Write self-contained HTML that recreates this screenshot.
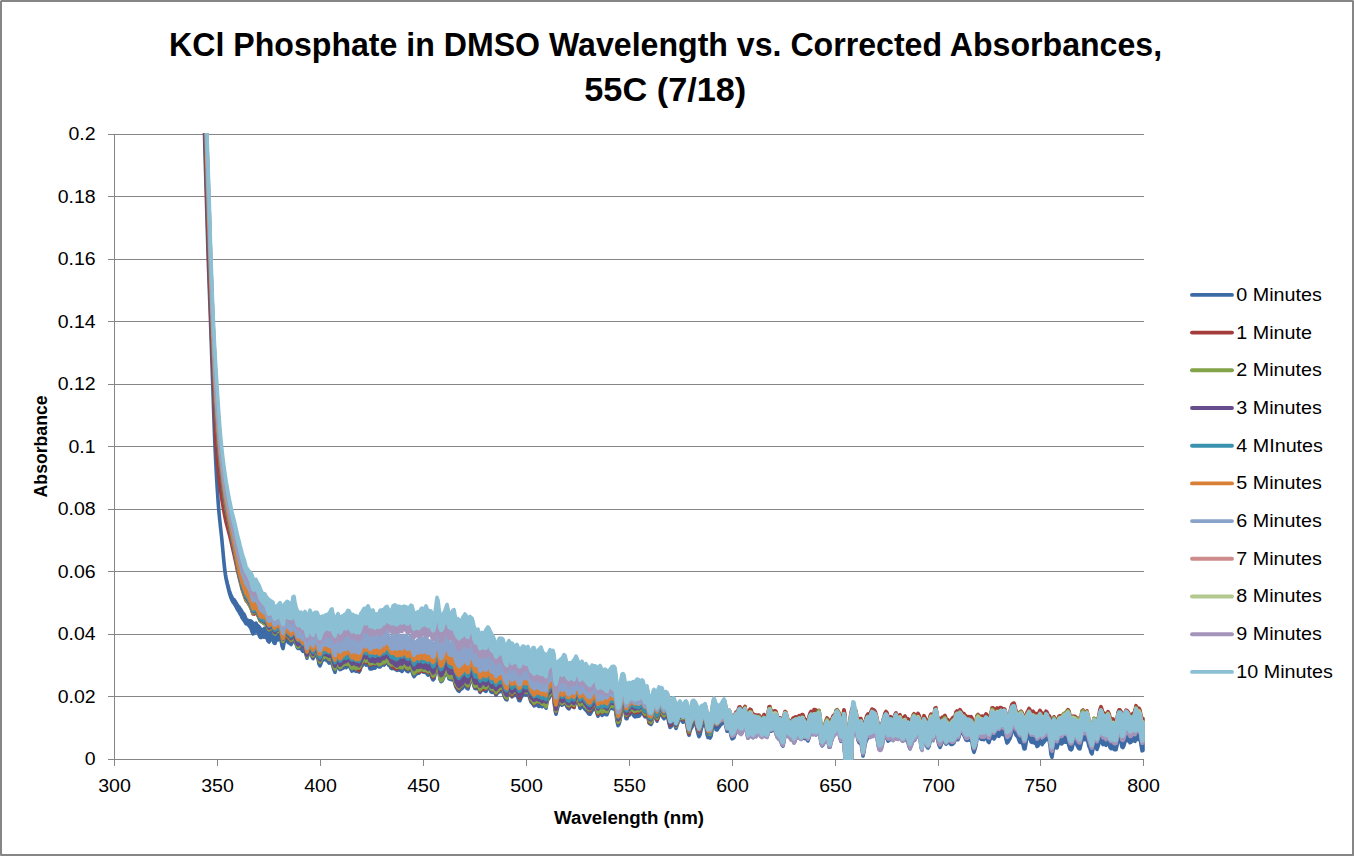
<!DOCTYPE html>
<html><head><meta charset="utf-8"><title>KCl Phosphate in DMSO Wavelength vs. Corrected Absorbances, 55C (7/18)</title>
<style>
html,body{margin:0;padding:0;background:#fff;}
body{width:1354px;height:856px;overflow:hidden;}
svg{display:block;}
text{font-family:'Liberation Sans', Arial, sans-serif;fill:#000;}
</style></head><body>
<svg width="1354" height="856" viewBox="0 0 1354 856">
<rect x="0" y="0" width="1354" height="856" fill="#fff"/>

<rect x="1" y="1" width="1352" height="854" fill="none" stroke="#868686" stroke-width="2"/>
<rect x="0" y="0" width="1" height="1" fill="#d6d6d6"/><rect x="1353" y="0" width="1" height="1" fill="#c2c2c2"/><rect x="0" y="855" width="1" height="1" fill="#a6a6a6"/><rect x="1353" y="855" width="1" height="1" fill="#909090"/>
<path d="M114 134.5H1144 M114 196.5H1144 M114 259.5H1144 M114 321.5H1144 M114 384.5H1144 M114 446.5H1144 M114 509.5H1144 M114 571.5H1144 M114 634.5H1144 M114 696.5H1144 M114 759.5H1144" stroke="#868686" stroke-width="1" fill="none"/>
<path d="M114.5 134V766 M108 134.5H114 M108 196.5H114 M108 259.5H114 M108 321.5H114 M108 384.5H114 M108 446.5H114 M108 509.5H114 M108 571.5H114 M108 634.5H114 M108 696.5H114 M108 759.5H114 M114.5 759V766 M217.5 759V766 M320.5 759V766 M423.5 759V766 M526.5 759V766 M629.5 759V766 M732.5 759V766 M835.5 759V766 M938.5 759V766 M1040.5 759V766 M1143.5 759V766" stroke="#868686" stroke-width="1" fill="none"/>
<text transform="translate(95.6,765.1) scale(1.065,1)" font-size="18.3" text-anchor="end">0</text>
<text transform="translate(95.6,702.6) scale(1.065,1)" font-size="18.3" text-anchor="end">0.02</text>
<text transform="translate(95.6,640.1) scale(1.065,1)" font-size="18.3" text-anchor="end">0.04</text>
<text transform="translate(95.6,577.6) scale(1.065,1)" font-size="18.3" text-anchor="end">0.06</text>
<text transform="translate(95.6,515.1) scale(1.065,1)" font-size="18.3" text-anchor="end">0.08</text>
<text transform="translate(95.6,452.6) scale(1.065,1)" font-size="18.3" text-anchor="end">0.1</text>
<text transform="translate(95.6,390.1) scale(1.065,1)" font-size="18.3" text-anchor="end">0.12</text>
<text transform="translate(95.6,327.6) scale(1.065,1)" font-size="18.3" text-anchor="end">0.14</text>
<text transform="translate(95.6,265.1) scale(1.065,1)" font-size="18.3" text-anchor="end">0.16</text>
<text transform="translate(95.6,202.6) scale(1.065,1)" font-size="18.3" text-anchor="end">0.18</text>
<text transform="translate(95.6,140.1) scale(1.065,1)" font-size="18.3" text-anchor="end">0.2</text>
<text transform="translate(114.5,792) scale(1.07,1)" font-size="18.3" text-anchor="middle">300</text>
<text transform="translate(217.5,792) scale(1.07,1)" font-size="18.3" text-anchor="middle">350</text>
<text transform="translate(320.5,792) scale(1.07,1)" font-size="18.3" text-anchor="middle">400</text>
<text transform="translate(423.5,792) scale(1.07,1)" font-size="18.3" text-anchor="middle">450</text>
<text transform="translate(526.5,792) scale(1.07,1)" font-size="18.3" text-anchor="middle">500</text>
<text transform="translate(629.5,792) scale(1.07,1)" font-size="18.3" text-anchor="middle">550</text>
<text transform="translate(732.5,792) scale(1.07,1)" font-size="18.3" text-anchor="middle">600</text>
<text transform="translate(835.5,792) scale(1.07,1)" font-size="18.3" text-anchor="middle">650</text>
<text transform="translate(938.5,792) scale(1.07,1)" font-size="18.3" text-anchor="middle">700</text>
<text transform="translate(1040.5,792) scale(1.07,1)" font-size="18.3" text-anchor="middle">750</text>
<text transform="translate(1143.5,792) scale(1.07,1)" font-size="18.3" text-anchor="middle">800</text>
<text x="665.6" y="56.2" font-size="33.6" font-weight="bold" text-anchor="middle" textLength="993" lengthAdjust="spacingAndGlyphs">KCl Phosphate in DMSO Wavelength vs. Corrected Absorbances,</text>
<text x="665.3" y="101.2" font-size="33.6" font-weight="bold" text-anchor="middle" textLength="162" lengthAdjust="spacingAndGlyphs">55C (7/18)</text>
<text x="629.1" y="823.6" font-size="18" font-weight="bold" text-anchor="middle" textLength="150" lengthAdjust="spacingAndGlyphs">Wavelength (nm)</text>
<text transform="translate(47,446.4) rotate(-90)" x="0" y="0" font-size="18" font-weight="bold" text-anchor="middle" textLength="102" lengthAdjust="spacingAndGlyphs">Absorbance</text>
<line x1="1192" y1="294.9" x2="1232" y2="294.9" stroke="#3C6BA6" stroke-width="3.9" stroke-linecap="round"/>
<text transform="translate(1236.3,300.8) scale(1.085,1)" font-size="18.2">0 Minutes</text>
<line x1="1192" y1="332.6" x2="1232" y2="332.6" stroke="#A43D3A" stroke-width="3.9" stroke-linecap="round"/>
<text transform="translate(1236.3,338.5) scale(1.085,1)" font-size="18.2">1 Minute</text>
<line x1="1192" y1="370.3" x2="1232" y2="370.3" stroke="#82A348" stroke-width="3.9" stroke-linecap="round"/>
<text transform="translate(1236.3,376.2) scale(1.085,1)" font-size="18.2">2 Minutes</text>
<line x1="1192" y1="408.0" x2="1232" y2="408.0" stroke="#684D8C" stroke-width="3.9" stroke-linecap="round"/>
<text transform="translate(1236.3,413.9) scale(1.085,1)" font-size="18.2">3 Minutes</text>
<line x1="1192" y1="445.7" x2="1232" y2="445.7" stroke="#3A93AE" stroke-width="3.9" stroke-linecap="round"/>
<text transform="translate(1236.3,451.6) scale(1.085,1)" font-size="18.2">4 MInutes</text>
<line x1="1192" y1="483.4" x2="1232" y2="483.4" stroke="#DA7F36" stroke-width="3.9" stroke-linecap="round"/>
<text transform="translate(1236.3,489.3) scale(1.085,1)" font-size="18.2">5 Minutes</text>
<line x1="1192" y1="521.1" x2="1232" y2="521.1" stroke="#8AA3CB" stroke-width="3.9" stroke-linecap="round"/>
<text transform="translate(1236.3,527.0) scale(1.085,1)" font-size="18.2">6 Minutes</text>
<line x1="1192" y1="558.8" x2="1232" y2="558.8" stroke="#CD8C8B" stroke-width="3.9" stroke-linecap="round"/>
<text transform="translate(1236.3,564.7) scale(1.085,1)" font-size="18.2">7 Minutes</text>
<line x1="1192" y1="596.5" x2="1232" y2="596.5" stroke="#B3C98F" stroke-width="3.9" stroke-linecap="round"/>
<text transform="translate(1236.3,602.4) scale(1.085,1)" font-size="18.2">8 Minutes</text>
<line x1="1192" y1="634.2" x2="1232" y2="634.2" stroke="#A594B9" stroke-width="3.9" stroke-linecap="round"/>
<text transform="translate(1236.3,640.1) scale(1.085,1)" font-size="18.2">9 Minutes</text>
<line x1="1192" y1="671.9" x2="1232" y2="671.9" stroke="#8BBFD3" stroke-width="3.9" stroke-linecap="round"/>
<text transform="translate(1236.3,677.8) scale(1.085,1)" font-size="18.2">10 Minutes</text>
<g clip-path="url(#plotclip)"><path d="M203.5 92l.5 21.6 .5 20.4 .5 18.7 .5 17.1 .5 16.6 .5 16.9 .5 17 .5 16.7 .5 15.9 .5 14.9 .5 13.7 .5 13.3 .5 13.1 .5 13.6 .5 14.1 .5 14.3 .5 14.3 .5 14.2 .5 14.1 .5 14.6 .5 14.3 .5 13.3 .5 11.8 .5 10.5 .5 9.8 .5 9.3 .5 8.5 .5 7.9 .5 7.3 .5 6.7 .5 6 .5 5.3 .5 4.8 .5 4.5 .5 4.5 .5 4.5 .5 4.9 .5 5.3 .5 5.6 .5 5.5 .5 5.1 .5 4.7 .5 4 .5 3.3 .5 2.8 .5 2.4 .5 2.1 .5 2.1 .5 1.9 .5 1.9 .5 1.8 .5 1.6 .5 1.4 .5 1.4 .5 1.3 .5 1.2 .5 1 .5 .8 .5 .7 .5 .4 .5 .3 .5 .7 .5 .6 .5 .9 .5 .9 .5 .9 .5 .9 .5 .7 .5 .7 .5 .5 .5 .6 .5 .8 .5 .8 .5 .6 .5 .7 .5 .9 .5 1 .5 .7 .5 .7 .5 .5 .5 .4 .5 1.2 .5 1.2 .5 1.3 .5 1.4 .5 .4 .5 .4 .5 .2 .5 .2 .5 .3 .5 .3 .5-.2 .5-.1 .5 .1 .5 .1 .5 .5 .5 .6 .5 .8 .5 .8 .5 .4 .5 .4 .5-.3 .5-.5 .5-.2 .5-.3 .5 .9 .5 .9 .5 .4 .5 .4 .5 .5 .5 .5 .5 .7 .5 .7 .5 .8 .5 .7 .5 .3 .5 .4 .5-.3 .5-.3 .5-.5 .5-.5 .5-.3 .5-.3 .5 .5 .5 .5 .5 .2 .5 .2 .5 .7 .5 .6 .5-.7 .5-.7 .5 0 .5 0 1 1.3 1-1.2 1 .5 1 3.3 1 2 1-2.4 1-1.5 1-1 1-1.3 1-.8 1 2.3 1 5.8 1 3 1-6.1 1-3.5 1-.2 1-1.5 1 .9 1 1.7 1 1.2 1 2.5 1-1.9 1-7.5 1-.9 1 5.2 1 4.3 1 2.8 1 1.3 1 1.2 1 .3 1-.6 1 1.7 1 .7 1-1.4 1-1.7 1 2.2 1 3.5 1-.7 1-4.5 1-2.9 1 3 1 2.1 1 1.6 1-1.3 1-1.2 1 .6 1 .5 1 2.9 1 5.1 1 1.8 1-2.5 1-.2 1 2.2 1-.8 1-.4 1 .6 1 .5 1 .7 1-.5 1-1.1 1-2.1 1-.5 1 5.6 1 5.6 1 1.4 1-1 1-2.9 1-1.8 1 3 1 2.5 1 .1 1-.8 1 .5 1-.8 1-1 1-.7 1-2 1-1.8 1 .6 1 2.1 1 2.4 1 1.3 1-1.4 1 1 1 0 1-.5 1 .9 1 1.2 1 .7 1-1.8 1-2.3 1-.9 1-1.5 1-1.3 1 .1 1 1.8 1-1.9 1-1.7 1 2.5 1 4.1 1 0 1-1.8 1-1 1 2.1 1 2 1-1.6 1-.7 1 1.1 1-1.1 1-2.9 1-.1 1 .4 1-.1 1 .1 1-1.1 1-.8 1 .1 1 2.4 1 3.3 1-.3 1 1.4 1-1.2 1-3.3 1-.8 1-.3 1 .7 1 2.2 1-.1 1 .3 1 1 1 1.4 1 .6 1-1.3 1-.8 1 .6 1-.8 1 2.2 1 1.6 1-1.1 1-1.4 1-1.2 1 .3 1 3.2 1 3.5 1 .5 1-1.6 1-1.7 1-1.3 1 1.3 1-.5 1-3.7 1 .2 1 2 1 1.1 1-1.3 1-1.7 1 2.7 1 3.1 1 .2 1-1.1 1 .6 1 2.6 1 2.7 1 .7 1-3.1 1-7.6 1-7 1 3.2 1 7.9 1 5.8 1 1.6 1 .6 1-.7 1-2.1 1-2 1-2.8 1-2.9 1 4 1 4.7 1-.4 1 .1 1-1.7 1-1.8 1-.1 1 5.5 1 4.8 1 .3 1-.5 1 1.5 1 .8 1-1.2 1-.9 1-2.6 1-1.4 1-2 1 1.1 1 3.2 1 1.2 1-2.6 1-1.9 1 .9 1-.8 1 2.7 1 3.9 1 1.8 1 1.4 1-2 1-.8 1 3.4 1 1.3 1-1.5 1-2 1 .2 1 .2 1-1.3 1-1.3 1-1.1 1-.9 1 1.2 1 1.7 1 1.1 1 1.4 1 .4 1 1.3 1 2.8 1 0 1 1.1 1-2.4 1-3 1-.4 1 .8 1-.6 1 .2 1 2.6 1 1.6 1 3.4 1 2.4 1-10.1 1-2 1 2.4 1-.1 1-.4 1 1.7 1 3.1 1-.1 1-2.5 1-.7 1 2.6 1 3.9 1 .5 1-1.2 1-3.4 1-2.1 1-.6 1 1.5 1 .7 1-1.8 1-.7 1 3.1 1 4.9 1 .6 1-3.9 1-2.7 1 .3 1 2.6 1 3.1 1 1.5 1-2.5 1-2.3 1-.6 1-1.6 1 2.7 1 1.7 1 .2 1 4.3 1 3.3 1-6.3 1-.7 1-2.1 1-3 1 1 1 .9 1-2.7 1 3.7 1 9.5 1 4.9 1-1.8 1-2.7 1-1.5 1-.5 1-1.7 1-.6 1-1.6 1-1.7 1 .8 1 3.6 1 3.5 1 1.2 1-.9 1-1.1 1 .2 1-.1 1-2.7 1-1.9 1-1.9 1-2 1 2 1 3.2 1 2.2 1 1.6 1-.9 1-1.9 1 2.9 1 2.3 1-1.9 1-.6 1 2.7 1 0 1 2.3 1 2 1-1.6 1-4.3 1 .4 1-.2 1-.3 1 .1 1 1.8 1 2.5 1-2.3 1-2.1 1 1.8 1 4.5 1-.8 1-4.5 1-1.3 1 .1 1 1.5 1 2 1-3 1-3 1-1.8 1-2.3 1-.8 1-.5 1 .6 1 6.8 1 9 1 6.8 1-.1 1-6 1-6.1 1-5 1-.8 1 1 1 5.8 1 6.8 1-2.5 1-2.7 1-1.1 1 .4 1 .2 1-.4 1-.1 1 .5 1 .4 1-1.2 1-1.4 1 .2 1 1.1 1 .4 1-.7 1-1.4 1 .3 1 3.1 1 2.2 1-1.9 1-1.1 1 5.1 1 3.8 1 3.1 1 .9 1-2.1 1-5.5 1-1.6 1 2.2 1 .3 1 1.9 1-4.7 1-3 1 .8 1-.6 1-.2 1 3.2 1 2.3 1-.3 1-2.7 1-.6 1 1.2 1 3.2 1 1.3 1-.5 1-.8 1-2.3 1 .2 1 2.9 1 3.6 1 .6 1-1.8 1-2.3 1-1.3 1 3.4 1-.2 1 .7 1-.2 1-.7 1-.5 1 1.6 1 6.9 1 5.2 1-1.1 1-6 1-5.4 1-1.2 1 0 1 .9 1 1.8 1 2.3 1 4.1 1 2.2 1-2 1-1.4 1-1.3 1-.5 1-1 1-1.4 1 3 1 5.7 1 2.5 1-1.1 1 1.9 1 .9 1-7.2 1-8.6 1-3 1 2 1 3.2 1 0 1 .3 1 1.9 1-1.2 1-2.3 1-1.7 1-2.1 1-1.9 1 1 1 6.3 1 3.7 1-.7 1-2.1 1 2.1 1 4.5 1 4.9 1 2.1 1-3.4 1-3.4 1-2.1 1 1.6 1-3.1 1-3 1-.2 1 2.7 1 2.3 1-1.5 1-4.3 1-1.6 1 5.5 1 1.9 1 .5 1-1.4 1-2.2 1 .1 1 2.5 1 1.1 1-.2 1 .4 1 .4 1 1.1 1-.7 1-.2 1 1.2 1 1.8 1 1.7 1-2.3 1-2.8 1 1.3 1 1.3 1-1.5 1-2.2 1-6.6 1 .1 1 4.2 1 1.1 1 .6 1-.4 1-.7 1-.1 1 2.4 1 3.8 1 .3 1-1.4 1 1.2 1 1.5 1-.2 1-3.4 1-4 1 .2 1 3.9 1 3.3 1 .4 1 1.9 1 1.8 1-1.4 1-2.9 1 0 1-1.5 1-.5 1 .8 1-.7 1-1.8 1 1.6 1 1.5 1-4.3 1 .5 1 3.4 1 1.7 1 .9 1 2.6 1-1 1-4.2 1-3.6 1-2.1 1 2.2 1-.3 1-3.4 1 .2 1 .4 1 .1 1-.3 1-1.2 1 4.9 1 10.2 1 1.4 1-.7 1-.6 1-1.6 1-2.8 1-1.9 1 1.5 1 3.3 1 .9 1-3 1-2.4 1-3.3 1-1.6 1-.1 1-4.7 1-.7 1 1.6 1 2.2 1 6 1 2.2 1-1.6 1-1.6 1-5.4 1 3.9 1 14.2 1 11 1-.4 1-10.1 1-10.6 1-6.2 1-4 1-2.3 1 .9 1 .3 1 2.1 1 6.7 1 3.3 1 .8 1-1.9 1 .1 1 4.7 1 4.5 1-.8 1-4.9 1-3.7 1-2.6 1-1.5 1 .6 1 0 1-4.4 1-2.5 1 1.9 1-1 1 .8 1 2.5 1 4.1 1 5 1 3.1 1 .7 1-.9 1-2.3 1-2.9 1-2.7 1-2.9 1-1 1 1.2 1 3.5 1 2.3 1-1.3 1-2 1 1 1 1.8 1-1.3 1-5.4 1-1.5 1 4.1 1 2.9 1-3.3 1-.8 1 3.2 1 2.6 1-.6 1-2 1-.6 1 3.4 1 2 1-1.7 1 .5 1 2.2 1-1.3 1-4 1-3.6 1-1.2 1 2 1 1.8 1-1.1 1-1.8 1 1.1 1 2.6 1 8.5 1 1.4 1-8.2 1-4.5 1 2.1 1 2.6 1 3.8 1 1.6 1-3.8 1-4.6 1-1.9 1 1.8 1 1.3 1-3 1-6.5 1-.5 1 6.5 1 4.8 1 4.2 1 1.6 1-3.1 1-2 1 .1 1-2.4 1-1.4 1 2.2 1 1.5 1 .6 1 2.4 1 .6 1-.5 1-2.6 1-1.4 1 .2 1-2.2 1-4.4 1-1.3 1 3.1 1-.6 1-3 1 1.5 1 2.3 1 0 1 .4 1 1.9 1 .3 1 1.8 1 .5 1-1.3 1 1.1 1 .5 1 2.2 1 6.6 1 3.2 1-3.4 1-5.4 1-5.2 1-1.6 1 2.6 1-.3 1 .9 1-.1 1 .6 1 1.2 1-1.6 1-1.6 1 1.4 1 2.3 1 1 1-1.4 1-3.7 1-4.9 1 .7 1 6 1-.3 1-3.7 1-1.4 1 .8 1 1 1-2.5 1-.3 1 .6 1 .2 1-.4 1 1 1 4.5 1 4.6 1 .3 1-3.4 1-4.4 1-4.5 1-2.4 1-.6 1-.1 1 3.2 1 4.2 1 1 1 .6 1 1.3 1-1.6 1-.6 1 1.9 1 2.5 1 4.3 1 .9 1-3.3 1-4.1 1-2 1-2.2 1 1.7 1 3.4 1-.4 1-.5 1 1.4 1 1.1 1-.8 1 .5 1 .5 1-2.2 1-1.9 1 1.9 1 1.3 1-.4 1 1.1 1-1.2 1-3.9 1 .7 1 3 1 .7 1 2.4 1 6.9 1 4.3 1-6.2 1-4.4 1 1.7 1 3.7 1-1.3 1-3 1-2.7 1-.3 1 1 1-.7 1-1.3 1-1.3 1-.7 1-.8 1-1.4 1-1.3 1 1.5 1 3.8 1 3.6 1-2.3 1-1.6 1 .5 1 .4 1 2.2 1 .9 1-.3 1 .5 1 1 1-2.3 1-6.4 1-1.2 1 1.8 1 1.2 1-.3 1-1.9 1 3.9 1 4.7 1 3.5 1 2.2 1 0 1-4 1-4.1 1 .7 1 2.5 1 1.6 1-.7 1-5.1 1-5.2 1-2.9 1 2.8 1 3.7 1-.7 1 .3 1 2.4 1-2.9 1-2.2 1 2.6 1 4.6 1 2.8 1 .2 1-.5 1 .7 1 1.3 1-.8 1-3.5 1-6.3 1-2.5 1 0 1 1.8 1 3.6 1 2.3 1-1.2 1-3.1 1-1.7 1 .6 1 1.2 1 1.8 1 2.4 1 .7 1-1.9 1-1.3 1-.3 1-3.2 1-4.7 1 2.1 1 2.4 1-1.3 1 2.2 1 5.7 1 4.4 1-1.4L1143 750.5l-1 .3 -1-6.1 -1-7.2 -1 .2 -1 1.8 -1-.3 -1-.7 -1 2.8 -1-.4 -1-1.4 -1 .8 -1 2 -1 .4 -1-2.4 -1-.6 -1 1.1 -1-.3 -1 1.1 -1 3.8 -1 2.2 -1-.4 -1-4.8 -1-6.5 -1 .2 -1 3.6 -1 5.9 -1 4.2 -1 0 -1-.5 -1-1.2 -1-.1 -1 .6 -1-1.2 -1-3.3 -1-3.3 -1 1.5 -1 3 -1-2.8 -1-.1 -1 2.2 -1-1.7 -1-4.2 -1-.1 -1 4.2 -1 3.9 -1 2.6 -1-1.8 -1-5.3 -1 .5 -1 6.1 -1 5.1 -1-1.4 -1-4 -1-2 -1-4.4 -1-4.2 -1 1.6 -1 .3 -1-1.3 -1-1.9 -1 3.4 -1 4.4 -1 4.5 -1-.1 -1-1.6 -1-2 -1-2 -1-3.5 -1 .2 -1 4.2 -1 4.8 -1 .9 -1-.6 -1-3.3 -1-3.6 -1-.7 -1 .6 -1 0 -1-2 -1 1.4 -1 2.3 -1-.1 -1-2.6 -1-.3 -1 3.7 -1 3.4 -1-.2 -1-2 -1 .4 -1 4.5 -1 6.6 -1-2.8 -1-9 -1-5.3 -1-1 -1-.3 -1 .4 -1 1.3 -1 1.4 -1 1.2 -1 1.4 -1-1.5 -1-4.8 -1 1.9 -1 5.8 -1 .5 -1-3.6 -1 .3 -1-.3 -1-1.8 -1 1.2 -1-.5 -1-3.2 -1-4.4 -1-.2 -1 3.2 -1 6.1 -1 5.6 -1 0 -1-4.2 -1-2.5 -1 0 -1 .2 -1-2 -1-2.9 -1-1.3 -1-1.2 -1-4 -1-2.5 -1 1.8 -1 1.9 -1 3.3 -1 3.2 -1 1.7 -1 1.6 -1 1 -1-3.7 -1-5.3 -1-2.6 -1 3.2 -1-.6 -1-1.1 -1 1.3 -1 2.1 -1-.4 -1-.9 -1-.5 -1 2.9 -1 1.5 -1-2.1 -1 .1 -1 1.4 -1 1 -1 3.3 -1-1.1 -1-5.5 -1 .7 -1 1 -1 2 -1-.8 -1 .5 -1-.1 -1-2.1 -1-1 -1 1 -1 1.8 -1 6.6 -1 3.5 -1 3.2 -1-3.1 -1-6.6 -1-2.1 -1-.2 -1-.7 -1 .3 -1 .6 -1-.5 -1-2.2 -1-2 -1-2 -1-.3 -1-1.3 -1-.5 -1 5.4 -1 2.6 -1-3.8 -1 .4 -1 4.3 -1 2.1 -1 1.3 -1 .5 -1 0 -1-1.6 -1-.5 -1-2.6 -1 3.6 -1 .8 -1-2.2 -1-.4 -1-.8 -1 1 -1 3.6 -1 1.9 -1-2 -1-3.8 -1-6.6 -1-3.5 -1 1.8 -1 4.4 -1 3 -1-1.2 -1-.9 -1 3.2 -1 4.9 -1 1.5 -1-1.3 -1-2.9 -1-3.7 -1-2.2 -1 4 -1 7.8 -1-2.9 -1-10 -1-3.5 -1 .2 -1 .3 -1 3.7 -1 2.3 -1 .6 -1 .6 -1 2.5 -1 2.8 -1 2.5 -1-2.5 -1-3.9 -1-1.6 -1-1.2 -1-1.5 -1 1.3 -1 1.6 -1-.5 -1-3 -1-.8 -1-.7 -1 3.3 -1-.6 -1-5.3 -1 .1 -1 5.8 -1 .9 -1-3 -1-.9 -1 1.2 -1 3.1 -1 .4 -1-3.8 -1-2.5 -1 1.8 -1 2 -1 2.3 -1 5.4 -1 2.4 -1 .2 -1-.4 -1-4.5 -1-7.4 -1-3.3 -1 .9 -1 1.1 -1 .4 -1-.7 -1 1.4 -1 1 -1-2.5 -1 2.3 -1 2.1 -1 2 -1 3.8 -1 6.6 -1 4.3 -1-6.7 -1-6 -1-.1 -1-.7 -1-2.2 -1-5.4 -1-4.7 -1-.4 -1 1.1 -1 2.1 -1 10 -1 31.2 -1 26.8 -1 7.3 -1 .7 -1-2.1 -1-13.6 -1-32.3 -1-23.5 -1 1.2 -1 2.4 -1 .3 -1-2.9 -1-4.8 -1-3.3 -1-2.6 -1 2.8 -1 3.6 -1 1.2 -1 1 -1 3 -1 2.9 -1 5 -1 0 -1-6.2 -1-2.7 -1 1 -1 1.7 -1 2 -1 1.8 -1 .9 -1-2 -1-8.9 -1-5.7 -1 .5 -1 4 -1 1.3 -1-2.4 -1 .9 -1 1 -1-2.1 -1-.2 -1 2.8 -1 3.2 -1 2.7 -1-1.5 -1-1 -1 .4 -1-.6 -1-2.3 -1 1 -1 2.5 -1-1.1 -1-1.6 -1 1 -1-.6 -1 .4 -1 3.6 -1 1.7 -1-2.5 -1-1.3 -1 .2 -1-1.5 -1-.7 -1-.9 -1-2.2 -1-.4 -1 1.6 -1 6.3 -1 4.8 -1-1.3 -1-3 -1-1.8 -1-.8 -1-1.2 -1-1.3 -1-3.1 -1-2.9 -1-.9 -1-.6 -1 1.6 -1 .3 -1-3.3 -1 .3 -1 6.1 -1 3 -1-.8 -1-1.6 -1-1.1 -1 2.2 -1 1.2 -1-.7 -1-1.9 -1-1.1 -1 .9 -1 .3 -1 1.8 -1-.6 -1-.7 -1 2.5 -1-2 -1-6 -1 3 -1 4.6 -1 .9 -1-4.1 -1-5 -1-3 -1 .7 -1 2.3 -1 3.9 -1 1.1 -1-.7 -1-1.1 -1-.3 -1-.1 -1 .4 -1 1.9 -1 3.4 -1 .9 -1 .3 -1-3.2 -1-5.2 -1-1 -1 1.6 -1 .2 -1-4.1 -1-5.8 -1-.9 -1 1.9 -1 1.4 -1 .9 -1 1 -1 1.6 -1 1.2 -1 1.6 -1-.3 -1-5.4 -1-3.8 -1 1.4 -1 8.6 -1 5.9 -1 1.6 -1-.9 -1 .4 -1-3.1 -1-7.8 -1-3.5 -1 1.8 -1 1 -1 .4 -1 4.1 -1 4.4 -1 1.8 -1-2.9 -1-4.3 -1-5.1 -1-3.1 -1 .4 -1 2.7 -1 2.8 -1 1.6 -1 2.5 -1 4 -1-3.5 -1-6.8 -1-3.3 -1-.8 -1 .8 -1 .6 -1-1.1 -1-1.4 -1-1 -1 .3 -1 3.4 -1 3.3 -1 2.7 -1-2.8 -1-4.1 -1 .7 -1 2.1 -1 2.6 -1 .4 -1-3.9 -1-4.7 -1-2.5 -1-.1 -1 1.2 -1 1.4 -1-1.3 -1-3.3 -1-1.6 -1 1.7 -1 1.5 -1 2.9 -1 2.5 -1-3.6 -1-.2 -1-1.5 -1 2 -1 4.8 -1 1.9 -1-.6 -1-.9 -1-6.2 -1-3.4 -1 .6 -1 2.8 -1-1.6 -1-2.8 -1-.2 -1 1.1 -1 1.5 -1 1.3 -1 .3 -1-.2 -1 .2 -1 .5 -1-.8 -1-1.5 -1-1.5 -1-1.4 -1 2.3 -1 1.3 -1 .1 -1 3.2 -1 0 -1-6.7 -1-5.4 -1 1 -1 1.4 -1 5.6 -1 6.3 -1 3.5 -1 1.2 -1-4.1 -1-7.3 -1-6.8 -1 .2 -1 1.3 -1-.9 -1 .2 -1 .3 -1 1.2 -1 2.3 -1 2.8 -1-.1 -1-3.5 -1-.2 -1 3.9 -1 .6 -1-1.9 -1-2 -1 1.9 -1 2.8 -1-2.9 -1-4.8 -1-.7 -1 .6 -1 1.7 -1 .4 -1 2.2 -1 1.6 -1-.3 -1-1.2 -1-1.5 -1-1 -1-1 -1-1.6 -1-1.1 -1-1.1 -1 1.9 -1 .9 -1-3.5 -1-4.2 -1-.3 -1 1.4 -1 1.9 -1 4 -1-1.1 -1-2.6 -1 .2 -1 3.1 -1 1.6 -1-.5 -1-1.4 -1-2.7 -1-2.8 -1 .4 -1 2.9 -1 .5 -1-1.5 -1 .1 -1 .6 -1 1.9 -1 3.8 -1 4.1 -1-3.8 -1-10.3 -1-6.2 -1-.7 -1 1.7 -1 .5 -1 2.9 -1 1 -1 2.7 -1 6.1 -1-2.5 -1-1.7 -1 2.1 -1 .7 -1-1 -1-1.9 -1 2.5 -1-.5 -1-4.7 -1 1.4 -1 3 -1 .4 -1-1.7 -1-1.1 -1-1.1 -1-3.1 -1-3.4 -1-1.5 -1 .5 -1 .3 -1-.5 -1-1.6 -1 1.2 -1 2.3 -1 1.4 -1 3.2 -1-.2 -1-2.7 -1-2.5 -1-2.9 -1 2.8 -1 .3 -1 .1 -1 1.2 -1-1.9 -1-3.5 -1-1.4 -1 1.7 -1 8.1 -1-.3 -1-1.7 -1-2.3 -1-4.6 -1-.7 -1 1.3 -1-1.6 -1 1.2 -1 1.6 -1 .5 -1 1.9 -1-2 -1-2.3 -1-.1 -1 1.6 -1-.5 -1-2.8 -1-1.6 -1-1.5 -1 2.8 -1 2.6 -1-.7 -1-.6 -1-1 -1 0 -1 1.9 -1 1.4 -1-2.7 -1-3.5 -1 .3 -1 2.3 -1-.2 -1-2.4 -1-4.8 -1-1.6 -1 .8 -1 1.6 -1 3.1 -1 3.6 -1-.5 -1-1.9 -1-1.3 -1 .6 -1 1.6 -1 1.3 -1 .5 -1 .8 -1 1.4 -1-.9 -1-1.7 -1-1.5 -1-3.2 -1-4.3 -1 .1 -1-.1 -1-.3 -1-.3 -1-.4 -1-4.1 -1-4.6 -1 2.4 -1 2.6 -1 1.5 -1 2.5 -1 2 -1 .5 -1-2.3 -1-6.5 -1-4.9 -1-3.5 -1 4.6 -1 5.7 -1 4.3 -1 .9 -1-1.9 -1-3.1 -1-3.8 -1 2 -1 2.1 -1-1.3 -1-2.9 -1 1.4 -1-.1 -1-.2 -1-5 -1-1.2 -1 5.8 -1 1.4 -1 0 -1 .6 -1 .1 -1 1.6 -1 1.2 -1-2.2 -1-2.9 -1-1.1 -1-.3 -1 .1 -1 1.5 -1-.5 -1-1.2 -1-1.2 -1-.6 -1 1.1 -1 2.2 -1-1.2 -1 0 -1-.4 -1-.1 -1 .6 -1-.7 -1-.7 -1-.4 -1-1.2 -1 1.3 -1-.5 -1-2.3 -1-.3 -1-2 -1-.5 -1-.3 -1 1 -1 1.3 -1-1 -1 .2 -1 1.7 -1 1 -1-.1 -1-1.5 -1 0 -1 1.4 -1 1.4 -1-.2 -1 .1 -1 .8 -1-.1 -1 .1 -1-2.9 -1-3.1 -1 .3 -1 2 -1-2.6 -1-2.4 -1 2.4 -1 3.5 -1 1 -1 3.4 -1 1.5 -1-1.1 -1 .2 -1 .3 -1-.8 -1-2.3 -1 2.1 -1 .7 -1-1.7 -1-2.5 -1-1 -1 .5 -1 .2 -1 1.1 -1-.8 -1 .6 -1 .6 -1 0 -1 1.2 -1 .3 -1-2 -1-2.1 -1 .7 -1 1.9 -1 4.2 -1-2.4 -1-3.4 -1-3.1 -1-2 -1 1.3 -1 .4 -1-2.2 -1-.1 -1-1.3 -1-.2 -1 .4 -1 .4 -1 .6 -1 2.8 -1 2.4 -1-1.8 -1-5.5 -1-2 -1-2.1 -1-1.8 -1 2.9 -1 3 -1-1.8 -1-5.8 -1-4.4 -1 2.8 -1 5.8 -1 3 -1-3.6 -1-3.9 -1 .3 -1 .4 -1-1.3 -1-1.7 -1 .1 -1-.3 -1 .3 -1-1.5 -1-3.1 -1-2.6 -1-4.1 -1-.3 -1 6.1 -1 1.5 -1-1.3 -1-.2 -1-.8 -1-2.1 -1-1.2 -1 .6 -1 3.7 -1 5.4 -1-2.8 -1-5.5 -1-2.6 -1 .4 -1 1.8 -1-.7 -1 .7 -1 3.6 -1-.6 -1-3.2 -1-1.6 -1 .7 -1 1.6 -.5 .8 -.5 .8 -.5-.5 -.5-.5 -.5-1.2 -.5-1.2 -.5-.8 -.5-.9 -.5-.2 -.5-.2 -.5 .3 -.5 .3 -.5 0 -.5-.1 -.5-.1 -.5 0 -.5 .3 -.5 .4 -.5-.2 -.5-.3 -.5-1.1 -.5-1.2 -.5-.9 -.5-1 -.5-.6 -.5-.7 -.5-1.1 -.5-1 -.5 .4 -.5 .3 -.5 1.7 -.5 1.6 -.5 .2 -.5 .2 -.5-1.2 -.5-1.2 -.5-1.4 -.5-1.4 -.5-.8 -.5-.9 -.5-.7 -.5-.6 -.5-.6 -.5-.7 -.5-.2 -.5-.2 -.5-.1 -.5-.1 -.5-.9 -.5-.9 -.5-.8 -.5-.8 -.5-.7 -.5-.8 -.5-.6 -.5-.6 -.5-1.3 -.5-1.3 -.5-.7 -.5-.7 -.5-1.1 -.5-1 -.5-.6 -.5-.6 -.5-.9 -.5-.8 -.5-1.1 -.5-1.1 -.5-.8 -.5-.9 -.5-.7 -.5-.9 -.5-.5 -.5-.6 -.5-.9 -.5-1 -.5-1.1 -.5-1.2 -.5-1.5 -.5-1.5 -.5-1.7 -.5-1.8 -.5-2 -.5-2.1 -.5-2.1 -.5-2.2 -.5-2.2 -.5-2.4 -.5-3 -.5-3.4 -.5-4.1 -.5-4.8 -.5-5.4 -.5-5.6 -.5-5.7 -.5-5.4 -.5-4.9 -.5-4.5 -.5-4.5 -.5-4.5 -.5-4.8 -.5-5.3 -.5-6 -.5-6.7 -.5-7.3 -.5-7.9 -.5-8.5 -.5-9.3 -.5-9.8 -.5-10.5 -.5-11.8 -.5-13.3 -.5-14.3 -.5-14.6 -.5-14.1 -.5-14.2 -.5-14.3 -.5-14.3 -.5-14.1 -.5-13.6 -.5-13.1 -.5-13.3 -.5-13.7 -.5-14.9 -.5-15.9 -.5-16.7 -.5-17 -.5-16.9 -.5-16.6 -.5-17.1 -.5-18.7 -.5-20.4 -.5-21.6Z" fill="#3C6BA6" stroke="#3C6BA6" stroke-width="3.6" stroke-linejoin="round"/>
<path d="M204 92l.5 21.6 .5 20.4 .5 18.7 .5 17.1 .5 16.6 .5 16.9 .5 17 .5 16.7 .5 15.9 .5 14.9 .5 14.1 .5 13.4 .5 13.2 .5 13 .5 12.9 .5 12.7 .5 12.5 .5 12.3 .5 12.1 .5 12.7 .5 13.2 .5 12.8 .5 11.4 .5 9.4 .5 7.1 .5 6.4 .5 5.8 .5 5.5 .5 5 .5 4.6 .5 4.4 .5 4 .5 3.8 .5 3.5 .5 3.4 .5 3.2 .5 3 .5 2.9 .5 2.8 .5 2.6 .5 2.5 .5 2.3 .5 2.2 .5 2.2 .5 1.9 .5 1.7 .5 1.8 .5 1.6 .5 1.7 .5 1.8 .5 1.7 .5 1.7 .5 1.9 .5 1.9 .5 2.2 .5 2.2 .5 2 .5 2.1 .5 1.9 .5 1.8 .5 2.2 .5 2.1 .5 2.4 .5 2.4 .5 2.2 .5 2.3 .5 2 .5 2 .5 1.9 .5 1.8 .5 2 .5 1.9 .5 1.7 .5 1.6 .5 1.9 .5 1.9 .5 1.5 .5 1.6 .5 1.2 .5 1.2 .5 1.8 .5 1.8 .5 1.9 .5 1.9 .5 .9 .5 .9 .5 .6 .5 .5 .5 .6 .5 .5 .5 0 .5 0 .5 .2 .5 .2 .5 .7 .5 .7 .5 1 .5 1.1 .5 .6 .5 .8 .5-.1 .5-.1 .5 .1 .5 0 .5 1.1 .5 1.2 .5 .6 .5 .6 .5 .6 .5 .5 .5 .8 .5 .8 .5 1 .5 1 .5 .8 .5 .8 .5 .2 .5 .3 .5 0 .5-.1 .5 0 .5 0 .5 .6 .5 .6 .5 .3 .5 .2 .5 .6 .5 .7 .5-.6 .5-.6 .5 .2 .5 .3 1 2 1-.5 1 .8 1 3.3 1 2 1-2.1 1-1.1 1-.5 1-.9 1-.3 1 2.8 1 6.2 1 3.3 1-5.7 1-3 1 .4 1-.8 1 1.4 1 2 1 1.4 1 2.7 1-1.7 1-7 1-.6 1 5.6 1 4.4 1 2.5 1 .8 1 .4 1-.4 1-1 1 1.6 1 1.1 1-.8 1-1 1 2.8 1 4 1-.3 1-4.4 1-2.9 1 2.9 1 1.9 1 1.3 1-1.7 1-1.5 1 .5 1 .3 1 2.6 1 4.7 1 1.7 1-2.3 1 .1 1 2.4 1-.6 1-.3 1 .5 1 .4 1 .5 1-.5 1-1.2 1-1.9 1-.5 1 5.7 1 5.4 1 1.1 1-1.1 1-2.8 1-1.4 1 3.7 1 2.9 1 .1 1-1.1 1 .1 1-1 1-1 1-.7 1-2.2 1-2 1 .3 1 1.9 1 2.2 1 1.2 1-1.3 1 1.3 1 .6 1 .3 1 1.5 1 1.6 1 .7 1-2.2 1-2.9 1-1.6 1-1.8 1-1.3 1 .4 1 2.1 1-1.8 1-1.9 1 2.2 1 3.5 1-.5 1-2 1-1.1 1 2.3 1 2.3 1-1.2 1-.4 1 1.5 1-.9 1-2.7 1 .2 1 .7 1 .2 1 .1 1-1.2 1-1.1 1-.3 1 2 1 3.1 1-.3 1 1.8 1-.7 1-2.7 1-.2 1-.2 1 .7 1 1.8 1-.7 1-.4 1 .3 1 .9 1 .7 1-.9 1-.2 1 1.1 1-.8 1 2.1 1 1.3 1-1.5 1-1.8 1-1.3 1 .4 1 3.3 1 3.7 1 .7 1-1.4 1-1.3 1-.6 1 1.9 1-.1 1-3.6 1 .1 1 1.8 1 .8 1-1.6 1-2.2 1 2.2 1 2.9 1 .2 1-.8 1 .8 1 2.5 1 2.4 1 .3 1-3.3 1-7.6 1-7.1 1 3.2 1 8.1 1 5.8 1 1.8 1 .5 1-.8 1-2.2 1-2.1 1-2.6 1-2.7 1 4.2 1 4.8 1-.4 1 .1 1-1.7 1-1.6 1 .2 1 5.7 1 4.8 1 .2 1-.8 1 1.4 1 .6 1-1.4 1-1.2 1-3.1 1-1.7 1-2.1 1 1.6 1 3.8 1 1.6 1-2.4 1-1.9 1 1 1-.7 1 2.9 1 4 1 1.8 1 1.3 1-2.2 1-.9 1 3.7 1 1.7 1-.9 1-1.7 1 .2 1-.2 1-2.1 1-2.1 1-1.8 1-1.2 1 1 1 1.8 1 1.5 1 1.9 1 1 1 1.6 1 2.9 1 .2 1 1.2 1-2.5 1-3.3 1-.9 1 .4 1-.9 1 .1 1 2.8 1 2.1 1 3.9 1 2.7 1-9.8 1-2 1 2.4 1-.1 1-.5 1 1.2 1 2.8 1-.5 1-2.7 1-.9 1 2.5 1 3.9 1 .7 1-.9 1-3.3 1-2.1 1-.7 1 1.4 1 .6 1-1.8 1-.6 1 3.3 1 5.1 1 .9 1-3.8 1-2.7 1 .1 1 2.2 1 2.7 1 .9 1-2.7 1-2.4 1-.4 1-1.3 1 3.2 1 2.2 1 .5 1 4.4 1 3.3 1-6.5 1-.9 1-2.1 1-2.8 1 1.3 1 1.1 1-2.7 1 3.4 1 9.1 1 4.5 1-2 1-2.7 1-1.1 1 0 1-1.3 1-.6 1-1.9 1-2.1 1 .5 1 3.5 1 3.6 1 1.4 1-.5 1-.5 1 .8 1 .2 1-2.5 1-1.9 1-2.1 1-2.3 1 1.5 1 2.7 1 1.7 1 1.1 1-1.3 1-2.3 1 2.6 1 2.2 1-1.8 1-.3 1 2.9 1 0 1 2.4 1 2.1 1-1.6 1-4.2 1 .3 1-.1 1 .3 1 .5 1 2.1 1 2.3 1-2.7 1-2.4 1 1.7 1 4.5 1-.7 1-4.6 1-1.5 1-.1 1 1.5 1 2.2 1-2.7 1-2.7 1-1.6 1-2.4 1-1 1-1.1 1 .3 1 6.6 1 9.2 1 7.2 1 .3 1-5.5 1-6.1 1-5.2 1-1.1 1 .8 1 5.8 1 6.7 1-2.3 1-2.2 1-.7 1 .6 1-.1 1-1.1 1-1 1-.1 1 .2 1-1.1 1-1.3 1 .3 1 1 1 .3 1-.6 1-1 1 1.2 1 4 1 2.8 1-1.5 1-.8 1 5.2 1 3.6 1 2.7 1 .2 1-2.9 1-6 1-1.6 1 2.6 1 .8 1 2.6 1-4.5 1-3 1 .6 1-.7 1-.2 1 2.8 1 1.8 1-.6 1-2.8 1-.4 1 1.4 1 3.5 1 1.4 1-.3 1-.8 1-2.5 1 0 1 2.8 1 3.8 1 .8 1-1.4 1-2.2 1-1.3 1 3.1 1-.7 1 .1 1-.5 1-.4 1 .2 1 2.3 1 7.1 1 4.7 1-2.1 1-6.8 1-5.7 1-1 1 .7 1 1.4 1 2 1 2 1 3.2 1 1.1 1-3 1-2 1-1.3 1-.1 1-.7 1-1.3 1 3.1 1 5.9 1 2.7 1-1 1 1.6 1 .4 1-7.6 1-8.7 1-2.8 1 2.4 1 3.6 1 .4 1 .7 1 2.1 1-1.2 1-2.4 1-2 1-2.4 1-2 1 .8 1 6.3 1 3.8 1-.7 1-2.3 1 1.7 1 3.9 1 4.3 1 1.7 1-3.6 1-3.6 1-2.2 1 1.4 1-3.3 1-3.2 1-.2 1 2.9 1 2.9 1-.9 1-3.7 1-1.7 1 5.2 1 1.4 1 0 1-1.6 1-2.1 1 .4 1 3.1 1 1.5 1 .1 1 .4 1 .3 1 1 1-.9 1-.1 1 1.5 1 1.8 1 1.5 1-2.5 1-2.8 1 1.6 1 1.5 1-1.6 1-2.4 1-6.8 1-.2 1 3.8 1 .7 1 .2 1-.4 1-.2 1 .8 1 3.5 1 4.4 1 .4 1-2 1 .5 1 1 1-.6 1-3.5 1-3.7 1 .7 1 4.2 1 3.3 1 .2 1 1.7 1 1.3 1-1.7 1-3.1 1 .2 1-1.3 1-.2 1 1 1-.5 1-1.7 1 1.7 1 1.6 1-4.4 1 .3 1 3.1 1 1.3 1 .6 1 2.3 1-1.2 1-4.3 1-3.5 1-1.7 1 2.2 1-.3 1-3.7 1 0 1 .4 1 .6 1 .4 1-.3 1 5.7 1 10.8 1 1.5 1-1 1-1.1 1-2.4 1-3.7 1-2.6 1 1.1 1 3.4 1 1.1 1-2.6 1-2 1-2.9 1-1.2 1 .1 1-4.5 1-.7 1 1.3 1 1.6 1 5.2 1 1.2 1-2.4 1-1.8 1-5.1 1 4.8 1 14.8 1 11.4 1-.5 1-10.4 1-10.8 1-6.4 1-4 1-2.1 1 1.3 1 .9 1 2.4 1 6.6 1 2.9 1 .2 1-2.2 1-.1 1 4.9 1 4.5 1-.8 1-5.1 1-4 1-2.8 1-1.4 1 1 1 .5 1-4 1-2.3 1 1.9 1-.9 1 1 1 2.8 1 4.4 1 5.2 1 3 1 .7 1-1.1 1-2.6 1-3.4 1-3.3 1-3.6 1-1.6 1 1.1 1 3.9 1 2.7 1-.8 1-1.7 1 1.4 1 2.2 1-1 1-5.1 1-1.4 1 3.9 1 2.6 1-3.7 1-.9 1 3 1 2.4 1-.8 1-2.3 1-1 1 2.8 1 1.7 1-1.8 1 1 1 2.9 1-.5 1-3.4 1-3.4 1-1.6 1 1.3 1 1.3 1-1.2 1-1.7 1 1.7 1 3.1 1 9 1 1.5 1-8.3 1-4.7 1 1.9 1 2.2 1 3.5 1 1.4 1-3.9 1-4.7 1-2 1 1.7 1 1.3 1-2.9 1-6.1 1-.4 1 6.2 1 4.2 1 3.4 1 1.1 1-3.4 1-1.8 1 .6 1-1.7 1-.9 1 2.5 1 1.5 1 .3 1 2 1 .4 1-.8 1-2.7 1-1.2 1 .7 1-1.9 1-4.2 1-1.2 1 3 1-.8 1-3.3 1 1.3 1 2.2 1 0 1 .4 1 2 1 .2 1 1.9 1 .4 1-1.6 1 .5 1-.4 1 1.5 1 6.2 1 3.4 1-2.9 1-4.6 1-4.6 1-1.2 1 2.5 1-.7 1 .3 1-.5 1 .4 1 1.1 1-1.8 1-1.9 1 1.1 1 2.1 1 1.1 1-1.3 1-3.6 1-5.4 1-.1 1 5.2 1-.6 1-3.4 1-1 1 1.1 1 1 1-2.4 1-.1 1 1 1 .6 1-.4 1 .8 1 4.1 1 4.5 1 .7 1-2.8 1-4.2 1-4.7 1-2.9 1-1 1-.2 1 3.3 1 4.4 1 1.2 1 .7 1 1.3 1-1.7 1-1.1 1 1.5 1 2.1 1 4 1 .8 1-3.3 1-3.9 1-1.8 1-2.1 1 1.4 1 2.9 1-.9 1-.6 1 1.5 1 1.3 1-.5 1 .6 1 .5 1-2.3 1-2 1 1.8 1 1.5 1-.2 1 1.7 1-.6 1-3.3 1 .9 1 2.8 1 .4 1 1.8 1 6.5 1 3.9 1-6.4 1-4.3 1 1.9 1 4.1 1-1.1 1-2.8 1-2.8 1-.4 1 .9 1-.8 1-1.2 1-1 1-.6 1-.6 1-1.4 1-1.4 1 1.5 1 4.2 1 4 1-1.8 1-1.4 1 .3 1-.1 1 1.6 1 .6 1-.4 1 .5 1 .9 1-2.3 1-6.3 1-.9 1 2 1 1.2 1-.4 1-1.9 1 4.1 1 4.9 1 3.7 1 2.4 1 .4 1-3.8 1-4.1 1 .4 1 1.6 1 .7 1-1.5 1-5.3 1-5.2 1-2.6 1 2.8 1 3.8 1-.4 1 .8 1 3 1-2.5 1-2.5 1 1.9 1 3.7 1 2.2 1-.1 1-.4 1 1.2 1 1.9 1-.3 1-3.2 1-6.2 1-2.5 1 0 1 1.7 1 3.5 1 2.2 1-1.5 1-3.4 1-2.1 1 .3 1 1.1 1 2 1 2.5 1 .7 1-2.1 1-1.4 1-.2 1-3 1-4.4 1 2 1 2.1 1-1.6 1 1.9 1 5.4 1 4.3 1-1.3L1143 735.3l-1 .3 -1-5.9 -1-7 -1 .5 -1 2.2 -1-.1 -1-.6 -1 2.6 -1-.7 -1-1.5 -1 .9 -1 2.2 -1 .4 -1-2.5 -1-.8 -1 1.2 -1 0 -1 1.5 -1 4.1 -1 2.5 -1-.3 -1-4.7 -1-6.4 -1 .2 -1 3.6 -1 5.8 -1 3.9 -1-.5 -1-1.1 -1-1.7 -1-.2 -1 .9 -1-.6 -1-2.4 -1-2.6 -1 1.8 -1 2.7 -1-3.5 -1-.6 -1 1.9 -1-1.8 -1-4.3 -1-.3 -1 4.2 -1 4.1 -1 3.4 -1-.8 -1-4.5 -1 .8 -1 6.1 -1 4.9 -1-1.7 -1-4.3 -1-2.2 -1-4.7 -1-4.3 -1 1.6 -1 .4 -1-1.3 -1-2.1 -1 3.2 -1 4.2 -1 4.5 -1 0 -1-1.6 -1-1.9 -1-1.8 -1-2.8 -1 .7 -1 4.5 -1 4.5 -1 .4 -1-1 -1-3.6 -1-3.6 -1-.8 -1 .6 -1 0 -1-2.3 -1 1.2 -1 2.3 -1-.1 -1-2.5 -1-.2 -1 3.7 -1 3.4 -1-.5 -1-2.4 -1 .2 -1 4.5 -1 6.7 -1-2.5 -1-8.4 -1-4.9 -1-.5 -1-.2 -1 .2 -1 .7 -1 .8 -1 .7 -1 1.1 -1-1.6 -1-4.8 -1 2 -1 5.9 -1 .5 -1-3.8 -1 .1 -1-.5 -1-1.9 -1 1.3 -1 0 -1-2.7 -1-4.1 -1-.3 -1 2.9 -1 6 -1 5.6 -1 .1 -1-4 -1-2.1 -1 .5 -1 .6 -1-1.7 -1-3 -1-1.4 -1-1.4 -1-4.3 -1-2.5 -1 1.9 -1 2.3 -1 3.9 -1 3.4 -1 1.4 -1 1 -1 .7 -1-3.7 -1-5 -1-2.2 -1 3.1 -1-1 -1-1.4 -1 1 -1 2.1 -1-.5 -1-1.2 -1-.9 -1 2.6 -1 1.9 -1-1.4 -1 .9 -1 1.9 -1 1 -1 3.1 -1-1.2 -1-5.3 -1 1 -1 1.3 -1 2.2 -1-.7 -1 .7 -1 .3 -1-1.5 -1-.6 -1 1 -1 1.5 -1 5.9 -1 2.8 -1 2.6 -1-3.1 -1-6.3 -1-1.4 -1 .6 -1 0 -1 .6 -1 .6 -1-.4 -1-2.3 -1-2 -1-2 -1-.3 -1-1.2 -1-.2 -1 5.7 -1 2.7 -1-3.7 -1 .3 -1 4.1 -1 1.8 -1 .8 -1 .3 -1 0 -1-1.2 -1-.2 -1-2.2 -1 3.7 -1 .9 -1-2.5 -1-.9 -1-1.5 -1 .5 -1 3.4 -1 2.1 -1-1.4 -1-3 -1-6 -1-3.2 -1 1.6 -1 4.1 -1 2.9 -1-1.2 -1-.8 -1 3.3 -1 5 -1 1.6 -1-1 -1-2.6 -1-3.4 -1-2 -1 4.2 -1 7.9 -1-3 -1-10.5 -1-4.1 -1-.3 -1 .1 -1 4 -1 2.7 -1 1.3 -1 1 -1 2.4 -1 2.1 -1 1.7 -1-3.3 -1-4.2 -1-1.7 -1-.8 -1-1 -1 1.8 -1 1.9 -1-.2 -1-2.9 -1-.7 -1-.4 -1 3.6 -1-.3 -1-5.1 -1 0 -1 5.5 -1 .6 -1-3.4 -1-1.3 -1 .9 -1 2.6 -1 0 -1-4.2 -1-2.3 -1 2.2 -1 2.7 -1 3.1 -1 5.7 -1 2.8 -1 .4 -1-.4 -1-4.5 -1-7.5 -1-3.6 -1 .6 -1 .9 -1 .4 -1-.8 -1 1.2 -1 .6 -1-2.9 -1 1.9 -1 2 -1 2.1 -1 4.1 -1 6.8 -1 4.3 -1-6.7 -1-6.2 -1 0 -1-.3 -1-1.6 -1-5 -1-4.6 -1-.7 -1 .5 -1 1.7 -1 9.8 -1 31.2 -1 27 -1 7.6 -1 .9 -1-2.1 -1-13.8 -1-33.1 -1-24.2 -1 .9 -1 2.5 -1 1.1 -1-1.9 -1-4 -1-2.7 -1-2.3 -1 2.8 -1 3.5 -1 .9 -1 .6 -1 2.6 -1 2.5 -1 4.6 -1-.3 -1-6.2 -1-2.3 -1 1.7 -1 2.7 -1 2.7 -1 2.4 -1 1.1 -1-2.1 -1-9.5 -1-6.5 -1-.3 -1 3.2 -1 .8 -1-2.5 -1 1.2 -1 1.2 -1-1.9 -1-.4 -1 2.6 -1 3 -1 2.7 -1-1.3 -1-.7 -1 .8 -1-.3 -1-1.9 -1 1.2 -1 2.7 -1-1.3 -1-1.7 -1 .9 -1-.8 -1 .3 -1 3.2 -1 1.4 -1-2.6 -1-1.1 -1 .5 -1-1.1 -1-.4 -1-.6 -1-2.3 -1-.7 -1 1 -1 6.1 -1 4.9 -1-1 -1-2.4 -1-1.1 -1-.3 -1-1.1 -1-2 -1-4.2 -1-3.9 -1-1.3 -1-.6 -1 2 -1 .8 -1-3 -1 .6 -1 6.4 -1 3.2 -1-.8 -1-1.8 -1-1.3 -1 2.1 -1 1.4 -1-.6 -1-1.9 -1-1.2 -1 .8 -1 .3 -1 2 -1-.5 -1-.8 -1 2.3 -1-2.5 -1-6.5 -1 2.7 -1 4.5 -1 1.1 -1-3.7 -1-4.4 -1-2.7 -1 .8 -1 1.8 -1 3.2 -1 .5 -1-.9 -1-1 -1-.1 -1 0 -1 .6 -1 2.1 -1 3.5 -1 1.1 -1 .7 -1-2.6 -1-4.7 -1-.5 -1 1.8 -1 .2 -1-4.2 -1-5.8 -1-.7 -1 2 -1 1.6 -1 1.2 -1 1.2 -1 1.6 -1 1 -1 1.2 -1-.7 -1-5.8 -1-4.2 -1 1.2 -1 8.7 -1 6.3 -1 2.1 -1-.6 -1 .2 -1-3.2 -1-8 -1-3.6 -1 1.6 -1 .7 -1 .1 -1 4.1 -1 5 -1 2.9 -1-1.9 -1-3.5 -1-4.7 -1-3.2 -1-.3 -1 2.2 -1 2.5 -1 1.9 -1 3.3 -1 5 -1-3 -1-7 -1-3.9 -1-1.5 -1 .5 -1 .8 -1-.5 -1-.9 -1-.7 -1 .3 -1 3.3 -1 2.9 -1 2.4 -1-2.9 -1-4.1 -1 1 -1 2.3 -1 2.5 -1 .3 -1-4.1 -1-4.8 -1-2.8 -1-.2 -1 1.2 -1 1.7 -1-.8 -1-2.9 -1-1.5 -1 1.8 -1 1.6 -1 2.9 -1 2.2 -1-4.1 -1-.8 -1-1.9 -1 2 -1 5.4 -1 2.6 -1 .1 -1-.5 -1-6.1 -1-3.4 -1 .3 -1 2.4 -1-2.2 -1-3.7 -1-1.1 -1 .6 -1 1.5 -1 1.4 -1 .4 -1-.3 -1 0 -1 .5 -1-.6 -1-.9 -1-.7 -1-.6 -1 2.6 -1 1.2 -1-.4 -1 2.7 -1-.2 -1-6.7 -1-5.3 -1 1.2 -1 1.7 -1 5.8 -1 6.2 -1 3.2 -1 .7 -1-4.6 -1-7.4 -1-6.6 -1 .6 -1 1.7 -1-.6 -1 .2 -1 .2 -1 .9 -1 2.1 -1 2.6 -1-.3 -1-3.2 -1 .1 -1 3.9 -1 .6 -1-2 -1-1.9 -1 2.3 -1 3.2 -1-2.8 -1-5 -1-1.3 -1 .2 -1 1.5 -1 .4 -1 2.3 -1 1.5 -1-.4 -1-1.2 -1-1.6 -1-1.2 -1-1.2 -1-1.8 -1-1.1 -1-.7 -1 2.3 -1 1.3 -1-3 -1-3.7 -1 .3 -1 1.8 -1 2.2 -1 4.1 -1-1 -1-2.8 -1-.2 -1 2.6 -1 1.1 -1-1 -1-1.6 -1-2.8 -1-2.7 -1 .7 -1 3.3 -1 .9 -1-1.6 -1-.2 -1 0 -1 1.5 -1 3.7 -1 4.4 -1-3.5 -1-9.7 -1-5.9 -1-.8 -1 1.5 -1 .2 -1 2.7 -1 1 -1 2.8 -1 6.3 -1-2.4 -1-1.8 -1 1.7 -1 .3 -1-1.5 -1-2.2 -1 2.3 -1-.5 -1-4.3 -1 1.8 -1 3.5 -1 .8 -1-1.5 -1-1.1 -1-1.3 -1-3.3 -1-3.6 -1-1.7 -1 .4 -1 .3 -1-.4 -1-1.4 -1 1.2 -1 2.3 -1 1.2 -1 3 -1-.4 -1-2.7 -1-2.3 -1-2.8 -1 3.1 -1 .6 -1 .4 -1 1.7 -1-1.8 -1-3.5 -1-1.4 -1 1.6 -1 8 -1-.8 -1-2.1 -1-2.8 -1-4.8 -1-.6 -1 1.6 -1-1.2 -1 1.8 -1 1.8 -1 .6 -1 1.7 -1-2.1 -1-2.4 -1-.4 -1 1.1 -1-1.1 -1-3.2 -1-1.6 -1-1.4 -1 3.1 -1 3.3 -1 .1 -1 .2 -1-.6 -1 0 -1 1.6 -1 .8 -1-3.1 -1-3.8 -1 .4 -1 2.4 -1 0 -1-2.4 -1-4.9 -1-1.8 -1 .7 -1 1.5 -1 3 -1 3.5 -1-.9 -1-2.5 -1-1.7 -1 .5 -1 2 -1 1.7 -1 .9 -1 1 -1 1.6 -1-.8 -1-1.4 -1-1.4 -1-3.2 -1-4.5 -1-.2 -1-.2 -1-.4 -1-.3 -1-.4 -1-4.3 -1-4.7 -1 2.2 -1 2.4 -1 1.6 -1 2.6 -1 2.1 -1 .5 -1-2.3 -1-6.6 -1-5.1 -1-3.5 -1 4.7 -1 5.8 -1 4.5 -1 1.2 -1-1.6 -1-3.1 -1-3.9 -1 1.7 -1 2 -1-1 -1-2.4 -1 1.9 -1 .2 -1 .1 -1-4.8 -1-1 -1 5.7 -1 .9 -1-.6 -1-.1 -1-.3 -1 1.3 -1 1.1 -1-2.4 -1-3.1 -1-1.1 -1-.2 -1 .4 -1 2 -1-.2 -1-1 -1-1.4 -1-1 -1 .5 -1 1.8 -1-1.3 -1 .5 -1 .3 -1 .7 -1 1 -1-.2 -1-.6 -1-.6 -1-1.8 -1 .7 -1-1 -1-2.6 -1-.3 -1-1.9 -1-.2 -1 .2 -1 1.3 -1 1.4 -1-1 -1-.1 -1 1.4 -1 .7 -1-.3 -1-1.7 -1-.3 -1 .9 -1 1.1 -1-.5 -1-.1 -1 .8 -1 .2 -1 .6 -1-2.4 -1-2.7 -1 .4 -1 2 -1-2.9 -1-2.8 -1 2.4 -1 3.9 -1 1.6 -1 4.1 -1 1.9 -1-1.1 -1-.2 -1-.4 -1-1.5 -1-2.9 -1 1.8 -1 .6 -1-1.5 -1-2.4 -1-.7 -1 .8 -1 .3 -1 1.2 -1-.8 -1 .7 -1 .8 -1 .3 -1 1.6 -1 .4 -1-2.5 -1-2.8 -1 .2 -1 1.8 -1 4.4 -1-2.1 -1-3.3 -1-3 -1-2.2 -1 1.3 -1 .3 -1-2 -1 0 -1-1.2 -1-.1 -1 .4 -1 .2 -1 .3 -1 2.5 -1 2.2 -1-1.6 -1-5.2 -1-1.7 -1-1.9 -1-1.7 -1 3.2 -1 3.4 -1-1.5 -1-5.6 -1-4.4 -1 2.9 -1 5.7 -1 2.6 -1-4 -1-4.6 -1-.3 -1-.3 -1-1.6 -1-1.7 -1 .5 -1 .4 -1 1.1 -1-1 -1-2.8 -1-2.7 -1-4.5 -1-.6 -1 5.6 -1 1.2 -1-1.5 -1-.3 -1-1.1 -1-2.7 -1-1.8 -1 0 -1 3.2 -1 5 -1-3.1 -1-5.9 -1-3.1 -1 0 -1 1.3 -1-1.2 -1 .2 -1 3.4 -1-.6 -1-3.3 -1-1.8 -1 0 -1 .9 -.5 .5 -.5 .6 -.5-.7 -.5-.6 -.5-1.2 -.5-1.1 -.5-.9 -.5-.8 -.5-.3 -.5-.4 -.5 0 -.5 0 -.5-.5 -.5-.5 -.5-.6 -.5-.6 -.5-.1 -.5-.1 -.5-.5 -.5-.5 -.5-1.2 -.5-1.3 -.5-1 -.5-1 -.5-.8 -.5-.9 -.5-1.3 -.5-1.3 -.5 .1 -.5 0 -.5 1.3 -.5 1.3 -.5-.1 -.5 0 -.5-1.4 -.5-1.4 -.5-1.6 -.5-1.5 -.5-1 -.5-1 -.5-.8 -.5-.8 -.5-.8 -.5-1 -.5-.5 -.5-.6 -.5-.6 -.5-.6 -.5-1.4 -.5-1.5 -.5-1.4 -.5-1.4 -.5-1.5 -.5-1.5 -.5-1.4 -.5-1.5 -.5-2.3 -.5-2.2 -.5-1.6 -.5-1.8 -.5-2.1 -.5-2.3 -.5-1.9 -.5-2 -.5-2.1 -.5-2.2 -.5-2.4 -.5-2.4 -.5-2.3 -.5-2.4 -.5-2.3 -.5-2.3 -.5-2.1 -.5-2 -.5-2.3 -.5-2.2 -.5-2.2 -.5-2.2 -.5-2.2 -.5-2.1 -.5-1.9 -.5-1.9 -.5-2 -.5-1.9 -.5-1.8 -.5-1.9 -.5-1.8 -.5-2 -.5-2.2 -.5-2.4 -.5-2.5 -.5-2.6 -.5-2.8 -.5-2.9 -.5-3 -.5-3.1 -.5-3.2 -.5-3.4 -.5-3.5 -.5-3.8 -.5-4 -.5-4.4 -.5-4.6 -.5-5 -.5-5.5 -.5-5.8 -.5-6.4 -.5-7.1 -.5-9.4 -.5-11.4 -.5-12.8 -.5-13.2 -.5-12.7 -.5-12.1 -.5-12.3 -.5-12.5 -.5-12.7 -.5-12.9 -.5-13 -.5-13.2 -.5-13.4 -.5-14.1 -.5-14.9 -.5-15.9 -.5-16.7 -.5-17 -.5-16.9 -.5-16.6 -.5-17.1 -.5-18.7 -.5-20.4 -.5-21.6Z" fill="#A43D3A" stroke="#A43D3A" stroke-width="3.6" stroke-linejoin="round"/>
<path d="M205 97.6l.5 19.8 .5 18.5 .5 17.6 .5 17.3 .5 16.6 .5 15.8 .5 15.3 .5 14.9 .5 15.1 .5 15.2 .5 14.9 .5 14.3 .5 13.6 .5 13.3 .5 12.9 .5 12.3 .5 11.8 .5 11.8 .5 11.8 .5 11.3 .5 10.4 .5 9.1 .5 7.6 .5 7.1 .5 6.7 .5 6.5 .5 6.1 .5 5.7 .5 5.5 .5 5.1 .5 4.8 .5 4.5 .5 4.1 .5 3.9 .5 4.1 .5 3.9 .5 3.8 .5 3.5 .5 3.4 .5 3.3 .5 3.1 .5 3 .5 2.7 .5 2.6 .5 2.5 .5 2.4 .5 2.4 .5 2.4 .5 2.3 .5 2.3 .5 2.3 .5 2.4 .5 2.4 .5 2.5 .5 2.3 .5 2.3 .5 2.1 .5 2 .5 2.4 .5 2.5 .5 2.6 .5 2.7 .5 2.7 .5 2.5 .5 2.4 .5 2.5 .5 2.2 .5 2.2 .5 2.5 .5 2.3 .5 1.8 .5 1.7 .5 2 .5 2 .5 1.7 .5 1.7 .5 1.3 .5 1.2 .5 1.8 .5 1.8 .5 1.9 .5 1.9 .5 .9 .5 .8 .5 .6 .5 .6 .5 .7 .5 .6 .5 .1 .5 0 .5 .3 .5 .1 .5 .6 .5 .6 .5 .8 .5 .8 .5 .5 .5 .5 .5-.2 .5-.1 .5 .1 .5 .1 .5 1.4 .5 1.3 .5 1 .5 .9 .5 .8 .5 .9 .5 1 .5 1 .5 1 .5 1 .5 .7 .5 .7 .5 .1 .5 .1 .5-.1 .5-.1 .5-.1 .5-.1 .5 .6 .5 .5 .5 .3 .5 .3 .5 .8 .5 .7 .5-.5 .5-.5 .5 .1 .5 .2 1 1.9 1-.6 1 1 1 3.7 1 2.4 1-1.9 1-1.3 1-.9 1-1.4 1-.9 1 2.6 1 6.4 1 3.7 1-5.5 1-3.1 1 .1 1-1.3 1 1.1 1 2 1 1.7 1 3.2 1-1.4 1-6.9 1-.6 1 5.7 1 4.8 1 3 1 1.1 1 .5 1-.5 1-1.4 1 1.2 1 .7 1-1 1-1 1 3.1 1 4.3 1-.1 1-4.5 1-3.3 1 2.5 1 1.7 1 1.3 1-1.5 1-1.3 1 .5 1 .4 1 2.7 1 4.9 1 1.6 1-2.5 1 .2 1 2.8 1-.4 1-.5 1 .1 1 .1 1 .3 1-.4 1-1.1 1-1.8 1-.4 1 5.8 1 5.5 1 1.3 1-.9 1-2.7 1-1.4 1 3.4 1 2.7 1-.1 1-1.2 1 0 1-1.1 1-1.3 1-.5 1-1.6 1-1.2 1 1 1 2.2 1 2 1 .8 1-1.7 1 1 1 .3 1-.4 1 .6 1 .8 1 .3 1-2 1-2.4 1-.8 1-1.4 1-1.2 1 .1 1 1.6 1-2.1 1-1.9 1 2.3 1 3.8 1-.2 1-2 1-1 1 2.2 1 2.5 1-.8 1 0 1 1.7 1-.8 1-2.9 1 0 1 .3 1 0 1 .2 1-1 1-.7 1 .1 1 2.3 1 3 1-.8 1 .8 1-1.7 1-3.4 1-.4 1 .1 1 1 1 2.2 1-.2 1 .2 1 .9 1 1.2 1 .5 1-1.3 1-.7 1 .8 1-.7 1 2.3 1 1.6 1-1 1-1.4 1-1.1 1 .2 1 3.1 1 3.6 1 .5 1-1.4 1-1.6 1-1.1 1 1.5 1-.4 1-3.8 1 .2 1 2.1 1 1.2 1-1.3 1-1.9 1 2.1 1 2.5 1-.3 1-1.3 1 .5 1 2.7 1 3 1 1 1-2.4 1-6.9 1-6.5 1 3.5 1 8.1 1 5.9 1 1.7 1 .5 1-.8 1-2.3 1-2.4 1-3 1-3 1 4.1 1 4.9 1-.2 1-.1 1-2 1-2.3 1-.3 1 5.4 1 4.7 1 .2 1-.7 1 1.5 1 .8 1-1.1 1-1.1 1-3 1-1.5 1-2.1 1 1.3 1 3.4 1 1.5 1-2 1-1.2 1 1.6 1-.6 1 2.5 1 3.4 1 1.2 1 .9 1-2.3 1-.8 1 3.6 1 1.5 1-1.3 1-2 1 .1 1-.1 1-1.5 1-1.5 1-1.1 1-.9 1 1.1 1 1.7 1 1.3 1 1.6 1 .6 1 1.4 1 2.8 1 .1 1 1.2 1-2.5 1-3 1-.8 1 .4 1-1 1 .1 1 3 1 2.4 1 4 1 2.7 1-10.2 1-2.4 1 2 1-.3 1-.6 1 1.5 1 3 1-.3 1-2.6 1-1 1 2.1 1 3.3 1 .1 1-1.3 1-3.2 1-1.4 1 .2 1 2.3 1 1.1 1-1.7 1-.9 1 2.9 1 4.9 1 .6 1-3.8 1-2.6 1 .3 1 2.5 1 2.8 1 .9 1-2.9 1-2.6 1-.2 1-1 1 3.7 1 2.8 1 .8 1 4.3 1 2.7 1-7.1 1-1.2 1-2.1 1-2.5 1 1.7 1 1.3 1-2.7 1 3.1 1 8.7 1 4.3 1-2 1-2.6 1-1 1 .1 1-1.3 1-.6 1-1.8 1-2.1 1 .6 1 3.4 1 3.4 1 1 1-1 1-.9 1 .7 1 .2 1-2.7 1-2 1-2.2 1-2.1 1 1.8 1 3 1 2.1 1 1.4 1-.9 1-2 1 2.9 1 2.3 1-1.8 1-.5 1 2.6 1-.5 1 1.9 1 1.6 1-1.8 1-4.2 1 .5 1 .1 1 .3 1 .4 1 1.9 1 2.3 1-2.5 1-2.2 1 1.8 1 4.8 1-.6 1-4.4 1-1.2 1 .1 1 1.5 1 2.3 1-2.5 1-2.5 1-1.7 1-2.4 1-1.3 1-1.1 1 .2 1 6.6 1 9.1 1 7.1 1 .2 1-5.8 1-6.1 1-5.1 1-.9 1 1 1 5.5 1 6.3 1-2.9 1-2.8 1-1.1 1 .6 1 .3 1-.6 1-.6 1 .1 1-.1 1-1.5 1-1.4 1 .3 1 1.4 1 .8 1 0 1-.7 1 1 1 3.3 1 2.1 1-2.1 1-1.1 1 5.4 1 3.9 1 3.4 1 1 1-2 1-5.7 1-1.8 1 1.9 1 0 1 1.9 1-4.9 1-3.2 1 .6 1-.5 1 .1 1 3.5 1 2.3 1-.4 1-3.1 1-.8 1 1.2 1 3.3 1 1.3 1-.6 1-1 1-2.4 1 .5 1 3.6 1 4.6 1 1.4 1-1.2 1-2.3 1-1.6 1 2.5 1-1.2 1-.3 1-.7 1-.6 1 0 1 2.3 1 7 1 4.7 1-2 1-6.7 1-5.6 1-.8 1 .8 1 1.6 1 2 1 2 1 3.4 1 1.4 1-2.5 1-1.4 1-1 1-.2 1-.8 1-1.4 1 3.1 1 6 1 2.8 1-.9 1 1.9 1 .6 1-7.5 1-8.6 1-3 1 1.7 1 2.8 1-.5 1-.1 1 1.6 1-1.1 1-1.9 1-1.3 1-1.7 1-1.6 1 1.1 1 6.5 1 3.7 1-.7 1-2.3 1 1.8 1 4.2 1 4.5 1 2 1-3.4 1-3.3 1-1.9 1 1.7 1-2.8 1-2.8 1-.1 1 2.8 1 2.3 1-1.6 1-4.3 1-2 1 5.1 1 1.5 1 .1 1-1.2 1-1.7 1 .8 1 3.4 1 1.7 1-.1 1 0 1-.2 1 .5 1-1.1 1-.2 1 1.5 1 2.1 1 1.9 1-2 1-2.5 1 1.7 1 1.4 1-1.8 1-2.6 1-7.1 1-.5 1 3.8 1 .8 1 .6 1-.2 1-.3 1 .3 1 2.8 1 3.8 1 .2 1-1.8 1 1 1 1.4 1-.3 1-3.4 1-4 1 .2 1 3.8 1 3.2 1 .4 1 2.1 1 1.8 1-1.2 1-2.7 1 .1 1-1.5 1-.5 1 .9 1-.5 1-1.3 1 2.2 1 2 1-4 1 .2 1 2.8 1 .9 1 .4 1 2.1 1-1.3 1-4.3 1-3.4 1-1.4 1 3 1 .5 1-3.2 1-.1 1-.4 1-.9 1-1.1 1-1.7 1 4.7 1 10.3 1 1.4 1-.7 1-.4 1-1.6 1-2.8 1-1.9 1 1.9 1 3.9 1 1.6 1-2.3 1-2.1 1-3.4 1-1.9 1-.6 1-5.1 1-1.1 1 1.1 1 2.2 1 6.1 1 2.5 1-1.5 1-1.6 1-5.4 1 4.2 1 14.4 1 11 1-.6 1-10.5 1-10.8 1-6.2 1-4 1-2.4 1 .6 1 0 1 2.1 1 6.8 1 3.8 1 1.1 1-1.7 1 0 1 4.5 1 4.2 1-.9 1-5 1-3.7 1-2.6 1-1.3 1 .9 1 .5 1-3.7 1-2.1 1 2.1 1-1 1 .4 1 2.2 1 4.3 1 5.4 1 3.4 1 .9 1-1.1 1-2.8 1-3.4 1-2.9 1-3.1 1-1.4 1 .9 1 3.3 1 2.3 1-.9 1-1.5 1 1.7 1 2.3 1-1.2 1-5.3 1-1.8 1 3.7 1 2.6 1-3.4 1-.6 1 3.4 1 2.7 1-.7 1-2.3 1-.7 1 3.3 1 1.9 1-2 1 .3 1 2 1-1.3 1-3.9 1-3.6 1-1.3 1 1.7 1 1.9 1-.7 1-1.3 1 1.6 1 2.8 1 8.7 1 1.6 1-8 1-4.7 1 1.8 1 1.9 1 3.2 1 1.5 1-3.6 1-4.2 1-1.5 1 1.9 1 1.2 1-3.3 1-6.8 1-1.2 1 5.8 1 4.1 1 3.8 1 1.5 1-3 1-1.8 1 .4 1-1.8 1-.9 1 2.6 1 1.6 1 .5 1 2.1 1 .4 1-.7 1-2.4 1-1.1 1 .6 1-2 1-4.4 1-1.3 1 3 1-.7 1-3 1 1.6 1 2.4 1 .1 1 .6 1 1.9 1 .1 1 1.5 1 .2 1-1.5 1 .7 1 0 1 1.7 1 6.1 1 2.9 1-3.7 1-5.4 1-5.2 1-1.4 1 2.8 1-.3 1 .9 1 0 1 .9 1 1.4 1-1.7 1-1.9 1 .9 1 1.6 1 .3 1-2 1-4 1-5.1 1 .7 1 6.4 1 .4 1-3 1-1 1 .9 1 .7 1-2.8 1-.6 1 .3 1 .1 1-.7 1 .6 1 4.2 1 4.5 1 .6 1-3 1-4 1-4.2 1-2.3 1-.7 1-.1 1 3 1 4 1 .4 1-.1 1 .8 1-1.8 1-.6 1 2.1 1 2.7 1 4.5 1 1 1-3 1-3.5 1-1.3 1-1.7 1 1.7 1 3 1-1 1-1 1 1.1 1 .9 1-.5 1 .8 1 .7 1-2.3 1-1.9 1 1.9 1 1.5 1-.3 1 1.2 1-1.1 1-3.6 1 1.2 1 3.4 1 .6 1 1.7 1 5.8 1 3.1 1-7.2 1-4.7 1 1.9 1 4.3 1-.7 1-2.6 1-2.8 1-.6 1 .7 1-1.1 1-1.6 1-1.4 1-.8 1-.6 1-1 1-.8 1 1.9 1 4.2 1 3.8 1-2.1 1-1.4 1 .4 1 .2 1 1.5 1 .2 1-.7 1 .3 1 .9 1-2.3 1-6.2 1-.7 1 2.3 1 1.6 1-.1 1-1.8 1 3.9 1 4.7 1 3.5 1 2.2 1 0 1-4.4 1-4.3 1 .7 1 2.6 1 2 1-.4 1-4.8 1-5 1-2.7 1 2.6 1 3.4 1-1.1 1 0 1 2.5 1-2.6 1-2.1 1 2.6 1 4.4 1 2.7 1 .2 1-.5 1 .9 1 1.5 1-.7 1-3.6 1-6.4 1-2.6 1-.1 1 1.7 1 3.5 1 2.2 1-1.5 1-3.5 1-2 1 .2 1 1.1 1 2 1 2.8 1 1 1-1.7 1-1.3 1-.4 1-3.3 1-4.7 1 2 1 2.3 1-1.4 1 2.1 1 5.6 1 4.6 1-1.1L1143 738.9l-1-.1 -1-6.1 -1-7.2 -1 .2 -1 2 -1-.2 -1-.6 -1 2.9 -1-.4 -1-1.4 -1 .9 -1 1.8 -1 .1 -1-2.7 -1-.9 -1 1.2 -1 .1 -1 1.4 -1 4.2 -1 2.4 -1-.2 -1-4.7 -1-6.3 -1 .2 -1 3.7 -1 6 -1 4.2 -1 0 -1-.6 -1-1.5 -1-.1 -1 .6 -1-1.1 -1-3.1 -1-3.3 -1 1.4 -1 2.8 -1-2.9 -1 .1 -1 2.6 -1-1.4 -1-4.1 -1-.2 -1 4 -1 3.6 -1 2.3 -1-2.2 -1-5.4 -1 .5 -1 6.4 -1 5.3 -1-1.3 -1-4 -1-2 -1-4.5 -1-4.2 -1 1.6 -1 .1 -1-1.8 -1-2.3 -1 2.9 -1 4.2 -1 4.5 -1-.1 -1-1.3 -1-1.6 -1-1.4 -1-2.7 -1 .5 -1 4.2 -1 4.6 -1 .7 -1-.8 -1-3.6 -1-4.1 -1-1.3 -1 .2 -1-.1 -1-2 -1 1.6 -1 2.7 -1 .2 -1-2.3 -1 0 -1 3.7 -1 3.2 -1-.9 -1-2.6 -1 .2 -1 4.9 -1 7.5 -1-1.6 -1-7.9 -1-4.7 -1-.8 -1-.7 -1-.1 -1 1 -1 1.3 -1 1.2 -1 1.2 -1-1.6 -1-4.9 -1 1.9 -1 5.8 -1 .4 -1-4 -1 .1 -1-.2 -1-1.3 -1 1.7 -1 0 -1-2.8 -1-4.4 -1-.7 -1 2.5 -1 5.5 -1 5.3 -1-.2 -1-4.3 -1-2.7 -1-.2 -1 .1 -1-1.7 -1-2.4 -1-.6 -1-.7 -1-3.7 -1-2.3 -1 1.8 -1 2 -1 3.3 -1 2.9 -1 1.2 -1 1.2 -1 .8 -1-3.7 -1-5 -1-2.2 -1 3.5 -1-.4 -1-.8 -1 1.5 -1 2.5 -1-.2 -1-1 -1-.9 -1 2.2 -1 .9 -1-2.5 -1 0 -1 1.6 -1 1.4 -1 3.8 -1-.4 -1-4.8 -1 1.2 -1 1.3 -1 2 -1-.9 -1 .2 -1-.2 -1-2.1 -1-1.1 -1 .9 -1 1.6 -1 6.6 -1 3.5 -1 3.4 -1-2.7 -1-6.1 -1-1.6 -1 .3 -1-.4 -1 .5 -1 .9 -1-.1 -1-2 -1-2 -1-2.1 -1-.5 -1-1.4 -1-.6 -1 5.5 -1 2.6 -1-3.7 -1 .5 -1 4.2 -1 1.9 -1 .8 -1 .2 -1-.1 -1-1.4 -1-.3 -1-2.3 -1 3.6 -1 .8 -1-2.7 -1-.9 -1-1.2 -1 .6 -1 3.4 -1 1.7 -1-1.8 -1-3.4 -1-5.9 -1-2.7 -1 2.3 -1 4.8 -1 3.3 -1-1.1 -1-1 -1 2.8 -1 4.5 -1 1.3 -1-1.1 -1-2.3 -1-3.1 -1-1.9 -1 4.1 -1 7.7 -1-3.1 -1-10.2 -1-3.8 -1-.2 -1-.2 -1 3.3 -1 2.2 -1 .8 -1 .8 -1 2.6 -1 2.5 -1 2.5 -1-2.3 -1-3.5 -1-1.5 -1-1.1 -1-1.4 -1 1.5 -1 1.8 -1-.3 -1-3.1 -1-1.1 -1-.8 -1 3.4 -1-.3 -1-4.9 -1 .4 -1 5.8 -1 .7 -1-3.6 -1-1.5 -1 .7 -1 2.7 -1 .4 -1-3.6 -1-2.1 -1 2 -1 2.3 -1 2.6 -1 5.7 -1 2.9 -1 .5 -1-.5 -1-4.9 -1-7.8 -1-3.4 -1 1.1 -1 1.4 -1 .6 -1-1 -1 .9 -1 .4 -1-2.9 -1 2 -1 1.9 -1 1.9 -1 3.8 -1 6.7 -1 4.4 -1-6.4 -1-5.8 -1 0 -1-.9 -1-2.5 -1-5.9 -1-4.8 -1-.3 -1 1.3 -1 2.4 -1 10.1 -1 31.2 -1 26.8 -1 7.5 -1 1.1 -1-1.9 -1-13.6 -1-32.6 -1-23.7 -1 1.2 -1 2.4 -1 .2 -1-3.2 -1-4.9 -1-3.3 -1-2.2 -1 3.3 -1 4 -1 1.7 -1 1.3 -1 3.1 -1 2.6 -1 4.3 -1-.7 -1-6.8 -1-3 -1 .9 -1 1.7 -1 1.9 -1 1.8 -1 .8 -1-2 -1-9 -1-5.6 -1 1.1 -1 4.9 -1 2.2 -1-1.6 -1 1.2 -1 .7 -1-2.7 -1-1.1 -1 2.2 -1 2.9 -1 2.8 -1-1.3 -1-.5 -1 1.1 -1 .1 -1-1.6 -1 1.1 -1 2.3 -1-1.6 -1-2.2 -1 .5 -1-.9 -1 .5 -1 3.5 -1 1.7 -1-2.6 -1-1.5 -1 .1 -1-1.7 -1-.8 -1-.9 -1-2.1 -1-.3 -1 1.5 -1 6.3 -1 4.9 -1-1.3 -1-2.8 -1-1.6 -1-.4 -1-1 -1-1.5 -1-3.4 -1-3.4 -1-1.2 -1-.8 -1 1.7 -1 .5 -1-2.9 -1 .9 -1 6.7 -1 3.4 -1-.6 -1-1.7 -1-1.4 -1 1.8 -1 .9 -1-1 -1-2.2 -1-1.3 -1 .9 -1 .6 -1 2.5 -1 0 -1-.4 -1 2.5 -1-2.7 -1-6.8 -1 2.3 -1 4.1 -1 .8 -1-3.9 -1-4.5 -1-2.6 -1 1.1 -1 2.4 -1 3.8 -1 1.1 -1-.7 -1-1.2 -1-.5 -1-.4 -1 .3 -1 1.8 -1 3.2 -1 .8 -1 .5 -1-2.8 -1-4.9 -1-.7 -1 1.9 -1 .2 -1-4.2 -1-6 -1-1 -1 1.6 -1 1 -1 .5 -1 .6 -1 1.5 -1 1.5 -1 2 -1 .2 -1-4.9 -1-3.7 -1 1.5 -1 8.6 -1 6.2 -1 1.8 -1-.7 -1 .1 -1-3.4 -1-8.1 -1-3.6 -1 1.7 -1 .9 -1 .1 -1 3.9 -1 4.3 -1 2.4 -1-2.2 -1-3.6 -1-4.8 -1-3.3 -1-.3 -1 2 -1 2.3 -1 1.8 -1 3.2 -1 4.9 -1-3 -1-7 -1-3.8 -1-1.4 -1 .7 -1 1.1 -1-.1 -1-.4 -1-.1 -1 .6 -1 3.4 -1 2.7 -1 1.8 -1-3.7 -1-4.8 -1 .5 -1 2.1 -1 2.8 -1 .5 -1-4 -1-4.7 -1-2.5 -1 .2 -1 1.5 -1 1.5 -1-1.4 -1-3.5 -1-1.8 -1 1.6 -1 1.6 -1 3.1 -1 2.7 -1-3.5 -1 0 -1-1.2 -1 2.2 -1 5 -1 1.8 -1-.7 -1-1.2 -1-6.4 -1-3.5 -1 .6 -1 2.9 -1-1.5 -1-3 -1-.9 -1 .3 -1 .9 -1 .8 -1 .1 -1-.4 -1 .2 -1 .9 -1-.3 -1-1 -1-1.1 -1-1.2 -1 2.2 -1 1.2 -1-.1 -1 3.4 -1 .4 -1-6.2 -1-5.2 -1 1.1 -1 1.5 -1 5.7 -1 6.3 -1 3.3 -1 .9 -1-4.4 -1-7.4 -1-6.7 -1 .8 -1 1.8 -1-.4 -1 .3 -1 .1 -1 .8 -1 1.9 -1 2.5 -1-.3 -1-3.4 -1-.2 -1 3.7 -1 .4 -1-2.1 -1-2.1 -1 2.1 -1 3 -1-2.7 -1-5 -1-1.1 -1 .1 -1 1.4 -1 .3 -1 2.2 -1 1.7 -1 .1 -1-.7 -1-1.1 -1-.9 -1-1 -1-1.8 -1-1.1 -1-1.1 -1 1.9 -1 .9 -1-3.3 -1-3.9 -1-.1 -1 1.4 -1 2.1 -1 4.2 -1-.9 -1-2.7 -1-.1 -1 2.8 -1 1.4 -1-.4 -1-1.3 -1-2.5 -1-2.7 -1 .7 -1 3.2 -1 .8 -1-1.6 -1-.3 -1 .1 -1 1.3 -1 3.6 -1 4.4 -1-3.2 -1-9.5 -1-5.6 -1-.6 -1 1.3 -1-.2 -1 2.3 -1 1 -1 3.2 -1 6.9 -1-1.9 -1-1.6 -1 1.3 -1-.3 -1-2 -1-2.6 -1 2.3 -1-.4 -1-4.2 -1 1.9 -1 3.5 -1 .5 -1-1.8 -1-1.3 -1-1.2 -1-3.1 -1-3.2 -1-1.4 -1 .7 -1 .3 -1-1 -1-2.4 -1 .4 -1 1.6 -1 1.1 -1 3.4 -1 .2 -1-2.1 -1-1.9 -1-2.7 -1 3 -1 .4 -1 .2 -1 1.5 -1-1.8 -1-3.2 -1-1.1 -1 2 -1 8.3 -1-.7 -1-2.2 -1-3.1 -1-5 -1-.7 -1 1.8 -1-1.2 -1 1.6 -1 1.7 -1 .5 -1 1.8 -1-2.1 -1-2.3 -1-.2 -1 1.5 -1-.8 -1-2.9 -1-1.6 -1-1.5 -1 2.8 -1 2.6 -1-.6 -1-.3 -1-.7 -1 .1 -1 1.9 -1 1.2 -1-2.9 -1-3.8 -1 .4 -1 2.6 -1 .3 -1-1.8 -1-4.3 -1-1.4 -1 .6 -1 .9 -1 2.3 -1 3.2 -1-.8 -1-2.2 -1-1.4 -1 .5 -1 1.9 -1 1.6 -1 .6 -1 .9 -1 1.3 -1-.9 -1-1.5 -1-1.3 -1-3.2 -1-4.2 -1 .4 -1 .3 -1 0 -1-.1 -1-.6 -1-4.3 -1-4.7 -1 2.5 -1 2.9 -1 1.7 -1 2.8 -1 2.1 -1 .5 -1-2.2 -1-6.7 -1-5.1 -1-3.7 -1 4 -1 5 -1 3.7 -1 .5 -1-2.2 -1-3.2 -1-3.7 -1 2.2 -1 2.6 -1-.7 -1-2.3 -1 1.7 -1-.2 -1-.3 -1-5.1 -1-1.1 -1 5.8 -1 1.2 -1-.1 -1 .3 -1 .1 -1 1.4 -1 1.1 -1-2.2 -1-2.8 -1-1 -1-.4 -1 0 -1 1.5 -1-.5 -1-1.3 -1-1.3 -1-.8 -1 1 -1 2.2 -1-1.1 -1 .2 -1-.3 -1 .1 -1 .6 -1-.7 -1-1 -1-.8 -1-1.6 -1 1.4 -1 .1 -1-1.8 -1 .3 -1-1.8 -1-.5 -1-.2 -1 .9 -1 1.1 -1-1 -1 .1 -1 1.8 -1 .9 -1-.1 -1-1.8 -1-.5 -1 .6 -1 .6 -1-.6 -1-.1 -1 .8 -1 .1 -1 .3 -1-2.6 -1-2.9 -1 .5 -1 2.3 -1-2.5 -1-2.4 -1 2.3 -1 3.3 -1 .9 -1 3.6 -1 1.7 -1-.7 -1 .7 -1 .5 -1-.9 -1-2.6 -1 2.2 -1 .9 -1-1.1 -1-2.2 -1-1 -1 .1 -1-.5 -1 .7 -1-1 -1 .9 -1 .9 -1 .5 -1 1.6 -1 .5 -1-2.2 -1-2.5 -1 .2 -1 1.7 -1 4.2 -1-2.3 -1-3.4 -1-3.2 -1-2.2 -1 1.2 -1 .2 -1-2.1 -1 .1 -1-.8 -1 .3 -1 .6 -1 0 -1 0 -1 2.3 -1 2.3 -1-1.5 -1-5.2 -1-1.9 -1-2 -1-1.7 -1 3 -1 3.2 -1-1.5 -1-5.4 -1-3.9 -1 3.2 -1 5.7 -1 2.5 -1-4.4 -1-4.8 -1-.4 -1 0 -1-1.3 -1-1.2 -1 .9 -1 .5 -1 1.1 -1-1.4 -1-3.3 -1-3.1 -1-4.6 -1-.6 -1 5.5 -1 .9 -1-1.9 -1-.6 -1-1.2 -1-2.4 -1-1.4 -1 .4 -1 3.3 -1 4.8 -1-3.5 -1-6 -1-3 -1 .5 -1 1.9 -1-.7 -1 .3 -1 3.2 -1-1 -1-3.7 -1-2 -1 .1 -1 1.1 -.5 .6 -.5 .5 -.5-.6 -.5-.7 -.5-1.3 -.5-1.3 -.5-.9 -.5-.9 -.5-.3 -.5-.3 -.5 .1 -.5 0 -.5-.4 -.5-.4 -.5-.5 -.5-.4 -.5 0 -.5 0 -.5-.5 -.5-.6 -.5-1.4 -.5-1.4 -.5-1.3 -.5-1.4 -.5-1.1 -.5-1.1 -.5-1.6 -.5-1.5 -.5 0 -.5 0 -.5 1.4 -.5 1.3 -.5 .2 -.5 .1 -.5-1.2 -.5-1.2 -.5-1.4 -.5-1.4 -.5-1 -.5-1 -.5-.8 -.5-.9 -.5-.9 -.5-1.1 -.5-.5 -.5-.7 -.5-.5 -.5-.6 -.5-1.4 -.5-1.4 -.5-1.4 -.5-1.5 -.5-1.5 -.5-1.6 -.5-1.6 -.5-1.6 -.5-2.3 -.5-2.4 -.5-1.8 -.5-1.8 -.5-2.6 -.5-2.6 -.5-2.3 -.5-2.4 -.5-2.5 -.5-2.6 -.5-2.8 -.5-2.7 -.5-2.7 -.5-2.6 -.5-2.6 -.5-2.6 -.5-2.2 -.5-2.3 -.5-2.5 -.5-2.5 -.5-2.5 -.5-2.5 -.5-2.6 -.5-2.5 -.5-2.5 -.5-2.4 -.5-2.7 -.5-2.6 -.5-2.6 -.5-2.6 -.5-2.7 -.5-2.8 -.5-3.1 -.5-3.2 -.5-3.4 -.5-3.5 -.5-3.7 -.5-3.9 -.5-4.1 -.5-4.2 -.5-3.9 -.5-4.1 -.5-4.5 -.5-4.8 -.5-5.1 -.5-5.5 -.5-5.7 -.5-6.1 -.5-6.5 -.5-6.7 -.5-7.1 -.5-7.6 -.5-9.1 -.5-10.4 -.5-11.3 -.5-11.8 -.5-11.8 -.5-11.8 -.5-12.3 -.5-12.9 -.5-13.3 -.5-13.6 -.5-14.3 -.5-14.9 -.5-15.2 -.5-15.1 -.5-14.9 -.5-15.3 -.5-15.8 -.5-16.6 -.5-17.3 -.5-17.6 -.5-18.5 -.5-19.8Z" fill="#82A348" stroke="#82A348" stroke-width="3.6" stroke-linejoin="round"/>
<path d="M205 93.8l.5 19.9 .5 18.6 .5 17.7 .5 17.3 .5 16.6 .5 15.7 .5 15.2 .5 14.9 .5 15.2 .5 15.3 .5 15.1 .5 14.4 .5 13.8 .5 13.3 .5 12.9 .5 12.3 .5 11.8 .5 11.6 .5 11.7 .5 11.1 .5 10.3 .5 9 .5 7.7 .5 7.1 .5 6.9 .5 6.5 .5 6.2 .5 5.9 .5 5.6 .5 5.2 .5 5 .5 4.5 .5 4.3 .5 3.9 .5 4.2 .5 4 .5 3.8 .5 3.6 .5 3.5 .5 3.2 .5 3.2 .5 3 .5 2.8 .5 2.6 .5 2.6 .5 2.5 .5 2.5 .5 2.5 .5 2.3 .5 2.4 .5 2.4 .5 2.4 .5 2.5 .5 2.5 .5 2.4 .5 2.3 .5 2 .5 2 .5 2.4 .5 2.4 .5 2.7 .5 2.7 .5 2.6 .5 2.6 .5 2.5 .5 2.4 .5 2.3 .5 2.2 .5 2.4 .5 2.4 .5 1.7 .5 1.6 .5 1.9 .5 2 .5 1.5 .5 1.6 .5 1.2 .5 1.2 .5 1.7 .5 1.8 .5 1.9 .5 1.9 .5 .9 .5 .8 .5 .6 .5 .6 .5 .6 .5 .5 .5 .1 .5-.1 .5 .3 .5 .2 .5 .7 .5 .7 .5 1 .5 1.1 .5 .8 .5 .8 .5 0 .5 0 .5 .1 .5 .2 .5 1.2 .5 1.2 .5 .7 .5 .6 .5 .7 .5 .7 .5 1 .5 1 .5 1.1 .5 1 .5 .7 .5 .8 .5 .1 .5 .1 .5-.2 .5-.2 .5 0 .5-.1 .5 .6 .5 .6 .5 .4 .5 .3 .5 .7 .5 .8 .5-.6 .5-.6 .5 0 .5 .1 1 1.6 1-.7 1 1.3 1 4 1 2.7 1-1.9 1-1.4 1-.9 1-1.4 1-.7 1 2.5 1 6.1 1 3.3 1-5.8 1-3 1 .3 1-.9 1 1.3 1 2.1 1 1.5 1 2.8 1-1.6 1-7.2 1-.5 1 5.8 1 4.9 1 3 1 1.1 1 .7 1-.3 1-.9 1 1.8 1 1.1 1-.8 1-1 1 2.6 1 3.7 1-.8 1-5 1-3.5 1 2.6 1 2 1 1.6 1-1.3 1-1.3 1 .4 1 .3 1 2.5 1 4.7 1 1.5 1-2.7 1-.2 1 2.6 1-.3 1-.2 1 .5 1 .1 1 0 1-1 1-1.4 1-1.8 1-.1 1 6 1 5.6 1 1.3 1-.8 1-2.5 1-1.3 1 3.4 1 2.6 1-.1 1-1.1 1 .2 1-1 1-1.3 1-.9 1-2.1 1-2 1 .6 1 2 1 2.1 1 1 1-1.6 1 .8 1 .2 1-.2 1 1.1 1 1.5 1 .8 1-1.7 1-2.5 1-1.1 1-1.8 1-1.5 1 0 1 1.6 1-2.1 1-1.9 1 2.5 1 4 1 .1 1-1.5 1-.6 1 2.6 1 2.4 1-1.2 1-.4 1 1.2 1-1.4 1-3.2 1-.5 1 .2 1-.1 1 .1 1-1.2 1-.9 1-.2 1 2.3 1 3.4 1-.1 1 1.8 1-.8 1-2.7 1-.1 1 .1 1 1 1 1.9 1-.6 1-.6 1 .3 1 .8 1 .3 1-1.3 1-.5 1 .9 1-.7 1 2.1 1 1.6 1-1 1-1.3 1-1.2 1 .3 1 2.9 1 3.4 1 .4 1-1.4 1-1.4 1-.8 1 1.8 1 0 1-3.2 1 .4 1 2 1 1 1-1.5 1-2 1 2.4 1 2.7 1-.2 1-1.4 1 .4 1 2.3 1 2.7 1 .6 1-2.9 1-7.3 1-6.7 1 3.5 1 8.1 1 5.8 1 1.5 1 .2 1-1 1-2.2 1-2.1 1-2.6 1-2.7 1 4.2 1 4.9 1-.5 1-.2 1-2.1 1-2.1 1 .2 1 5.9 1 5.4 1 .7 1-.2 1 1.8 1 1 1-1 1-1 1-3.1 1-1.9 1-2.4 1 .9 1 3.1 1 1.2 1-2.5 1-1.8 1 1.2 1-.7 1 2.7 1 3.9 1 1.8 1 1.3 1-2.1 1-.9 1 3.3 1 1 1-1.7 1-2.3 1 .1 1 .2 1-1.1 1-1 1-.6 1-.5 1 1.2 1 1.7 1 1.2 1 1.5 1 .4 1 1.3 1 2.6 1-.1 1 1.1 1-2.5 1-2.9 1-.6 1 .6 1-.8 1 .3 1 2.9 1 2.1 1 3.9 1 2.6 1-9.8 1-1.9 1 2.4 1-.1 1-.7 1 1.3 1 3 1-.1 1-2.2 1-.5 1 2.6 1 3.8 1 .6 1-.8 1-2.9 1-1.7 1-.7 1 1.3 1 .2 1-2.3 1-.9 1 3.1 1 5 1 .6 1-4.1 1-3.1 1-.2 1 2.3 1 3 1 1.3 1-2.5 1-2.3 1-.2 1-1.1 1 3.1 1 1.8 1-.1 1 3.8 1 3 1-6.3 1-.4 1-1.5 1-2.3 1 1.7 1 1.2 1-2.8 1 3.3 1 8.9 1 4.5 1-2 1-2.6 1-1.2 1-.1 1-1.2 1-.4 1-1.6 1-2.1 1 .5 1 3.4 1 3.4 1 .9 1-1.1 1-1.1 1 .6 1 .3 1-2.4 1-1.9 1-2.3 1-2.6 1 1.3 1 2.6 1 1.9 1 1.4 1-.8 1-1.9 1 3.1 1 2.7 1-1.6 1-.2 1 2.7 1-.2 1 2.2 1 2.1 1-1.4 1-4.1 1 .3 1-.4 1-.5 1-.4 1 1.4 1 1.7 1-2.9 1-2.4 1 1.8 1 4.7 1-.5 1-4.1 1-.8 1 .7 1 2 1 2.3 1-2.7 1-2.8 1-1.7 1-2.4 1-1.2 1-1.2 1 .2 1 6.8 1 9.2 1 7.3 1 .1 1-6.1 1-6.7 1-5.5 1-.9 1 1.5 1 6.7 1 7.3 1-2.4 1-2.8 1-1.4 1 .1 1-.2 1-1 1-.7 1 .2 1 0 1-1.4 1-1.4 1 .4 1 1.6 1 1 1-.2 1-.9 1 .7 1 3.4 1 2.3 1-1.8 1-.8 1 5.4 1 3.9 1 3.1 1 .4 1-2.7 1-5.9 1-1.7 1 2.5 1 .6 1 2.2 1-4.7 1-3.1 1 .6 1-.7 1-.1 1 3.1 1 2.2 1-.2 1-2.3 1 0 1 1.8 1 3.6 1 1.4 1-.7 1-1.1 1-2.5 1 .3 1 3.1 1 4.3 1 1 1-1.5 1-2.4 1-1.7 1 2.8 1-.9 1 .1 1-.8 1-.9 1-.5 1 1.9 1 7.1 1 5.3 1-1.3 1-6.2 1-5.3 1-.8 1 .7 1 1.4 1 1.8 1 1.9 1 3.4 1 1.3 1-2.6 1-1.5 1-.8 1 .1 1-.5 1-1.2 1 3 1 5.6 1 2.4 1-1.3 1 1.8 1 .7 1-7.2 1-8.5 1-2.7 1 2.3 1 3.4 1 .3 1 .5 1 1.9 1-1.2 1-2.2 1-1.7 1-2.1 1-1.9 1 .8 1 6.2 1 3.7 1-.8 1-2.3 1 1.8 1 4.2 1 4.7 1 2.1 1-3.3 1-3.3 1-1.8 1 1.7 1-3 1-3 1-.2 1 2.9 1 2.8 1-.9 1-3.8 1-1.6 1 5.2 1 1.5 1 0 1-1.7 1-2.3 1 .1 1 2.8 1 1.4 1 .2 1 .5 1 .6 1 1.1 1-.9 1-.4 1 1.2 1 1.8 1 1.9 1-1.8 1-2.4 1 1.8 1 1.3 1-1.8 1-2.7 1-7.2 1-.6 1 3.5 1 .6 1 .4 1-.2 1-.4 1 .3 1 2.6 1 3.6 1-.1 1-1.8 1 1.3 1 1.9 1 .2 1-3.2 1-4 1-.1 1 3.4 1 2.9 1 .3 1 2.2 1 2 1-1.1 1-2.5 1 .4 1-1 1-.1 1 1 1-.7 1-2.1 1 1.3 1 1.2 1-4.5 1 .5 1 3.5 1 1.9 1 1.1 1 2.3 1-1.7 1-4.7 1-3.6 1-1.4 1 3 1 .6 1-3.1 1 .2 1 .1 1 0 1-.3 1-1.2 1 4.8 1 10 1 1.1 1-1.2 1-.9 1-1.9 1-3.2 1-2.3 1 1.4 1 3.4 1 1.4 1-2.4 1-1.8 1-3 1-1.4 1-.2 1-4.7 1-.7 1 1.3 1 2.1 1 5.9 1 2.2 1-1.7 1-1.7 1-5.4 1 4.1 1 14.2 1 10.7 1-.8 1-10.5 1-10.5 1-6 1-3.6 1-2 1 1.1 1 .6 1 2.3 1 6.6 1 3 1 .2 1-2.3 1-.2 1 4.7 1 4.5 1-.7 1-5.1 1-3.9 1-3 1-1.8 1 .6 1 .3 1-3.7 1-1.9 1 2.5 1-.8 1 .6 1 2.2 1 3.9 1 5 1 3.3 1 1.1 1-.5 1-2.3 1-3.1 1-2.9 1-3.1 1-1.3 1 1.1 1 3.6 1 2.3 1-1 1-1.8 1 1.4 1 2.2 1-1 1-5.2 1-1.9 1 3.3 1 2.1 1-3.8 1-.6 1 3.5 1 2.9 1-.6 1-2.3 1-.8 1 3.3 1 2 1-1.5 1 .9 1 2.6 1-1.1 1-3.8 1-3.5 1-1.1 1 1.8 1 1.6 1-1.4 1-2 1 1.2 1 2.9 1 8.9 1 1.6 1-8 1-4.6 1 2.1 1 2.2 1 3.1 1 .9 1-4.3 1-4.9 1-2 1 1.8 1 1.3 1-3 1-6.5 1-.8 1 6.2 1 4.6 1 4.2 1 1.7 1-3 1-1.9 1 .3 1-1.9 1-.9 1 2.4 1 1.4 1 .2 1 1.8 1 0 1-1 1-2.7 1-1 1 .9 1-1.6 1-4.1 1-1.1 1 3.1 1-.9 1-3.3 1 1.2 1 2 1 0 1 .5 1 1.9 1 0 1 1.4 1 .1 1-1.3 1 1.2 1 .4 1 2 1 6.6 1 3.5 1-3 1-4.7 1-4.9 1-1.8 1 2 1-1.2 1 .3 1-.1 1 .9 1 1.7 1-1.4 1-1.8 1 1.1 1 1.9 1 .7 1-1.7 1-4 1-5.6 1 0 1 5.5 1-.4 1-3.3 1-1.1 1 1 1 1.1 1-2.3 1-.2 1 .6 1-.1 1-.8 1 .4 1 4.2 1 4.9 1 1.3 1-2.2 1-3.6 1-4.4 1-2.6 1-.9 1-.5 1 2.7 1 3.9 1 .7 1 .5 1 1.3 1-1.7 1-.9 1 1.5 1 2.3 1 4.2 1 .9 1-3.2 1-4.1 1-2.1 1-2.3 1 1.7 1 3.7 1-.2 1-.4 1 1.3 1 1 1-.5 1 .7 1 .6 1-2.5 1-2.2 1 1.6 1 1.1 1-.7 1 1 1-1.3 1-3.7 1 1.2 1 3.4 1 1.2 1 2.5 1 6.8 1 4 1-6.7 1-4.6 1 1.8 1 4 1-1.2 1-3.2 1-3.2 1-.9 1 .5 1-1.1 1-1.4 1-.9 1-.2 1-.3 1-1 1-1.2 1 1.5 1 3.8 1 3.6 1-1.9 1-1 1 1 1 .6 1 2.1 1 .6 1-.3 1 .7 1 1.2 1-2.1 1-6.4 1-1.2 1 1.5 1 .8 1-.6 1-2 1 3.9 1 5 1 3.6 1 2.3 1 .1 1-4.2 1-4.3 1 .3 1 2.1 1 1.5 1-.8 1-5 1-5.1 1-2.7 1 2.6 1 3.6 1-.8 1 .4 1 2.8 1-2.3 1-1.9 1 2.6 1 4.2 1 2.5 1-.1 1-.7 1 .6 1 1.4 1-.6 1-3.5 1-6.2 1-2.5 1-.1 1 1.6 1 3.3 1 1.8 1-1.7 1-3.6 1-2 1 .4 1 1.3 1 2.2 1 3.1 1 1.6 1-1.1 1-.8 1-.1 1-3.3 1-4.9 1 1.8 1 2 1-1.4 1 2 1 5.7 1 4.3 1-1.5L1143 740.6l-1 .3 -1-5.9 -1-7.2 -1 .3 -1 2.1 -1 0 -1-.4 -1 3.1 -1-.4 -1-1.6 -1 .3 -1 1.2 -1-.5 -1-3.1 -1-1 -1 1 -1-.1 -1 1.4 -1 4.3 -1 2.7 -1 .1 -1-4.5 -1-6.2 -1 .2 -1 3.6 -1 5.9 -1 4 -1-.1 -1-.5 -1-1.3 -1 .2 -1 .9 -1-.9 -1-2.9 -1-3.3 -1 1.2 -1 2.5 -1-3.3 -1-.2 -1 2.3 -1-1.5 -1-4.2 -1-.2 -1 4 -1 3.9 -1 2.7 -1-1.6 -1-5 -1 .9 -1 6.4 -1 5.2 -1-1.5 -1-4.1 -1-2.2 -1-4.6 -1-4.3 -1 1.7 -1 .7 -1-1 -1-1.6 -1 3.5 -1 4.3 -1 4.4 -1-.3 -1-1.8 -1-2 -1-1.8 -1-3.3 -1 .1 -1 3.7 -1 4.1 -1 .6 -1-.7 -1-3.3 -1-3.5 -1-.9 -1 .2 -1-.4 -1-2.6 -1 1.1 -1 2.3 -1 .3 -1-2.1 -1 .3 -1 4.2 -1 3.6 -1-.3 -1-2.3 -1 .3 -1 4.7 -1 7.1 -1-2.5 -1-8.8 -1-5.6 -1-1.3 -1-.9 -1 0 -1 1.1 -1 1.4 -1 1.5 -1 1.6 -1-1.3 -1-4.5 -1 2.2 -1 6.1 -1 .4 -1-3.8 -1 .1 -1-.3 -1-1.7 -1 1.1 -1-.7 -1-3.4 -1-4.5 -1-.1 -1 3.3 -1 6.1 -1 5.5 -1 0 -1-4.1 -1-2.3 -1 .4 -1 .4 -1-1.8 -1-2.9 -1-1.2 -1-1 -1-3.6 -1-2 -1 2.2 -1 2.3 -1 3.5 -1 3 -1 .9 -1 .4 -1 .1 -1-4.1 -1-5 -1-2 -1 3.7 -1-.4 -1-1 -1 1.1 -1 2 -1-.6 -1-1.1 -1-.8 -1 2.6 -1 1.5 -1-1.6 -1 .8 -1 2.1 -1 1.4 -1 3.5 -1-.8 -1-5.1 -1 1 -1 1.2 -1 1.8 -1-1.3 -1 .2 -1-.1 -1-1.5 -1-.2 -1 1.7 -1 2 -1 6.3 -1 2.9 -1 2.6 -1-3.3 -1-6.5 -1-2 -1-.2 -1-.7 -1 .3 -1 .9 -1 0 -1-1.9 -1-2 -1-2 -1-.3 -1-1.1 -1-.2 -1 5.8 -1 2.7 -1-3.7 -1 .3 -1 3.8 -1 1.6 -1 .5 -1 .2 -1 .1 -1-1.1 -1 .1 -1-2 -1 4 -1 .9 -1-2.5 -1-.8 -1-1.2 -1 .7 -1 3.5 -1 1.7 -1-2 -1-3.8 -1-6.4 -1-3.1 -1 2 -1 4.4 -1 3 -1-1.3 -1-.8 -1 3.3 -1 5.2 -1 2 -1-.6 -1-2.2 -1-3.3 -1-2.1 -1 4 -1 7.6 -1-3.2 -1-10.4 -1-3.8 -1 .2 -1 .4 -1 4.1 -1 2.5 -1 .7 -1 .6 -1 2.5 -1 2.5 -1 2.2 -1-2.8 -1-4.2 -1-1.9 -1-1.3 -1-1.3 -1 1.5 -1 1.8 -1-.4 -1-3.2 -1-1.3 -1-.8 -1 3.8 -1 .2 -1-4.5 -1 .5 -1 5.7 -1 .6 -1-3.5 -1-1.3 -1 1 -1 2.8 -1 .4 -1-3.8 -1-2.4 -1 1.9 -1 2.3 -1 2.6 -1 5.5 -1 2.3 -1-.1 -1-.8 -1-4.7 -1-7.4 -1-3.1 -1 1.2 -1 1.3 -1 .2 -1-1.3 -1 .7 -1 .4 -1-2.7 -1 2.3 -1 2.3 -1 2.4 -1 4.1 -1 6.7 -1 4.2 -1-6.7 -1-6 -1 .1 -1-.2 -1-1.6 -1-5.1 -1-4.6 -1-.5 -1 .7 -1 1.9 -1 9.7 -1 30.9 -1 26.5 -1 7.3 -1 1 -1-1.7 -1-13.3 -1-32.4 -1-23.6 -1 1.3 -1 2.4 -1 .4 -1-2.9 -1-4.7 -1-3.2 -1-2.4 -1 2.9 -1 3.7 -1 1.2 -1 .8 -1 2.7 -1 2.3 -1 4.3 -1-.4 -1-6.3 -1-2.6 -1 1.4 -1 2.1 -1 2.3 -1 2.2 -1 1.3 -1-1.7 -1-8.7 -1-5.7 -1 .6 -1 4.1 -1 1.4 -1-2.3 -1 1 -1 .6 -1-2.8 -1-1.2 -1 2.2 -1 3.1 -1 3.3 -1-.9 -1-.7 -1 .4 -1-.9 -1-2.4 -1 1 -1 2.8 -1-.9 -1-1.3 -1 1.2 -1-.6 -1 .3 -1 3.2 -1 1.1 -1-2.8 -1-1.7 -1 0 -1-1.8 -1-.9 -1-.8 -1-1.9 -1 .1 -1 1.8 -1 6.4 -1 4.5 -1-1.7 -1-3.3 -1-1.9 -1-.4 -1-.7 -1-1.2 -1-3.2 -1-3.4 -1-1.2 -1-.8 -1 1.9 -1 .8 -1-2.7 -1 1 -1 6.8 -1 3.4 -1-.5 -1-1.6 -1-1.5 -1 1.6 -1 .8 -1-.9 -1-1.9 -1-1 -1 1.1 -1 .3 -1 1.9 -1-.8 -1-.9 -1 2.3 -1-2.5 -1-6.2 -1 3 -1 4.7 -1 1.3 -1-3.7 -1-4.6 -1-2.7 -1 .7 -1 1.8 -1 3.3 -1 .6 -1-.9 -1-1.1 -1-.3 -1-.2 -1 .3 -1 1.7 -1 3.2 -1 .7 -1 .4 -1-3 -1-4.9 -1-.7 -1 1.9 -1 .2 -1-4.1 -1-5.7 -1-.7 -1 1.9 -1 1.4 -1 .8 -1 1 -1 1.6 -1 1.2 -1 1.4 -1-.6 -1-5.6 -1-4.1 -1 1.2 -1 8.4 -1 5.9 -1 1.7 -1-.7 -1 .5 -1-2.9 -1-7.7 -1-3.5 -1 1.6 -1 .5 -1-.2 -1 3.7 -1 4.4 -1 2.5 -1-2.2 -1-3.5 -1-4.7 -1-3.1 -1-.1 -1 2.1 -1 2.3 -1 1.5 -1 2.7 -1 4.2 -1-3.6 -1-7.1 -1-3.5 -1-.8 -1 1.1 -1 1 -1-.4 -1-.7 -1-.3 -1 .6 -1 3.5 -1 3 -1 2.2 -1-3.4 -1-4.4 -1 .8 -1 2.3 -1 2.8 -1 .5 -1-4 -1-5 -1-3.1 -1-.7 -1 .8 -1 1.3 -1-1.3 -1-3.2 -1-1.5 -1 1.7 -1 1.7 -1 3 -1 2.5 -1-3.8 -1-.6 -1-1.8 -1 2.1 -1 5.3 -1 2.4 -1-.2 -1-.8 -1-6.3 -1-3.7 -1 .4 -1 2.6 -1-1.7 -1-3.1 -1-.6 -1 .5 -1 1.1 -1 .7 -1-.2 -1-.4 -1 .1 -1 .8 -1-.4 -1-1.2 -1-.9 -1-.9 -1 2.7 -1 1.7 -1 .4 -1 3.3 -1-.1 -1-7.2 -1-6.3 -1 .5 -1 1.5 -1 6.1 -1 6.8 -1 3.7 -1 1 -1-4.6 -1-7.6 -1-6.7 -1 .7 -1 1.9 -1-.5 -1 .3 -1 .2 -1 .9 -1 2.2 -1 2.4 -1-.6 -1-4 -1-.7 -1 3.4 -1 .4 -1-2.1 -1-2.1 -1 2.3 -1 3.4 -1-2.2 -1-4.3 -1-.4 -1 .9 -1 1.9 -1 .5 -1 2 -1 1.4 -1-.4 -1-1 -1-1.4 -1-1.1 -1-1.2 -1-2.1 -1-1.4 -1-1.2 -1 1.7 -1 .9 -1-3.4 -1-3.8 -1 .4 -1 2 -1 2.5 -1 4.4 -1-1.1 -1-3 -1-.2 -1 2.9 -1 1.6 -1-.3 -1-1.2 -1-2.5 -1-2.7 -1 .8 -1 3.1 -1 .6 -1-1.7 -1-.3 -1 .1 -1 1.6 -1 3.6 -1 4.4 -1-3.4 -1-9.7 -1-5.7 -1-.7 -1 1.5 -1-.2 -1 2.1 -1 .4 -1 2.3 -1 6.1 -1-2.2 -1-1.1 -1 2.4 -1 .7 -1-1.5 -1-2.4 -1 2.1 -1-.6 -1-4.6 -1 1.5 -1 3.3 -1 .7 -1-1.3 -1-.8 -1-.8 -1-3.1 -1-3.5 -1-1.5 -1 .7 -1 .8 -1 0 -1-1.3 -1 1.2 -1 1.9 -1 .9 -1 2.8 -1-.3 -1-2.6 -1-2.5 -1-3.1 -1 2.6 -1 .1 -1 .3 -1 1.7 -1-1.7 -1-3.4 -1-1.5 -1 1.5 -1 8 -1-.7 -1-2.1 -1-2.8 -1-4.9 -1-.8 -1 1.5 -1-1.4 -1 1.4 -1 1.6 -1 .5 -1 1.9 -1-1.9 -1-2.2 -1 0 -1 1.6 -1-.6 -1-2.8 -1-1.6 -1-1.6 -1 2.4 -1 2.2 -1-1.1 -1-.8 -1-1 -1 .1 -1 2.2 -1 1.6 -1-2.4 -1-3.4 -1 .4 -1 2.4 -1-.1 -1-2.3 -1-4.8 -1-1.7 -1 .7 -1 1.3 -1 2.9 -1 3.6 -1-.4 -1-1.9 -1-1 -1 .9 -1 2.1 -1 1.7 -1 .7 -1 .7 -1 1.1 -1-1.2 -1-2 -1-1.9 -1-3.7 -1-4.8 -1-.1 -1 .1 -1 .1 -1 0 -1-.3 -1-4.3 -1-4.8 -1 2.2 -1 2.5 -1 1.5 -1 2.6 -1 2.3 -1 .8 -1-2 -1-6.5 -1-5.2 -1-3.7 -1 4.2 -1 5.4 -1 4.2 -1 .9 -1-1.8 -1-3 -1-3.5 -1 2.3 -1 2.5 -1-.9 -1-2.5 -1 1.6 -1 .1 -1 0 -1-5.1 -1-1.4 -1 5.4 -1 .7 -1-.4 -1 .1 -1-.2 -1 1.3 -1 1.3 -1-2 -1-2.6 -1-1.1 -1-.4 -1 0 -1 1.5 -1-.5 -1-1.1 -1-1.3 -1-.9 -1 .9 -1 2.1 -1-.9 -1 .6 -1 .4 -1 .7 -1 1.1 -1-.4 -1-.9 -1-1 -1-1.9 -1 .8 -1-.9 -1-2.7 -1-.4 -1-2.1 -1-.5 -1 0 -1 1.2 -1 1.3 -1-1 -1 .2 -1 1.9 -1 1.4 -1 .2 -1-1.2 -1-.1 -1 1.1 -1 1 -1-.6 -1-.4 -1 .3 -1-.3 -1-.1 -1-2.8 -1-2.9 -1 .4 -1 2.2 -1-2.4 -1-2.3 -1 2.6 -1 3.7 -1 1.3 -1 3.6 -1 1.4 -1-1.3 -1 0 -1 0 -1-1 -1-2.5 -1 2.3 -1 1 -1-1.4 -1-2.3 -1-.9 -1 .6 -1 .3 -1 1.2 -1-.6 -1 .9 -1 .8 -1 .3 -1 1.5 -1 .6 -1-2.1 -1-2.6 -1 .1 -1 1.5 -1 4.1 -1-2.3 -1-3.5 -1-3.4 -1-2.4 -1 1.1 -1 .5 -1-1.5 -1 .5 -1-.9 -1 0 -1 .1 -1 0 -1 .2 -1 2.7 -1 2.5 -1-1.3 -1-5.1 -1-1.7 -1-1.9 -1-1.6 -1 3 -1 3.1 -1-1.9 -1-5.7 -1-4 -1 3.4 -1 6.3 -1 3.1 -1-3.7 -1-4.4 -1-.4 -1-.2 -1-1.7 -1-1.7 -1 .3 -1 .2 -1 .9 -1-1.3 -1-3.4 -1-3.1 -1-4.7 -1-.6 -1 5.6 -1 1.2 -1-1.5 -1-.5 -1-1.2 -1-2.6 -1-1.7 -1 .1 -1 3.2 -1 5 -1-3 -1-5.8 -1-2.8 -1 .4 -1 1.8 -1-.7 -1 .4 -1 3.1 -1-1.2 -1-4 -1-2.2 -1 .1 -1 1.3 -.5 .8 -.5 .7 -.5-.7 -.5-.6 -.5-1.3 -.5-1.3 -.5-.9 -.5-.9 -.5-.4 -.5-.3 -.5 .1 -.5 0 -.5-.4 -.5-.4 -.5-.4 -.5-.4 -.5 0 -.5-.1 -.5-.6 -.5-.5 -.5-1.4 -.5-1.4 -.5-1.2 -.5-1.2 -.5-.9 -.5-.9 -.5-1.4 -.5-1.3 -.5-.1 -.5 0 -.5 1.2 -.5 1.2 -.5-.1 -.5-.2 -.5-1.4 -.5-1.4 -.5-1.6 -.5-1.5 -.5-1 -.5-1 -.5-.8 -.5-.9 -.5-.8 -.5-1 -.5-.5 -.5-.7 -.5-.5 -.5-.7 -.5-1.3 -.5-1.5 -.5-1.3 -.5-1.4 -.5-1.5 -.5-1.5 -.5-1.4 -.5-1.6 -.5-2.2 -.5-2.3 -.5-1.7 -.5-1.8 -.5-2.5 -.5-2.6 -.5-2.4 -.5-2.3 -.5-2.6 -.5-2.6 -.5-2.8 -.5-2.8 -.5-2.6 -.5-2.7 -.5-2.5 -.5-2.6 -.5-2.2 -.5-2.3 -.5-2.5 -.5-2.5 -.5-2.5 -.5-2.5 -.5-2.7 -.5-2.6 -.5-2.5 -.5-2.6 -.5-2.7 -.5-2.7 -.5-2.7 -.5-2.7 -.5-2.7 -.5-2.8 -.5-3.2 -.5-3.3 -.5-3.4 -.5-3.6 -.5-3.7 -.5-4 -.5-4.1 -.5-4.3 -.5-3.9 -.5-4.3 -.5-4.5 -.5-5 -.5-5.2 -.5-5.6 -.5-5.9 -.5-6.2 -.5-6.5 -.5-6.9 -.5-7.1 -.5-7.7 -.5-9 -.5-10.3 -.5-11.1 -.5-11.7 -.5-11.6 -.5-11.8 -.5-12.3 -.5-12.9 -.5-13.3 -.5-13.8 -.5-14.4 -.5-15.1 -.5-15.3 -.5-15.2 -.5-14.9 -.5-15.2 -.5-15.7 -.5-16.6 -.5-17.3 -.5-17.7 -.5-18.6 -.5-19.9Z" fill="#684D8C" stroke="#684D8C" stroke-width="3.6" stroke-linejoin="round"/>
<path d="M205.5 110l.5 18.6 .5 17.9 .5 17.3 .5 16.6 .5 15.6 .5 15 .5 15 .5 15.3 .5 15.5 .5 15.2 .5 14.6 .5 13.8 .5 13.4 .5 12.9 .5 12.3 .5 11.7 .5 11.6 .5 11.5 .5 10.9 .5 10.2 .5 8.9 .5 7.7 .5 7.2 .5 7 .5 6.6 .5 6.4 .5 6 .5 5.7 .5 5.4 .5 5 .5 4.7 .5 4.3 .5 4 .5 4.3 .5 4 .5 3.9 .5 3.7 .5 3.5 .5 3.3 .5 3.2 .5 3.1 .5 2.8 .5 2.7 .5 2.6 .5 2.5 .5 2.5 .5 2.5 .5 2.4 .5 2.4 .5 2.4 .5 2.5 .5 2.6 .5 2.6 .5 2.4 .5 2.4 .5 2.1 .5 2.1 .5 2.5 .5 2.4 .5 2.6 .5 2.7 .5 2.5 .5 2.6 .5 2.3 .5 2.4 .5 2.3 .5 2.2 .5 2.4 .5 2.4 .5 1.8 .5 1.7 .5 1.9 .5 2 .5 1.6 .5 1.6 .5 1.2 .5 1.1 .5 1.8 .5 1.7 .5 1.9 .5 1.8 .5 .9 .5 .9 .5 .6 .5 .6 .5 .7 .5 .5 .5 .1 .5 .1 .5 .4 .5 .3 .5 .8 .5 .8 .5 1 .5 1.1 .5 .6 .5 .7 .5-.2 .5-.2 .5-.1 .5 0 .5 1.2 .5 1.1 .5 .9 .5 .7 .5 .9 .5 .9 .5 1.1 .5 1.1 .5 1.1 .5 1.2 .5 .7 .5 .8 .5 .1 .5 0 .5-.3 .5-.3 .5-.4 .5-.3 .5 .3 .5 .4 .5 .2 .5 .2 .5 .8 .5 .8 .5-.3 .5-.4 .5 .3 .5 .4 1 1.9 1-.8 1 .8 1 3.5 1 2.4 1-1.6 1-.7 1-.4 1-1.2 1-.9 1 2.3 1 6 1 3.4 1-5.6 1-3 1 .2 1-1.2 1 1 1 1.8 1 1.3 1 2.8 1-1.6 1-7.2 1-.9 1 5 1 4 1 2.7 1 1.4 1 1.4 1 .7 1-.3 1 1.8 1 .7 1-1.4 1-1.5 1 2.4 1 3.7 1-.5 1-4.6 1-3 1 2.8 1 2.1 1 1.8 1-1.2 1-1.2 1 .5 1 0 1 2.3 1 4.5 1 1.7 1-2.4 1 .2 1 2.6 1-.7 1-.7 1 0 1-.2 1-.1 1-1.1 1-1.8 1-2.3 1-.4 1 6 1 5.9 1 1.8 1-.7 1-2.5 1-1.4 1 3.2 1 2.4 1-.3 1-1.2 1 .1 1-.8 1-.9 1-.5 1-1.8 1-1.7 1 .5 1 1.8 1 1.6 1 .5 1-1.9 1 .9 1 .4 1 0 1 1.3 1 1.3 1 .5 1-2.1 1-2.8 1-1.3 1-1.8 1-1.3 1 .3 1 2.1 1-1.7 1-1.7 1 2.1 1 3.4 1-.8 1-2.2 1-.8 1 2.7 1 2.9 1-.9 1-.5 1 1 1-1.4 1-3 1-.1 1 .5 1 .1 1 .2 1-1.1 1-.6 1 .1 1 2.2 1 3.1 1-.4 1 1.5 1-1 1-3 1-.3 1-.2 1 .7 1 1.6 1-1 1-.8 1 .2 1 .8 1 .4 1-1.1 1-.3 1 1.3 1-.5 1 2.4 1 1.7 1-1 1-1.1 1-.9 1 .5 1 3.1 1 3.3 1 .1 1-1.9 1-1.9 1-1 1 2 1 .4 1-3.1 1 .5 1 1.9 1 .7 1-1.8 1-2.4 1 2.2 1 2.7 1 0 1-1.2 1 .4 1 2.4 1 2.8 1 .8 1-2.7 1-7 1-6.5 1 3.4 1 8 1 5.5 1 1.2 1-.2 1-1.4 1-2.7 1-2.5 1-2.9 1-2.7 1 4.4 1 5.5 1 .3 1 .3 1-2.2 1-2.7 1-.8 1 5.2 1 5 1 1 1 0 1 1.9 1 .7 1-1.5 1-1.3 1-2.8 1-1.1 1-1.5 1 1.6 1 3.4 1 1.1 1-2.8 1-2.3 1 .8 1-.9 1 3 1 4.4 1 2.4 1 1.8 1-2 1-.9 1 3.5 1 1.5 1-1 1-1.7 1 .4 1 .1 1-1.6 1-1.6 1-1.2 1-.7 1 1.4 1 2 1 1.3 1 1.5 1 .5 1 1.2 1 2.7 1 .1 1 1.3 1-2.2 1-2.7 1-.2 1 1 1-.5 1 .2 1 2.4 1 1.5 1 3.4 1 2.4 1-9.8 1-1.9 1 2.5 1 0 1-.6 1 1.5 1 3.1 1-.1 1-2.3 1-.8 1 2.4 1 3.5 1 .2 1-1.1 1-2.9 1-1.3 1 .1 1 2.1 1 .9 1-1.9 1-1 1 2.7 1 4.4 1 .2 1-4.2 1-2.8 1 .1 1 2.5 1 2.9 1 1.3 1-2.4 1-2.2 1-.1 1-1.1 1 3 1 1.9 1 .2 1 4.1 1 3.1 1-6.5 1-.6 1-1.7 1-2.5 1 1.4 1 .8 1-3.3 1 3 1 8.9 1 4.8 1-1.7 1-2.5 1-1.3 1-.3 1-1.4 1-.4 1-1.4 1-1.7 1 .8 1 3.7 1 3.6 1 1.2 1-.8 1-1 1 .3 1-.2 1-2.7 1-2 1-1.9 1-1.9 1 2.1 1 3.2 1 2 1 1 1-1.4 1-2.4 1 2.8 1 2.5 1-1.5 1-.2 1 2.8 1-.3 1 2 1 1.9 1-1.6 1-4 1 .5 1-.1 1-.2 1-.1 1 1.6 1 2.2 1-2.4 1-1.9 1 2 1 4.7 1-.7 1-4.6 1-1.2 1 .3 1 1.8 1 2.3 1-2.6 1-2.7 1-1.8 1-2.3 1-1 1-.9 1 .3 1 6.6 1 8.9 1 6.8 1-.2 1-5.9 1-6.2 1-5 1-.8 1 1.1 1 6 1 6.7 1-2.4 1-2.5 1-1.1 1 .4 1-.2 1-1.2 1-.9 1 .2 1 .4 1-.9 1-.9 1 .6 1 1.5 1 .6 1-.2 1-.8 1 1.1 1 3.7 1 2.5 1-1.8 1-1.1 1 5.2 1 3.6 1 2.9 1 .6 1-2.3 1-5.4 1-1.3 1 2.5 1 .4 1 1.9 1-5 1-3.3 1 .4 1-.8 1-.2 1 3.4 1 2.5 1 0 1-2.6 1-.4 1 1.3 1 3.3 1 1.3 1-.6 1-.9 1-2.5 1 .4 1 3.3 1 4.4 1 1.2 1-1.4 1-2.4 1-1.5 1 3.1 1-.7 1 0 1-.8 1-1 1-.3 1 2.1 1 7.2 1 5.2 1-1.6 1-6.4 1-5.5 1-.9 1 .4 1 1 1 1.5 1 1.5 1 3.2 1 1.5 1-2.4 1-1.2 1-.9 1 0 1-.6 1-1.2 1 3.2 1 6.2 1 3 1-.6 1 2.1 1 .9 1-7.5 1-8.9 1-3.2 1 1.9 1 3.3 1 .4 1 .8 1 2.2 1-1.1 1-2.2 1-1.8 1-2.2 1-1.9 1 .9 1 6.5 1 3.9 1-.4 1-2.1 1 1.8 1 3.9 1 4.2 1 1.7 1-3.2 1-2.7 1-1.2 1 2.3 1-2.6 1-3 1-.4 1 2.4 1 2.2 1-1.6 1-4.2 1-1.7 1 5.6 1 1.8 1 .3 1-1.4 1-2.2 1 .1 1 2.6 1 .8 1-.6 1 .1 1 .4 1 1.5 1-.3 1 .2 1 1.7 1 2.2 1 1.9 1-2.1 1-2.8 1 1.3 1 1.2 1-1.9 1-2.8 1-7.2 1-.6 1 4 1 1.2 1 .8 1-.1 1-.7 1 .2 1 2.8 1 4 1 .3 1-1.8 1 .5 1 .9 1-.6 1-3.4 1-3.7 1 .6 1 4.2 1 3.5 1 .6 1 1.9 1 1.7 1-1.3 1-2.7 1 .3 1-1.2 1-.1 1 1.1 1-.3 1-1.1 1 2.2 1 1.9 1-4.6 1-.6 1 2 1 .5 1 .4 1 2.7 1-.7 1-3.9 1-3.5 1-1.8 1 2.4 1 0 1-3.3 1 .5 1 .6 1 .4 1-.1 1-1.2 1 4.9 1 10 1 1 1-1.2 1-.8 1-1.5 1-2.5 1-1.7 1 1.6 1 3.1 1 .6 1-3.3 1-2.5 1-3.4 1-1.5 1 0 1-4.4 1-.6 1 1.5 1 2 1 5.8 1 1.9 1-1.8 1-1.7 1-5.3 1 4.1 1 14.2 1 10.8 1-.6 1-10.2 1-10.4 1-6 1-3.7 1-2.1 1 1 1 .5 1 2.4 1 6.7 1 3.1 1 .2 1-2.3 1-.3 1 4.5 1 4.4 1-1 1-5 1-3.6 1-2.1 1-.7 1 1.2 1 .4 1-4.3 1-2.6 1 2 1-.9 1 .9 1 2.6 1 4.3 1 5.1 1 3 1 .2 1-1.7 1-3.4 1-3.7 1-3.2 1-3.1 1-1 1 1.6 1 4.2 1 3.2 1-.3 1-1.4 1 1.5 1 1.7 1-1.5 1-5.7 1-1.7 1 4.1 1 3 1-3 1-.5 1 3.2 1 2.4 1-1 1-2.4 1-.9 1 3 1 1.4 1-2.3 1 .3 1 2.1 1-1.1 1-3.5 1-3.1 1-.9 1 2 1 1.9 1-.8 1-1.4 1 1.7 1 3.1 1 8.8 1 1.4 1-8.4 1-5.1 1 1.6 1 1.9 1 3.2 1 1.4 1-3.8 1-4.4 1-1.6 1 2 1 1.6 1-2.8 1-6.1 1-.5 1 6.3 1 4.5 1 3.7 1 1.2 1-3.4 1-1.9 1 .6 1-1.5 1-.9 1 2.2 1 .8 1-.3 1 1.5 1-.1 1-1 1-2.7 1-1.4 1 .6 1-2 1-4.2 1-1.3 1 3.2 1-.5 1-2.8 1 1.9 1 2.5 1 .3 1 .6 1 2 1 .1 1 1.6 1 .2 1-1.3 1 1 1 .3 1 1.7 1 6.2 1 3.1 1-3.2 1-4.7 1-4.8 1-1.6 1 2.3 1-.8 1 .6 1-.2 1 .6 1 .9 1-2.1 1-2.2 1 1.1 1 2 1 1 1-1.5 1-3.9 1-5.2 1 .5 1 6.1 1 0 1-3.3 1-1.5 1 .7 1 .7 1-2.6 1-.4 1 .7 1 .2 1-.7 1 .5 1 4.2 1 4.9 1 1.3 1-2.4 1-3.9 1-4.6 1-2.6 1-.8 1-.2 1 2.9 1 4 1 .6 1 .2 1 .9 1-2 1-1.1 1 1.5 1 2.4 1 4.4 1 1.2 1-2.9 1-3.9 1-1.8 1-2 1 1.8 1 3.6 1-.4 1-.8 1 1.1 1 .6 1-1 1 .2 1 .3 1-2.3 1-1.5 1 2.4 1 2.1 1-.1 1 1.1 1-1.4 1-4.2 1 .6 1 3.1 1 1.1 1 2.5 1 6.8 1 3.7 1-7 1-4.9 1 1.6 1 4 1-.9 1-2.7 1-2.6 1-.5 1 .7 1-1.2 1-1.6 1-1.1 1-.4 1-.2 1-1.1 1-1.1 1 1.5 1 4 1 3.9 1-1.8 1-1.1 1 .7 1 .2 1 1.6 1 .6 1-.3 1 .7 1 1.2 1-2.2 1-6.3 1-1 1 1.6 1 .8 1-.8 1-2.3 1 3.8 1 5 1 3.8 1 2.4 1 .1 1-4.3 1-4.4 1 .4 1 2.2 1 1.6 1-.7 1-4.9 1-5.1 1-2.8 1 2.5 1 3.5 1-.9 1 .4 1 2.9 1-2.4 1-1.9 1 2.8 1 4.6 1 2.8 1 0 1-1 1 .2 1 .8 1-1.1 1-3.7 1-6.3 1-2.4 1 .1 1 1.9 1 3.7 1 2.2 1-1.5 1-3.4 1-1.8 1 .7 1 1.5 1 2.2 1 2.8 1 1 1-1.8 1-1.2 1-.4 1-3.3 1-4.9 1 1.7 1 2 1-1.6 1 1.9 1 5.7 1 4.8 1-.8L1143 740.4l-1-.3 -1-6.3 -1-7.3 -1 .4 -1 2.3 -1 0 -1-.3 -1 3 -1-.3 -1-1.4 -1 .8 -1 1.9 -1 .1 -1-2.8 -1-1.1 -1 .8 -1-.2 -1 1.2 -1 4 -1 2.5 -1-.3 -1-4.9 -1-6.6 -1 .1 -1 3.5 -1 6 -1 4.3 -1 .3 -1 0 -1-.7 -1 .4 -1 .8 -1-1.2 -1-3.3 -1-3.5 -1 1.2 -1 2.5 -1-3.3 -1-.2 -1 2.3 -1-1.3 -1-4 -1-.2 -1 4 -1 3.8 -1 2.6 -1-1.8 -1-5 -1 .8 -1 6.5 -1 5.3 -1-1.5 -1-4.2 -1-2.4 -1-4.7 -1-4.1 -1 2 -1 .9 -1-1 -1-1.7 -1 3.4 -1 4.2 -1 4.4 -1-.3 -1-1.8 -1-2 -1-1.7 -1-2.9 -1 .4 -1 4.1 -1 4.2 -1 .4 -1-.9 -1-3.4 -1-3.7 -1-.9 -1 .2 -1-.4 -1-2.5 -1 1.3 -1 2.6 -1 .4 -1-2.3 -1-.1 -1 3.6 -1 3.1 -1-.6 -1-2.3 -1 .5 -1 5 -1 7.4 -1-2.3 -1-8.7 -1-5.6 -1-1.2 -1-.5 -1 .5 -1 1.5 -1 1.7 -1 1.2 -1 1 -1-2.1 -1-5.5 -1 1.6 -1 5.9 -1 .8 -1-3.4 -1 .6 -1 .1 -1-1.4 -1 1.4 -1-.5 -1-3.3 -1-4.6 -1-.4 -1 3 -1 5.9 -1 5.2 -1-.3 -1-4.3 -1-2.4 -1 .4 -1 .6 -1-1.5 -1-2.5 -1-.9 -1-.9 -1-3.7 -1-2.2 -1 1.9 -1 2.1 -1 3.6 -1 3.2 -1 1.2 -1 .6 -1 .1 -1-4.1 -1-5.1 -1-2 -1 3.6 -1-.6 -1-1.2 -1 1.2 -1 2.4 -1-.2 -1-.7 -1-.6 -1 2.6 -1 1.3 -1-2.2 -1 .2 -1 1.7 -1 1.2 -1 3.4 -1-1.1 -1-5.2 -1 1 -1 1.6 -1 2.5 -1-.5 -1 .5 -1 0 -1-1.8 -1-.6 -1 1.4 -1 1.8 -1 6.1 -1 2.9 -1 2.9 -1-2.9 -1-6.1 -1-1.7 -1 0 -1-.6 -1 .3 -1 .9 -1-.2 -1-2.1 -1-2.1 -1-2.2 -1-.5 -1-1.6 -1-.8 -1 5.2 -1 2.4 -1-3.9 -1 .4 -1 4.1 -1 1.9 -1 .9 -1 .4 -1 .2 -1-1.1 -1 .2 -1-1.6 -1 4.4 -1 1.5 -1-2.3 -1-.9 -1-1.6 -1 .5 -1 3.5 -1 2.1 -1-1.5 -1-3.3 -1-6.3 -1-3.3 -1 1.7 -1 4.1 -1 2.8 -1-1.5 -1-1.1 -1 2.9 -1 4.7 -1 1.5 -1-1 -1-2.3 -1-3.1 -1-1.6 -1 4.5 -1 8 -1-2.9 -1-10.4 -1-4 -1-.3 -1-.2 -1 3.5 -1 2.2 -1 .6 -1 .3 -1 2 -1 2.3 -1 2.2 -1-2.4 -1-3.5 -1-1.2 -1-.6 -1-1 -1 1.6 -1 2 -1-.1 -1-2.8 -1-.9 -1-.9 -1 3 -1-.8 -1-5.2 -1 .3 -1 6.1 -1 1.1 -1-3 -1-1.3 -1 .6 -1 2.1 -1-.5 -1-4.5 -1-2.9 -1 1.7 -1 2.3 -1 2.9 -1 6.1 -1 3.4 -1 1.2 -1 0 -1-4.4 -1-7.5 -1-3.4 -1 .7 -1 1 -1 .3 -1-.8 -1 1.5 -1 .9 -1-2.8 -1 1.7 -1 1.3 -1 1.4 -1 3.7 -1 6.7 -1 4.5 -1-6.5 -1-5.9 -1 .2 -1-.1 -1-1.7 -1-5.2 -1-4.7 -1-.6 -1 .8 -1 1.9 -1 9.9 -1 31 -1 26.5 -1 7.1 -1 .8 -1-1.9 -1-13.4 -1-32.4 -1-23.6 -1 1.2 -1 2.4 -1 .5 -1-2.6 -1-4.6 -1-3.1 -1-2.6 -1 2.7 -1 3.5 -1 1 -1 .9 -1 3.1 -1 3.1 -1 5.2 -1 .3 -1-6 -1-2.8 -1 .8 -1 1.4 -1 1.9 -1 2.1 -1 1.3 -1-1.6 -1-8.7 -1-5.7 -1 .5 -1 3.9 -1 1 -1-2.8 -1 .8 -1 .7 -1-2.3 -1-.4 -1 2.6 -1 2.9 -1 2.5 -1-1.9 -1-1.1 -1 1 -1 .5 -1-.8 -1 2.1 -1 2.8 -1-1.5 -1-2.3 -1 .4 -1-1.1 -1 .2 -1 3.2 -1 1.4 -1-2.8 -1-1.5 -1 .2 -1-1.5 -1-.7 -1-1 -1-2.5 -1-.7 -1 1.1 -1 6 -1 4.9 -1-.9 -1-2.4 -1-1.1 -1-.4 -1-1.1 -1-1.7 -1-3.4 -1-3.2 -1-1 -1-.8 -1 1.4 -1 .2 -1-3.1 -1 1 -1 6.8 -1 3.6 -1-.5 -1-1.5 -1-1.1 -1 2.1 -1 1.1 -1-1 -1-2.2 -1-1.6 -1 .5 -1-.2 -1 1.5 -1-.6 -1-.5 -1 3 -1-1.8 -1-5.9 -1 2.9 -1 4.6 -1 1 -1-4.1 -1-4.8 -1-3 -1 .7 -1 2.2 -1 3.9 -1 1.3 -1-.4 -1-.9 -1-.3 -1-.6 -1-.3 -1 1 -1 2.7 -1 .6 -1 .8 -1-2.5 -1-4.6 -1-.7 -1 1.7 -1-.1 -1-4.4 -1-6 -1-.8 -1 1.9 -1 1.5 -1 .9 -1 1 -1 1.5 -1 .9 -1 1.1 -1-.7 -1-5.5 -1-3.7 -1 1.6 -1 8.9 -1 6.2 -1 1.6 -1-1.1 -1-.2 -1-3.5 -1-8.2 -1-3.8 -1 1.5 -1 .7 -1-.1 -1 3.7 -1 4.2 -1 2.3 -1-2.3 -1-3.4 -1-4.4 -1-2.7 -1 .3 -1 2.3 -1 2.5 -1 1.7 -1 2.9 -1 4.5 -1-3.5 -1-7.2 -1-3.7 -1-.9 -1 1 -1 1.1 -1-.4 -1-.9 -1-.5 -1 .4 -1 3.5 -1 2.9 -1 2 -1-3.5 -1-4.6 -1 .7 -1 2.2 -1 2.7 -1 .4 -1-3.9 -1-4.7 -1-2.6 -1-.2 -1 .9 -1 1.2 -1-1.6 -1-3.4 -1-1.5 -1 1.9 -1 1.8 -1 3.2 -1 2.7 -1-3.4 -1-.4 -1-1.8 -1 1.7 -1 4.7 -1 2.1 -1-.3 -1-.7 -1-6.1 -1-3.3 -1 .5 -1 2.7 -1-1.9 -1-3.4 -1-1 -1 .4 -1 1.1 -1 1 -1 0 -1-.6 -1-.4 -1 .3 -1-.8 -1-1.2 -1-.7 -1-.7 -1 2.7 -1 1.5 -1-.1 -1 3 -1 0 -1-6.6 -1-5.6 -1 .9 -1 1.4 -1 5.6 -1 6.4 -1 3.5 -1 1.2 -1-4.1 -1-7.2 -1-6.6 -1 .6 -1 1.5 -1-.6 -1 .2 -1 .2 -1 .9 -1 2.1 -1 2.4 -1-.5 -1-3.6 -1-.2 -1 3.8 -1 .7 -1-2.1 -1-2.3 -1 1.8 -1 2.9 -1-2.7 -1-4.5 -1-.6 -1 .6 -1 1.5 -1 .3 -1 2 -1 1.5 -1-.2 -1-.8 -1-1.3 -1-1.1 -1-1.3 -1-2.1 -1-1.3 -1-.9 -1 2.2 -1 1.5 -1-3 -1-3.9 -1-.2 -1 1.2 -1 1.8 -1 4 -1-1.1 -1-2.6 -1 .3 -1 3.1 -1 1.6 -1-.6 -1-1.5 -1-2.8 -1-2.8 -1 .4 -1 2.8 -1 .4 -1-1.8 -1-.1 -1 .4 -1 1.6 -1 3.6 -1 4 -1-3.7 -1-9.7 -1-5.5 -1-.1 -1 1.8 -1 .2 -1 2.3 -1 .6 -1 2.6 -1 6.3 -1-2.4 -1-1.4 -1 2 -1 .6 -1-1.3 -1-2.4 -1 2.1 -1-.8 -1-4.7 -1 1.6 -1 3.2 -1 .5 -1-1.6 -1-.9 -1-.9 -1-2.6 -1-2.9 -1-1.1 -1 .8 -1 .4 -1-.7 -1-2.1 -1 .4 -1 1.5 -1 .9 -1 3.1 -1 .1 -1-2.3 -1-2.2 -1-2.9 -1 2.7 -1 .2 -1 .1 -1 1.5 -1-1.8 -1-3.5 -1-1.6 -1 1.5 -1 8 -1-.5 -1-1.6 -1-2.1 -1-4.5 -1-.7 -1 1.2 -1-1.8 -1 1 -1 1.3 -1 .3 -1 1.7 -1-2.1 -1-2.2 -1 0 -1 1.6 -1-.7 -1-3 -1-1.9 -1-1.7 -1 2.6 -1 2.7 -1-.4 -1-.3 -1-.9 -1-.2 -1 1.6 -1 .9 -1-2.9 -1-3.6 -1 .4 -1 2.2 -1-.5 -1-3 -1-5.3 -1-1.9 -1 .9 -1 1.7 -1 3.4 -1 4 -1-.4 -1-2.2 -1-1.7 -1 0 -1 1.3 -1 1.4 -1 .9 -1 1.2 -1 1.5 -1-1.2 -1-2.3 -1-2.1 -1-3.5 -1-4 -1 .9 -1 .8 -1 .1 -1-.5 -1-1.1 -1-4.9 -1-5 -1 2.2 -1 2.8 -1 1.9 -1 3.1 -1 2.7 -1 1.2 -1-1.7 -1-6.3 -1-5 -1-3.7 -1 4.1 -1 5.2 -1 3.8 -1 .8 -1-2 -1-3 -1-3.6 -1 2.2 -1 2.3 -1-.9 -1-2.3 -1 2 -1 .4 -1 .3 -1-5 -1-1.4 -1 5.1 -1 .5 -1-.7 -1 .3 -1 .3 -1 1.9 -1 1.6 -1-2 -1-2.8 -1-1.3 -1-.7 -1-.2 -1 1.5 -1-.6 -1-1.3 -1-1.7 -1-1.2 -1 .6 -1 2 -1-1 -1 .6 -1 .4 -1 1 -1 1.4 -1 0 -1-.7 -1-.6 -1-1.6 -1 1 -1-.7 -1-2.4 -1-.1 -1-1.9 -1-.4 -1-.2 -1 .9 -1 1.1 -1-1 -1 0 -1 1.6 -1 1 -1 0 -1-1.2 -1 .1 -1 1.1 -1 .8 -1-1 -1-.6 -1 .6 -1 .3 -1 .8 -1-2.1 -1-2.7 -1 .3 -1 1.8 -1-2.9 -1-2.6 -1 2.4 -1 3.7 -1 1.5 -1 3.9 -1 1.8 -1-.9 -1 .1 -1-.1 -1-1.3 -1-2.7 -1 2.2 -1 1.3 -1-.9 -1-1.8 -1-.7 -1 .7 -1 0 -1 .9 -1-1 -1 .5 -1 .7 -1 .2 -1 1.7 -1 .8 -1-1.9 -1-2.4 -1 .3 -1 1.5 -1 3.9 -1-2.7 -1-3.9 -1-3.4 -1-2.2 -1 1.7 -1 .9 -1-1.4 -1 .6 -1-.6 -1 .5 -1 .7 -1 .3 -1 .2 -1 2.4 -1 2.1 -1-1.5 -1-5 -1-1.4 -1-1.6 -1-1.6 -1 2.9 -1 2.8 -1-1.9 -1-5.8 -1-4.4 -1 3.1 -1 5.8 -1 2.8 -1-3.7 -1-4.2 -1 .2 -1 .3 -1-1.3 -1-1.8 -1-.2 -1-.7 -1 .1 -1-1.7 -1-2.9 -1-2.3 -1-3.9 -1-.3 -1 5.8 -1 1.1 -1-1.5 -1-.3 -1-.9 -1-2.3 -1-1.4 -1 .2 -1 3.2 -1 4.9 -1-3.2 -1-5.7 -1-2.6 -1 .5 -1 1.7 -1-1.3 -1-.2 -1 2.9 -1-1 -1-3.5 -1-1.8 -1 .3 -1 1 -.5 .4 -.5 .5 -.5-.9 -.5-.8 -.5-1.4 -.5-1.3 -.5-.8 -.5-.8 -.5-.1 -.5-.1 -.5 .3 -.5 .4 -.5-.3 -.5-.2 -.5-.4 -.5-.4 -.5-.1 -.5 0 -.5-.7 -.5-.7 -.5-1.5 -.5-1.5 -.5-1.3 -.5-1.4 -.5-1 -.5-1 -.5-1.4 -.5-1.3 -.5 .1 -.5 .2 -.5 1.4 -.5 1.4 -.5 0 -.5 0 -.5-1.4 -.5-1.4 -.5-1.7 -.5-1.6 -.5-1.2 -.5-1.1 -.5-.8 -.5-1 -.5-.9 -.5-1 -.5-.5 -.5-.7 -.5-.5 -.5-.7 -.5-1.3 -.5-1.4 -.5-1.4 -.5-1.4 -.5-1.4 -.5-1.5 -.5-1.5 -.5-1.5 -.5-2.3 -.5-2.4 -.5-1.7 -.5-1.9 -.5-2.5 -.5-2.7 -.5-2.3 -.5-2.3 -.5-2.6 -.5-2.5 -.5-2.7 -.5-2.7 -.5-2.6 -.5-2.6 -.5-2.6 -.5-2.6 -.5-2.3 -.5-2.3 -.5-2.6 -.5-2.6 -.5-2.6 -.5-2.7 -.5-2.6 -.5-2.7 -.5-2.6 -.5-2.5 -.5-2.8 -.5-2.7 -.5-2.7 -.5-2.7 -.5-2.7 -.5-2.9 -.5-3.3 -.5-3.3 -.5-3.5 -.5-3.6 -.5-3.8 -.5-4 -.5-4.2 -.5-4.4 -.5-4 -.5-4.3 -.5-4.7 -.5-5 -.5-5.4 -.5-5.7 -.5-6 -.5-6.4 -.5-6.6 -.5-7 -.5-7.2 -.5-7.7 -.5-8.9 -.5-10.2 -.5-10.9 -.5-11.5 -.5-11.6 -.5-11.7 -.5-12.3 -.5-12.9 -.5-13.4 -.5-13.8 -.5-14.6 -.5-15.2 -.5-15.5 -.5-15.3 -.5-15 -.5-15 -.5-15.6 -.5-16.6 -.5-17.3 -.5-17.9 -.5-18.6Z" fill="#3A93AE" stroke="#3A93AE" stroke-width="3.6" stroke-linejoin="round"/>
<path d="M205.5 106.2l.5 18.8 .5 17.9 .5 17.4 .5 16.5 .5 15.5 .5 15 .5 14.9 .5 15.4 .5 15.7 .5 15.4 .5 14.7 .5 13.9 .5 13.5 .5 12.9 .5 12.3 .5 11.7 .5 11.4 .5 11.3 .5 10.8 .5 10 .5 8.9 .5 7.7 .5 7.3 .5 7 .5 6.8 .5 6.5 .5 6.1 .5 5.8 .5 5.5 .5 5.2 .5 4.8 .5 4.4 .5 4.1 .5 4.3 .5 4.1 .5 3.9 .5 3.7 .5 3.6 .5 3.4 .5 3.2 .5 3.2 .5 2.9 .5 2.7 .5 2.7 .5 2.5 .5 2.6 .5 2.5 .5 2.4 .5 2.4 .5 2.4 .5 2.4 .5 2.5 .5 2.5 .5 2.3 .5 2.3 .5 2 .5 2.1 .5 2.4 .5 2.4 .5 2.8 .5 2.8 .5 2.6 .5 2.7 .5 2.5 .5 2.4 .5 2.3 .5 2.2 .5 2.3 .5 2.3 .5 1.6 .5 1.6 .5 1.8 .5 1.7 .5 1.5 .5 1.5 .5 1.1 .5 1.1 .5 1.8 .5 1.7 .5 2 .5 1.9 .5 .9 .5 .9 .5 .7 .5 .7 .5 .7 .5 .6 .5 .2 .5 .1 .5 .4 .5 .3 .5 .8 .5 .8 .5 1.1 .5 1.1 .5 .8 .5 .8 .5 0 .5 0 .5 .1 .5 .1 .5 1.3 .5 1.2 .5 .8 .5 .8 .5 .7 .5 .7 .5 .9 .5 .9 .5 .8 .5 .9 .5 .5 .5 .5 .5 0 .5-.1 .5-.3 .5-.4 .5-.1 .5-.2 .5 .6 .5 .6 .5 .5 .5 .4 .5 1.1 .5 1 .5-.2 .5-.2 .5 .5 .5 .5 1 1.9 1-1 1 .4 1 3.2 1 1.9 1-2.1 1-1.1 1-.4 1-.5 1 .1 1 3.4 1 6.6 1 3.4 1-6.1 1-3.8 1-.4 1-1.5 1 1 1 1.9 1 1.5 1 2.8 1-1.7 1-7.3 1-1.1 1 5.1 1 4.4 1 3 1 1.5 1 1.3 1 .4 1-.4 1 1.8 1 .9 1-.9 1-1.1 1 2.8 1 3.7 1-.7 1-5.1 1-3.5 1 2.4 1 1.7 1 1.5 1-1.1 1-1 1 .5 1 0 1 2 1 4.1 1 1.1 1-3 1-.1 1 2.7 1-.1 1 0 1 .6 1 .2 1 .1 1-.9 1-1.5 1-2.2 1-.6 1 5.6 1 5.5 1 1.4 1-.8 1-2.5 1-1.3 1 3.4 1 2.5 1-.4 1-1.3 1-.1 1-1.4 1-1.6 1-1 1-2.1 1-1.6 1 1 1 2.3 1 2.3 1 1.2 1-1.3 1 1.4 1 .5 1-.1 1 .9 1 1 1 .2 1-2.1 1-2.5 1-1 1-1.7 1-1.6 1-.3 1 1.3 1-2.4 1-2.1 1 2.2 1 3.8 1-.1 1-1.7 1-.8 1 2.4 1 2.6 1-.7 1 .1 1 1.7 1-1.2 1-3.1 1-.3 1 .3 1-.3 1-.4 1-1.9 1-1.5 1-.3 1 2.4 1 3.5 1-.1 1 1.5 1-1.2 1-3.3 1-.7 1-.3 1 1.1 1 2.5 1 .1 1 0 1 .4 1 .7 1 .2 1-1.4 1-.6 1 1 1-.5 1 2.4 1 1.9 1-.7 1-1.2 1-1.2 1-.1 1 2.6 1 3 1 .2 1-1.5 1-1.2 1-.5 1 2.3 1 0 1-3.6 1 0 1 1.7 1 1 1-1.3 1-1.8 1 2.3 1 2.6 1-.4 1-1.5 1 .2 1 2.1 1 2.2 1 .3 1-3.3 1-7.3 1-6.5 1 3.9 1 8.6 1 6.1 1 1.7 1 .2 1-1.2 1-2.6 1-2.4 1-3 1-2.9 1 4.3 1 5.2 1 .1 1 .3 1-1.9 1-2 1-.1 1 5.6 1 5 1 .3 1-.5 1 1.5 1 .8 1-1.2 1-1.3 1-3 1-1.5 1-2 1 1.4 1 3.4 1 1.1 1-2.7 1-2.1 1 .9 1-.9 1 2.5 1 3.8 1 1.7 1 1.5 1-1.7 1-.2 1 4.3 1 2 1-1 1-2 1 0 1-.1 1-1.5 1-1.4 1-1 1-.7 1 1.2 1 1.8 1 1.4 1 1.7 1 .8 1 1.4 1 2.8 1 .1 1 1.2 1-2.4 1-3 1-.4 1 .8 1-.5 1 .5 1 2.9 1 2.2 1 3.9 1 2.6 1-10 1-2.3 1 2 1-.5 1-.8 1 1.6 1 3.4 1 .4 1-2 1-.8 1 2.2 1 3.4 1 .1 1-1.1 1-2.9 1-1.5 1-.2 1 1.8 1 .5 1-2.1 1-.9 1 3.1 1 5.1 1 .9 1-3.7 1-2.6 1 .1 1 2.3 1 2.6 1 .9 1-2.8 1-2.5 1-.4 1-1.4 1 3 1 2 1 .2 1 4.1 1 3.1 1-6.1 1-.3 1-1.5 1-2.3 1 1.6 1 1.4 1-2.4 1 3.8 1 9.4 1 4.6 1-2.3 1-3.2 1-1.6 1-.4 1-1.5 1-.6 1-1.7 1-1.8 1 .8 1 3.6 1 3.3 1 .7 1-1.2 1-1.1 1 .6 1 .2 1-2.5 1-1.9 1-2 1-2 1 2 1 3.1 1 2.1 1 1.3 1-1.2 1-2.3 1 2.7 1 2.4 1-1.6 1-.2 1 2.9 1 0 1 2.1 1 1.8 1-1.8 1-4.4 1 .1 1-.3 1-.1 1 .2 1 1.9 1 2.4 1-2.6 1-2.4 1 1.7 1 4.6 1-.5 1-4.3 1-1.1 1 .3 1 1.7 1 2.4 1-2.4 1-2.5 1-1.6 1-2.3 1-1 1-.8 1 .6 1 7 1 9.3 1 7.2 1-.1 1-6.2 1-6.6 1-5.4 1-.9 1 1.2 1 6.1 1 6.6 1-2.8 1-2.8 1-1.1 1 .6 1 .2 1-.9 1-1.1 1-.2 1 0 1-1.2 1-1.2 1 .5 1 1.6 1 .9 1-.1 1-.8 1 .7 1 3.3 1 2.3 1-1.7 1-.6 1 5.7 1 4.3 1 3.4 1 .6 1-2.8 1-6.2 1-2.1 1 2.1 1 .4 1 2.2 1-4.7 1-2.8 1 1.1 1-.1 1 .5 1 3.5 1 2.5 1-.2 1-2.5 1-.3 1 1.5 1 3.3 1 1.2 1-.8 1-1 1-2.5 1 .3 1 3.1 1 4.3 1 1.2 1-1.3 1-2.1 1-1.3 1 3.2 1-.4 1 .4 1-.4 1-.7 1-.3 1 1.9 1 6.9 1 4.8 1-1.8 1-6.5 1-5.4 1-.7 1 .7 1 1.3 1 1.7 1 1.8 1 3.3 1 1.6 1-2.4 1-1.3 1-1.1 1-.1 1-.8 1-1.2 1 3.1 1 5.7 1 2.3 1-1.2 1 1.9 1 .9 1-7.1 1-8.5 1-2.9 1 2 1 3.2 1 .2 1 .5 1 2.3 1-.7 1-1.5 1-1 1-1.5 1-1.5 1 1 1 6.1 1 3.4 1-.9 1-2.2 1 2.2 1 4.5 1 4.7 1 1.8 1-3.7 1-3.6 1-2.1 1 1.7 1-2.7 1-2.5 1 .1 1 2.9 1 2.2 1-1.6 1-4.3 1-1.8 1 5.4 1 1.7 1 0 1-1.8 1-2.6 1-.2 1 2.6 1 1.2 1-.2 1 .4 1 .6 1 1.6 1-.2 1 .4 1 1.8 1 2.2 1 2 1-2 1-2.7 1 1.5 1 1.1 1-1.8 1-2.5 1-6.7 1 0 1 4.1 1 .8 1 .2 1-.6 1-.8 1 0 1 2.7 1 3.9 1 .3 1-1.6 1 .9 1 1.2 1-.6 1-3.8 1-4.1 1 .5 1 4.3 1 3.9 1 .9 1 2.2 1 1.7 1-1.5 1-3 1 0 1-1.5 1-.4 1 .9 1-.4 1-1.5 1 1.8 1 1.6 1-4.4 1 0 1 3 1 1.3 1 .7 1 2.5 1-.9 1-3.8 1-3.3 1-1.7 1 2.2 1-.4 1-3.6 1-.1 1 .2 1 .1 1-.2 1-1 1 5.1 1 10.3 1 1.5 1-.7 1-.3 1-1.4 1-2.7 1-2 1 1.3 1 3.2 1 .9 1-2.8 1-2.2 1-3.2 1-1.7 1-.4 1-5 1-1 1 1.1 1 2.1 1 6.1 1 2.5 1-1.5 1-1.6 1-5.7 1 3.7 1 13.9 1 10.7 1-.7 1-10.5 1-10.5 1-5.9 1-3.7 1-2.2 1 .8 1 .2 1 2.2 1 6.8 1 3.4 1 .6 1-1.9 1-.1 1 4.7 1 4.5 1-.9 1-5 1-3.8 1-2.6 1-1.2 1 1 1 .4 1-4 1-2.3 1 1.9 1-1 1 .7 1 2.6 1 4.4 1 5.3 1 3.1 1 .6 1-1.3 1-3 1-3.5 1-2.9 1-3 1-1 1 1.4 1 3.8 1 2.7 1-.7 1-1.6 1 1.5 1 1.9 1-1.3 1-5.5 1-1.9 1 3.8 1 2.6 1-3.5 1-.8 1 3.2 1 2.6 1-.6 1-2 1-.8 1 3.1 1 1.7 1-1.9 1 .6 1 2.5 1-1 1-3.5 1-3.3 1-1 1 1.8 1 1.6 1-1.5 1-2.2 1 1 1 2.7 1 9 1 2 1-7.7 1-4.4 1 2 1 2.2 1 3.3 1 1.2 1-4.1 1-5 1-2.1 1 1.7 1 1.3 1-3.1 1-6.3 1-.4 1 6.6 1 5.1 1 4.4 1 1.7 1-3.1 1-2 1 .2 1-2.2 1-1.3 1 2.1 1 1.3 1 .4 1 2.2 1 .4 1-.7 1-2.7 1-1.5 1 0 1-2.4 1-4.6 1-1.3 1 3 1-.7 1-3.3 1 1.3 1 2.3 1 .3 1 .8 1 2.1 1 .1 1 1.5 1 .3 1-1.3 1 1.1 1 .3 1 2 1 6.3 1 3.1 1-3.5 1-5.1 1-5 1-1.5 1 2.5 1-.5 1 .8 1 .2 1 .9 1 1.2 1-1.8 1-2.2 1 .9 1 1.8 1 .9 1-1.5 1-3.8 1-5.1 1 .6 1 6.1 1 .1 1-3.4 1-1.4 1 .6 1 .5 1-2.9 1-.7 1 .2 1-.1 1-.7 1 .9 1 4.6 1 5.1 1 1.1 1-2.6 1-4 1-4.5 1-2.8 1-1.2 1-.6 1 2.8 1 4.3 1 1.2 1 .9 1 1.2 1-2.1 1-1.6 1 1 1 2 1 4.4 1 1.3 1-2.8 1-3.7 1-1.7 1-2.1 1 1.6 1 3.5 1-.3 1-.3 1 1.6 1 1.1 1-.9 1 .1 1 .2 1-2.3 1-1.6 1 2.3 1 1.8 1 0 1 1.5 1-.9 1-3.6 1 1 1 3 1 .5 1 1.9 1 6.4 1 3.8 1-6.5 1-4.5 1 1.9 1 4.1 1-1.2 1-3 1-3 1-.7 1 .6 1-1.1 1-1.5 1-1.2 1-.6 1-.6 1-1.3 1-1.4 1 1.2 1 3.6 1 3.4 1-2.2 1-1.1 1 1 1 .7 1 2.1 1 .6 1-.6 1 .3 1 .9 1-2.2 1-6.1 1-.6 1 2.1 1 1.2 1-.5 1-2 1 4.1 1 5.3 1 3.9 1 2.4 1-.1 1-4.6 1-4.9 1-.1 1 2 1 1.6 1-.5 1-4.7 1-4.9 1-2.6 1 2.7 1 3.5 1-.8 1 .3 1 2.7 1-2.6 1-2.2 1 2.3 1 4.3 1 2.6 1 .1 1-.7 1 .6 1 1.5 1-.3 1-2.9 1-5.6 1-2.1 1 .1 1 1.4 1 3.1 1 1.6 1-1.9 1-3.8 1-2 1 .6 1 1.7 1 2.6 1 3.2 1 1.3 1-1.6 1-1.2 1-.1 1-3.2 1-5 1 1.6 1 1.7 1-1.8 1 1.8 1 5.7 1 4.7 1-1L1143 741.6l-1-.2 -1-6.3 -1-7.2 -1 .5 -1 2.5 -1 .3 -1-.1 -1 3 -1-.4 -1-1.6 -1 .7 -1 1.7 -1-.2 -1-3.2 -1-1.4 -1 .6 -1-.3 -1 1.4 -1 4.5 -1 2.9 -1 .3 -1-4.2 -1-6.2 -1 .1 -1 3.2 -1 5.3 -1 3.4 -1-.4 -1-.6 -1-1.2 -1 0 -1 .8 -1-1 -1-3 -1-3 -1 1.5 -1 2.7 -1-3.1 -1-.1 -1 2.3 -1-1.5 -1-4.1 -1-.4 -1 3.9 -1 3.5 -1 2.4 -1-1.7 -1-4.9 -1 1.3 -1 6.9 -1 5.7 -1-1.3 -1-4.2 -1-2.5 -1-4.9 -1-4.5 -1 1.7 -1 .5 -1-1.3 -1-2.1 -1 2.9 -1 3.9 -1 4.5 -1-.1 -1-1.3 -1-1.7 -1-1.7 -1-3.4 -1 0 -1 3.6 -1 4.3 -1 .8 -1-.4 -1-3 -1-3.4 -1-.7 -1 .6 -1-.1 -1-2.3 -1 1.4 -1 2.6 -1 .2 -1-2.2 -1 .1 -1 4 -1 3.5 -1-.5 -1-2.3 -1 .2 -1 4.6 -1 6.9 -1-2.3 -1-8.4 -1-4.9 -1-.8 -1-.4 -1 .2 -1 .9 -1 1.2 -1 .9 -1 .9 -1-2 -1-5.3 -1 1.7 -1 5.9 -1 .8 -1-3.3 -1 .5 -1-.3 -1-1.9 -1 .9 -1-.6 -1-3.2 -1-4.4 -1-.4 -1 3 -1 5.7 -1 5.1 -1-.4 -1-4.3 -1-2.1 -1 1 -1 1.1 -1-1.4 -1-2.9 -1-1.5 -1-1.5 -1-4 -1-2.1 -1 2.3 -1 2.6 -1 3.6 -1 3.2 -1 1.3 -1 .8 -1 .2 -1-4.2 -1-5.5 -1-2.3 -1 3.5 -1-.4 -1-.7 -1 1.7 -1 2.6 -1 0 -1-.7 -1-.5 -1 2.6 -1 1.2 -1-2.2 -1 .1 -1 1.7 -1 1 -1 3.3 -1-.9 -1-5 -1 1.2 -1 1.5 -1 2.3 -1-.8 -1 .2 -1-.4 -1-2 -1-.9 -1 1.1 -1 1.8 -1 6.4 -1 3.2 -1 3.2 -1-2.9 -1-6.3 -1-1.9 -1-.1 -1-.7 -1 .4 -1 .8 -1-.2 -1-2 -1-2.2 -1-2.3 -1-.7 -1-1.3 -1-.3 -1 5.7 -1 2.7 -1-3.7 -1 .5 -1 4.4 -1 2.3 -1 1.4 -1 .6 -1 .2 -1-1.4 -1-.3 -1-2.3 -1 3.6 -1 1.1 -1-2.2 -1-.4 -1-1 -1 .9 -1 3.6 -1 1.8 -1-2 -1-4 -1-6.9 -1-3.6 -1 1.6 -1 4.3 -1 3 -1-1.1 -1-.7 -1 3.4 -1 5.2 -1 1.9 -1-.9 -1-2.5 -1-3.3 -1-2.1 -1 3.9 -1 7.3 -1-3.5 -1-10.5 -1-3.6 -1 .3 -1 .6 -1 4.2 -1 2.6 -1 .7 -1 .4 -1 2.2 -1 2.3 -1 2.1 -1-2.7 -1-3.9 -1-1.6 -1-.9 -1-1.2 -1 1.5 -1 1.7 -1-.4 -1-3.1 -1-.9 -1-.6 -1 3.5 -1-.4 -1-4.9 -1 .5 -1 5.9 -1 .9 -1-3.1 -1-1.4 -1 .8 -1 2.5 -1 0 -1-4.1 -1-2.6 -1 1.7 -1 2.1 -1 2.6 -1 5.9 -1 3 -1 .7 -1-.2 -1-4.7 -1-7.7 -1-3.5 -1 .8 -1 1.2 -1 .5 -1-.8 -1 1.2 -1 .6 -1-2.8 -1 1.8 -1 1.8 -1 2 -1 3.9 -1 6.7 -1 4.4 -1-6.6 -1-6.1 -1 0 -1-.5 -1-2.1 -1-5.5 -1-4.8 -1-.4 -1 1.1 -1 2.2 -1 9.9 -1 30.9 -1 26.5 -1 7.3 -1 1 -1-1.8 -1-13.2 -1-32.1 -1-23.3 -1 1.5 -1 2.5 -1 .1 -1-3.2 -1-4.9 -1-3.1 -1-2.2 -1 3.1 -1 3.9 -1 1.5 -1 1.1 -1 3 -1 2.6 -1 4.8 -1 0 -1-6.1 -1-2.5 -1 1.1 -1 1.6 -1 1.7 -1 1.7 -1 .8 -1-2 -1-9.1 -1-5.9 -1 .4 -1 3.8 -1 1.4 -1-2.4 -1 1.3 -1 1.2 -1-1.9 -1-.4 -1 2.6 -1 2.7 -1 2.4 -1-1.6 -1-1 -1 .7 -1-.3 -1-1.7 -1 1.4 -1 2.7 -1-1.3 -1-1.9 -1 .7 -1-.8 -1 .4 -1 3.4 -1 1.6 -1-2.4 -1-1.2 -1 .4 -1-1.6 -1-.9 -1-1.4 -1-2.7 -1-.9 -1 1.2 -1 6.4 -1 5.2 -1-.8 -1-2.6 -1-1.6 -1-.7 -1-1.1 -1-1.4 -1-3.3 -1-3.2 -1-.8 -1-.3 -1 2.1 -1 .6 -1-3.3 -1 .4 -1 6.3 -1 3.3 -1-.6 -1-1.4 -1-1.2 -1 2 -1 .9 -1-1 -1-2.3 -1-1.7 -1 .3 -1-.3 -1 1.5 -1-.8 -1-.9 -1 2.6 -1-2.2 -1-5.9 -1 3.2 -1 5 -1 1.4 -1-3.8 -1-4.6 -1-2.9 -1 .8 -1 2.3 -1 4 -1 1.1 -1-.8 -1-1.4 -1-.8 -1-.5 -1 .3 -1 1.9 -1 3.6 -1 1.1 -1 .7 -1-3 -1-5.2 -1-1.1 -1 1.8 -1 .3 -1-3.8 -1-5.6 -1-.9 -1 1.5 -1 .8 -1 .2 -1 .2 -1 1.1 -1 .8 -1 1.4 -1-.5 -1-5.3 -1-3.9 -1 1.3 -1 8.5 -1 5.8 -1 1.5 -1-.8 -1 .4 -1-2.8 -1-7.8 -1-3.6 -1 1.6 -1 .8 -1 0 -1 3.9 -1 4.3 -1 2.3 -1-2.4 -1-3.6 -1-4.6 -1-2.9 -1-.1 -1 2.2 -1 2.2 -1 1.6 -1 3 -1 4.7 -1-3.1 -1-6.8 -1-3.5 -1-1 -1 .7 -1 .7 -1-.8 -1-1.2 -1-.7 -1 .3 -1 3.2 -1 2.8 -1 2 -1-3.3 -1-4.4 -1 .7 -1 2.2 -1 2.8 -1 .6 -1-3.8 -1-4.7 -1-2.8 -1-.4 -1 1 -1 1.2 -1-1.4 -1-3.6 -1-2.2 -1 1.1 -1 1.2 -1 2.7 -1 2.4 -1-3.7 -1-.4 -1-1.4 -1 2.4 -1 5.7 -1 2.5 -1-.4 -1-1.1 -1-6.8 -1-3.9 -1 .2 -1 2.5 -1-1.7 -1-3 -1-.6 -1 .5 -1 .9 -1 .7 -1-.1 -1-.5 -1-.1 -1 .6 -1-.4 -1-.7 -1-.7 -1-.8 -1 2.3 -1 1.2 -1-.1 -1 3.4 -1 .3 -1-6.6 -1-5.6 -1 .8 -1 1.5 -1 5.9 -1 6.9 -1 3.7 -1 1.2 -1-4.5 -1-7.6 -1-7.1 -1 .3 -1 1.5 -1-.7 -1 .2 -1 .1 -1 .7 -1 1.9 -1 2.4 -1-.5 -1-3.5 -1-.4 -1 3.5 -1 .5 -1-2.1 -1-1.9 -1 2.2 -1 3.1 -1-2.8 -1-4.9 -1-.8 -1 .5 -1 1.7 -1 .6 -1 2.4 -1 1.8 -1-.1 -1-1 -1-1.5 -1-1.3 -1-1.3 -1-2 -1-1.1 -1-.9 -1 2.2 -1 1.2 -1-3.1 -1-4 -1-.2 -1 1.3 -1 1.9 -1 4.1 -1-1.1 -1-2.8 -1-.2 -1 2.9 -1 1.6 -1-.2 -1-1 -1-2.4 -1-2.8 -1 .4 -1 2.9 -1 .6 -1-1.6 -1 .1 -1 .5 -1 1.9 -1 4.2 -1 4.7 -1-3.5 -1-10.1 -1-6.3 -1-1.1 -1 1.3 -1-.2 -1 2.2 -1 .4 -1 2.2 -1 6 -1-2.4 -1-1.4 -1 2 -1 .6 -1-1.4 -1-2.2 -1 2.4 -1-.3 -1-4.4 -1 1.9 -1 3.6 -1 .8 -1-1.6 -1-1.2 -1-1.4 -1-3.3 -1-3.6 -1-1.5 -1 .7 -1 .7 -1-.5 -1-1.7 -1 .7 -1 1.7 -1 .9 -1 3.1 -1 .2 -1-2.2 -1-2 -1-3 -1 2.5 -1-.3 -1-.2 -1 1.3 -1-1.6 -1-3 -1-1 -1 2 -1 8.1 -1-.7 -1-2.1 -1-2.8 -1-5 -1-1 -1 1.2 -1-1.6 -1 1.3 -1 1.5 -1 .5 -1 1.8 -1-2.1 -1-2.3 -1-.2 -1 1.3 -1-.9 -1-3.1 -1-1.7 -1-1.5 -1 2.6 -1 2.5 -1-.7 -1-.4 -1-.6 -1 .1 -1 2 -1 .9 -1-3.4 -1-4.4 -1-.3 -1 1.9 -1-.1 -1-2.3 -1-4.7 -1-1.5 -1 .9 -1 1.6 -1 3.2 -1 3.9 -1-.5 -1-2.1 -1-1.5 -1 .4 -1 1.9 -1 1.6 -1 .8 -1 1 -1 1.3 -1-.9 -1-1.7 -1-1.5 -1-3.3 -1-4.5 -1 .1 -1 .2 -1-.2 -1-.5 -1-.9 -1-4.6 -1-4.9 -1 2.4 -1 2.9 -1 1.8 -1 3 -1 2.5 -1 .8 -1-2.2 -1-6.9 -1-5.6 -1-4.1 -1 4 -1 5.5 -1 4.4 -1 1.3 -1-1.4 -1-2.7 -1-3.3 -1 2.4 -1 2.6 -1-.7 -1-2.5 -1 1.5 -1-.1 -1 0 -1-4.8 -1-1 -1 5.8 -1 .7 -1-.8 -1-.3 -1-.4 -1 1.4 -1 1.5 -1-1.6 -1-2.3 -1-.7 -1-.4 -1-.1 -1 1.2 -1-.8 -1-1.4 -1-1.5 -1-.9 -1 .9 -1 2.1 -1-.7 -1 .7 -1 .2 -1 .2 -1 .4 -1-1 -1-1 -1-.5 -1-1.3 -1 1.3 -1-.5 -1-2.4 -1-.4 -1-2.3 -1-.6 -1 .2 -1 1.7 -1 2 -1-.4 -1 .4 -1 1.8 -1 1.2 -1 .1 -1-1.5 -1-.5 -1 .5 -1 .6 -1-.7 -1-.3 -1 .6 -1-.2 -1 .2 -1-2.7 -1-2.7 -1 .7 -1 2.5 -1-2.1 -1-2 -1 2.7 -1 3.6 -1 1.2 -1 3.6 -1 1.8 -1-.6 -1 .5 -1 .2 -1-1.2 -1-2.9 -1 1.9 -1 .6 -1-1.6 -1-2.5 -1-1.2 -1 .2 -1-.1 -1 1.1 -1-.4 -1 1.2 -1 1.2 -1 .6 -1 1.7 -1 .8 -1-2 -1-2.5 -1 .2 -1 1.5 -1 4 -1-2.3 -1-3.5 -1-3 -1-1.9 -1 1.5 -1 .6 -1-1.7 -1 .4 -1-.9 -1-.2 -1 0 -1-.2 -1 .1 -1 2.7 -1 2.7 -1-.9 -1-4.5 -1-1.2 -1-1.6 -1-1.7 -1 2.7 -1 2.9 -1-1.8 -1-5.4 -1-3.8 -1 3.5 -1 6.2 -1 3.1 -1-3.7 -1-4.5 -1-.4 -1-.1 -1-1.5 -1-1.8 -1-.1 -1-.4 -1 .2 -1-1.8 -1-3.2 -1-2.7 -1-4 -1-.1 -1 5.9 -1 1.3 -1-1.6 -1-.5 -1-1 -1-2.3 -1-1.2 -1 .9 -1 4 -1 5.4 -1-3.2 -1-6.3 -1-3.7 -1-.5 -1 1 -1-1.3 -1 .2 -1 3.4 -1-.6 -1-3 -1-1.4 -1 .4 -1 1 -.5 .3 -.5 .3 -.5-1 -.5-1 -.5-1.6 -.5-1.6 -.5-1 -.5-1.1 -.5-.4 -.5-.3 -.5 .2 -.5 .1 -.5-.2 -.5-.3 -.5-.2 -.5-.3 -.5 .3 -.5 .1 -.5-.4 -.5-.4 -.5-1.3 -.5-1.3 -.5-1.2 -.5-1.1 -.5-1 -.5-1 -.5-1.5 -.5-1.4 -.5 0 -.5-.1 -.5 1.3 -.5 1.2 -.5-.1 -.5-.1 -.5-1.6 -.5-1.4 -.5-1.7 -.5-1.6 -.5-1.1 -.5-1.2 -.5-.9 -.5-.9 -.5-1 -.5-1.1 -.5-.6 -.5-.8 -.5-.6 -.5-.6 -.5-1.5 -.5-1.4 -.5-1.4 -.5-1.4 -.5-1.4 -.5-1.4 -.5-1.4 -.5-1.4 -.5-2.1 -.5-2.2 -.5-1.6 -.5-1.6 -.5-2.5 -.5-2.6 -.5-2.3 -.5-2.3 -.5-2.6 -.5-2.6 -.5-2.9 -.5-2.8 -.5-2.7 -.5-2.7 -.5-2.6 -.5-2.6 -.5-2.3 -.5-2.3 -.5-2.4 -.5-2.5 -.5-2.5 -.5-2.6 -.5-2.6 -.5-2.6 -.5-2.6 -.5-2.6 -.5-2.7 -.5-2.8 -.5-2.7 -.5-2.8 -.5-2.8 -.5-3 -.5-3.2 -.5-3.5 -.5-3.5 -.5-3.7 -.5-3.8 -.5-4.1 -.5-4.2 -.5-4.4 -.5-4.1 -.5-4.4 -.5-4.8 -.5-5.2 -.5-5.5 -.5-5.8 -.5-6.1 -.5-6.5 -.5-6.8 -.5-7 -.5-7.3 -.5-7.7 -.5-8.9 -.5-10 -.5-10.8 -.5-11.3 -.5-11.4 -.5-11.7 -.5-12.3 -.5-12.9 -.5-13.5 -.5-13.9 -.5-14.7 -.5-15.4 -.5-15.7 -.5-15.4 -.5-14.9 -.5-15 -.5-15.5 -.5-16.5 -.5-17.4 -.5-17.9 -.5-18.8Z" fill="#DA7F36" stroke="#DA7F36" stroke-width="3.6" stroke-linejoin="round"/>
<path d="M205.5 98.6l.5 19 .5 18.2 .5 17.4 .5 16.4 .5 15.3 .5 14.8 .5 14.9 .5 15.6 .5 16.1 .5 15.8 .5 14.9 .5 14.1 .5 13.6 .5 13 .5 12.2 .5 11.6 .5 11.2 .5 10.9 .5 10.4 .5 9.7 .5 8.7 .5 7.9 .5 7.4 .5 7.3 .5 6.9 .5 6.8 .5 6.4 .5 6.1 .5 5.7 .5 5.4 .5 5 .5 4.6 .5 4.2 .5 4.1 .5 3.9 .5 3.7 .5 3.5 .5 3.4 .5 3.2 .5 3.1 .5 3.1 .5 2.7 .5 2.7 .5 2.5 .5 2.5 .5 2.5 .5 2.4 .5 2.3 .5 2.3 .5 2.3 .5 2.4 .5 2.3 .5 2.4 .5 2.2 .5 2.1 .5 1.9 .5 1.9 .5 2.2 .5 2.2 .5 2.5 .5 2.5 .5 2.4 .5 2.4 .5 2.1 .5 2.1 .5 2 .5 1.9 .5 2.2 .5 2.1 .5 1.9 .5 1.8 .5 2 .5 2 .5 1.7 .5 1.7 .5 1.3 .5 1.2 .5 1.9 .5 1.8 .5 2 .5 1.9 .5 1 .5 .9 .5 .7 .5 .7 .5 .7 .5 .7 .5 .3 .5 .2 .5 .5 .5 .5 .5 1 .5 1 .5 1.3 .5 1.3 .5 .8 .5 .9 .5 0 .5 0 .5 .1 .5 0 .5 1.2 .5 1.2 .5 .8 .5 .7 .5 .9 .5 .8 .5 1.1 .5 1.2 .5 1.3 .5 1.2 .5 .9 .5 .8 .5 .3 .5 .2 .5 0 .5-.1 .5 .1 .5 0 .5 .9 .5 .8 .5 .5 .5 .6 .5 1 .5 1 .5-.3 .5-.3 .5 .3 .5 .3 1 1.9 1-.7 1 .8 1 3.5 1 2.3 1-1.8 1-.9 1-.5 1-1.1 1-.8 1 2.5 1 6.2 1 3.7 1-5.6 1-3.2 1-.2 1-1.7 1 .6 1 1.7 1 1.6 1 3.1 1-1.5 1-7.1 1-.8 1 5.4 1 4.6 1 3.1 1 1.6 1 1.3 1 .3 1-.6 1 1.5 1 .7 1-1.3 1-1.2 1 2.9 1 4.1 1-.4 1-5 1-3.7 1 2.1 1 1.5 1 1.3 1-1.3 1-1.3 1 .3 1-.1 1 2.3 1 4.5 1 1.6 1-2.6 1-.1 1 2.4 1-.6 1-.5 1 .2 1 0 1 .2 1-.8 1-1.4 1-2.1 1-.6 1 5.8 1 5.6 1 1.3 1-1.1 1-3 1-1.9 1 2.8 1 2.2 1-.3 1-1.1 1 .4 1-.7 1-1 1-.6 1-2 1-1.7 1 .6 1 2 1 2 1 1 1-1.7 1 .9 1 0 1-.5 1 1 1 1.4 1 .8 1-1.6 1-2.4 1-1 1-1.7 1-1.4 1 .5 1 2.2 1-1.5 1-1.8 1 2 1 3.2 1-.9 1-2.5 1-1.2 1 2.1 1 2.3 1-1.1 1-.1 1 1.6 1-1 1-2.9 1-.3 1 0 1-.2 1-.1 1-1.3 1-1 1-.2 1 2.2 1 3.4 1 .1 1 2.1 1-.8 1-3.4 1-1.2 1-.9 1 .3 1 2 1-.2 1 0 1 .6 1 1 1 .4 1-1.2 1-.6 1 .8 1-.8 1 2.2 1 1.4 1-1.3 1-1.2 1-.8 1 .8 1 3.3 1 3.7 1 .5 1-1.5 1-1.6 1-1 1 1.8 1-.2 1-3.5 1 .3 1 1.6 1 .6 1-1.9 1-2.1 1 2.4 1 3 1 .2 1-1.1 1 .3 1 2.3 1 2.4 1 .4 1-3.1 1-7.3 1-6.8 1 3.3 1 7.8 1 5.6 1 1.4 1 .1 1-1.3 1-2.8 1-2.7 1-3 1-2.7 1 4.4 1 5.2 1-.1 1 .1 1-2 1-2.4 1-.4 1 5.3 1 4.8 1 .5 1-.3 1 1.8 1 1 1-1.1 1-1 1-2.8 1-1.6 1-2.2 1 1.1 1 3.4 1 1.4 1-2.1 1-1.5 1 1.3 1-.8 1 2.7 1 3.8 1 1.9 1 1.6 1-1.8 1-.4 1 4.1 1 2 1-.8 1-1.6 1 .2 1-.2 1-1.7 1-1.6 1-1.1 1-.8 1 1.1 1 1.9 1 1.5 1 2 1 .9 1 1.7 1 3.1 1 .2 1 1.4 1-2.3 1-2.8 1-.5 1 .6 1-.7 1 .4 1 2.9 1 2.2 1 4.1 1 2.9 1-9.6 1-1.9 1 2.2 1-.3 1-.7 1 1.5 1 3.1 1 0 1-2.2 1-.5 1 2.7 1 3.9 1 .3 1-1.5 1-3.6 1-2.1 1-.6 1 1.8 1 .8 1-1.9 1-.9 1 3.1 1 5.1 1 .7 1-3.9 1-3 1-.2 1 2.1 1 2.7 1 1.2 1-2.3 1-2 1 0 1-1.2 1 2.9 1 1.8 1 0 1 4.1 1 3 1-6.5 1-.6 1-1.8 1-2.4 1 1.6 1 1.2 1-2.9 1 3.4 1 9.2 1 4.9 1-1.7 1-2.5 1-1.1 1-.1 1-1.5 1-.7 1-1.8 1-2 1 .9 1 3.9 1 3.9 1 1.6 1-.7 1-1 1 .2 1-.4 1-2.7 1-1.8 1-1.7 1-1.7 1 2 1 3 1 1.8 1 1.1 1-1.4 1-2.5 1 2.4 1 2.1 1-1.7 1-.3 1 2.9 1-.2 1 2 1 1.7 1-1.9 1-4.4 1 .1 1-.3 1-.1 1 .3 1 2.3 1 2.9 1-2 1-1.9 1 1.8 1 4.4 1-1.1 1-5 1-1.6 1-.1 1 1.7 1 2.6 1-2.1 1-1.8 1-1 1-1.7 1-.7 1-.7 1 .5 1 6.6 1 9 1 7.1 1 .3 1-5.6 1-5.9 1-4.9 1-.8 1 1 1 5.6 1 6.3 1-2.9 1-2.8 1-.9 1 .6 1 .3 1-.7 1-.6 1 .2 1 .3 1-1 1-1.1 1 .6 1 1.5 1 .8 1-.2 1-.9 1 .8 1 3.4 1 2.2 1-1.9 1-1.1 1 5.2 1 3.9 1 3.1 1 .6 1-2.5 1-6 1-1.8 1 2.3 1 .6 1 2.3 1-4.4 1-2.7 1 1 1-.1 1 .5 1 3.7 1 2.5 1-.2 1-2.8 1-.4 1 1.6 1 3.7 1 1.6 1-.3 1-.7 1-2.2 1 .3 1 3.2 1 4.2 1 1.1 1-1.4 1-2.1 1-1.3 1 2.9 1-1 1-.2 1-1 1-.9 1-.3 1 1.9 1 6.9 1 4.9 1-1.6 1-6.5 1-5.5 1-1 1 .5 1 1.3 1 2 1 2.3 1 3.7 1 1.7 1-2.5 1-1.6 1-1.3 1-.3 1-.9 1-1.5 1 3 1 6 1 2.7 1-.9 1 1.8 1 .5 1-7.7 1-9 1-3.1 1 1.9 1 3.4 1 .5 1 .9 1 2.4 1-.7 1-1.9 1-1.3 1-1.6 1-1.2 1 1.6 1 6.9 1 4 1-.5 1-2.2 1 1.8 1 3.9 1 4.3 1 1.7 1-3.1 1-2.7 1-1.1 1 2.3 1-2.6 1-2.9 1-.4 1 2.5 1 2 1-1.7 1-4.3 1-1.8 1 5.5 1 1.8 1 .4 1-1.1 1-1.7 1 .5 1 2.9 1 1.2 1-.4 1-.1 1 .1 1 1 1-.7 1 .1 1 1.4 1 1.9 1 1.8 1-2.3 1-2.6 1 1.6 1 1.4 1-1.5 1-2.3 1-6.8 1-.3 1 3.8 1 .7 1 .2 1-.4 1-.6 1 .2 1 2.7 1 3.7 1 0 1-1.8 1 1 1 1.6 1-.2 1-3.4 1-3.9 1 .4 1 4.1 1 3.4 1 .5 1 2.1 1 2.1 1-1.2 1-2.7 1 .1 1-1.6 1-.5 1 .7 1-.7 1-1.7 1 1.8 1 1.7 1-4.2 1 .3 1 3 1 1.3 1 .6 1 2.3 1-1.4 1-4.4 1-3.7 1-1.8 1 2.5 1 .2 1-3.1 1 .3 1 .3 1-.1 1-.5 1-1.4 1 4.9 1 10.3 1 1.6 1-.7 1-.6 1-1.8 1-3.3 1-2.6 1 .9 1 3 1 1.1 1-2.6 1-2 1-2.9 1-1.3 1 .1 1-4.4 1-.6 1 1.4 1 2.1 1 5.8 1 2.2 1-1.6 1-1.5 1-5.3 1 4 1 13.9 1 10.4 1-1 1-10.5 1-10.1 1-5.5 1-3.3 1-2 1 .9 1 .3 1 1.9 1 6.5 1 3.3 1 .7 1-1.8 1 0 1 4.6 1 4.2 1-1.1 1-5.2 1-3.8 1-2.6 1-1.2 1 1.1 1 .6 1-3.8 1-2.2 1 1.9 1-1.2 1 .4 1 2.3 1 4.2 1 5.4 1 3.4 1 1 1-1 1-2.9 1-3.6 1-3.3 1-3.4 1-1.3 1 1.3 1 4 1 3 1-.4 1-1.3 1 1.4 1 1.8 1-1.6 1-5.8 1-2 1 3.6 1 2.5 1-3.5 1-.9 1 3.1 1 2.5 1-.5 1-1.8 1-.4 1 3.5 1 1.9 1-1.8 1 .7 1 2.5 1-1 1-3.9 1-3.8 1-1.3 1 2 1 2.1 1-.8 1-1.8 1 1 1 2.4 1 8.5 1 1.4 1-8 1-4.5 1 2.2 1 2.3 1 3.3 1 1 1-4.2 1-5 1-2 1 1.9 1 1.6 1-2.9 1-6.4 1-.8 1 5.9 1 4.3 1 3.8 1 1.7 1-2.7 1-1.5 1 .6 1-1.9 1-1.2 1 2.2 1 1.2 1 .3 1 2.1 1 .6 1-.5 1-2.4 1-1.2 1 .4 1-2.1 1-4.3 1-1.3 1 3 1-.9 1-3.4 1 1.4 1 2.5 1 .4 1 .7 1 1.9 1-.1 1 1.4 1 .1 1-1.4 1 1 1 .3 1 2 1 6.3 1 3 1-3.7 1-5.4 1-5.4 1-1.8 1 2.4 1-.4 1 1.1 1 .2 1 .9 1 1.2 1-1.9 1-2.2 1 .7 1 1.7 1 1 1-1.3 1-3.6 1-5.1 1 .2 1 5.7 1-.3 1-3.5 1-1.3 1 .8 1 .9 1-2.5 1-.1 1 1 1 .4 1-.4 1 .7 1 4.6 1 5 1 1.2 1-2.5 1-4 1-4.6 1-2.8 1-1.1 1-.6 1 2.7 1 3.8 1 .6 1 .3 1 1.2 1-1.6 1-.7 1 1.9 1 2.3 1 4.3 1 1 1-3 1-3.8 1-1.8 1-2.4 1 1.1 1 2.8 1-.9 1-.6 1 1.5 1 1.4 1-.2 1 .9 1 .7 1-2.2 1-1.7 1 2.1 1 1.7 1-.1 1 1.6 1-.9 1-3.6 1 .8 1 2.7 1 .1 1 1.5 1 6.1 1 3.8 1-6.6 1-4.4 1 2 1 4.2 1-1.1 1-3.1 1-3 1-.6 1 .9 1-.6 1-1 1-.9 1-.7 1-.8 1-1.6 1-1.6 1 1.3 1 3.9 1 3.7 1-2 1-1.1 1 .9 1 .7 1 2.3 1 .7 1-.6 1 0 1 .6 1-2.4 1-6.3 1-.8 1 1.8 1 1 1-.5 1-2.1 1 4 1 5.1 1 3.8 1 2.4 1 .2 1-4 1-4 1 .7 1 2.3 1 1.5 1-.9 1-5.4 1-5.6 1-3.3 1 2 1 3.3 1-.9 1 .7 1 3.3 1-1.8 1-1.6 1 2.8 1 4.3 1 2.4 1-.1 1-.8 1 .6 1 1.3 1-.8 1-3.4 1-6 1-2.1 1 .3 1 1.8 1 3.5 1 2.2 1-1.4 1-3.1 1-1.5 1 .5 1 1 1 1.5 1 2.2 1 .5 1-2.1 1-1.4 1-.5 1-3.5 1-4.7 1 2.2 1 2.7 1-.8 1 2.5 1 5.8 1 4.5 1-1.3L1143 742.1l-1 .3 -1-6.1 -1-7.4 -1-.2 -1 1.5 -1-.7 -1-.8 -1 2.9 -1-.3 -1-1.2 -1 1 -1 2.2 -1 .6 -1-2.1 -1-.4 -1 1.3 -1-.2 -1 1 -1 3.7 -1 2.3 -1-.2 -1-4.7 -1-6.5 -1-.1 -1 3.2 -1 5.6 -1 4 -1 .1 -1-.4 -1-1.2 -1 .2 -1 .9 -1-.8 -1-3 -1-3.5 -1 .9 -1 2 -1-3.8 -1-.5 -1 2.3 -1-1.1 -1-3.6 -1 .4 -1 4.6 -1 4.2 -1 2.8 -1-1.6 -1-5.2 -1 .5 -1 6.1 -1 5 -1-1.6 -1-4.2 -1-2.4 -1-4.7 -1-4.3 -1 1.7 -1 .6 -1-1.1 -1-2 -1 3.2 -1 4.2 -1 4.6 -1 .3 -1-1.1 -1-1.7 -1-1.9 -1-3.5 -1 0 -1 3.7 -1 4.4 -1 .5 -1-.7 -1-3.3 -1-3.5 -1-.5 -1 .8 -1 .2 -1-2.2 -1 1.1 -1 2.1 -1-.3 -1-2.5 -1 0 -1 4 -1 3.6 -1-.5 -1-2.5 -1 .1 -1 4.5 -1 7 -1-2.3 -1-8.2 -1-4.5 -1-.3 -1 0 -1 .3 -1 1 -1 1 -1 .9 -1 1 -1-1.9 -1-5 -1 1.8 -1 5.7 -1 .3 -1-4.1 -1-.1 -1-.7 -1-1.8 -1 1.2 -1 0 -1-2.5 -1-3.9 -1-.1 -1 3.1 -1 5.8 -1 5.3 -1-.1 -1-4.2 -1-2.4 -1 .1 -1 .2 -1-1.9 -1-2.8 -1-1 -1-.9 -1-3.5 -1-2 -1 2.4 -1 2.4 -1 3.7 -1 3.3 -1 1.2 -1 .7 -1 .1 -1-4.1 -1-5.4 -1-2.3 -1 3.3 -1-.9 -1-1.4 -1 1 -1 2.1 -1-.3 -1-.9 -1-.6 -1 2.7 -1 1.6 -1-1.9 -1 .5 -1 1.8 -1 .9 -1 3.1 -1-1 -1-5 -1 1.4 -1 1.6 -1 2.3 -1-.8 -1 .2 -1-.5 -1-2.2 -1-1 -1 1.3 -1 2 -1 6.8 -1 3.6 -1 3.3 -1-2.7 -1-6.4 -1-1.8 -1-.1 -1-.6 -1 .4 -1 .9 -1 .1 -1-1.9 -1-2 -1-2.3 -1-.7 -1-1.5 -1-.3 -1 5.8 -1 2.8 -1-3.7 -1 .4 -1 4.2 -1 2 -1 1 -1 .3 -1-.1 -1-1.6 -1-.5 -1-2.2 -1 3.8 -1 1.1 -1-2.3 -1-.6 -1-1.2 -1 .6 -1 3 -1 1.4 -1-2 -1-3.5 -1-6 -1-2.9 -1 2 -1 4.4 -1 2.8 -1-1.4 -1-.9 -1 3.2 -1 5.2 -1 2.1 -1-.7 -1-2.4 -1-3.5 -1-2.3 -1 3.9 -1 7.7 -1-2.9 -1-10 -1-3.4 -1 .4 -1 .2 -1 3.5 -1 2 -1 .6 -1 .7 -1 2.7 -1 2.7 -1 2.1 -1-2.8 -1-4 -1-1.6 -1-1.1 -1-1.5 -1 1.1 -1 1.3 -1-.5 -1-2.9 -1-.8 -1-.5 -1 3.5 -1-.3 -1-4.7 -1 .6 -1 6.2 -1 1.2 -1-3 -1-1.3 -1 .5 -1 2.2 -1-.3 -1-4.3 -1-2.5 -1 2 -1 2.5 -1 3 -1 6 -1 3 -1 .3 -1-.6 -1-4.9 -1-7.8 -1-3.4 -1 1.1 -1 1.5 -1 .6 -1-.7 -1 1.1 -1 .5 -1-3.1 -1 1.8 -1 1.7 -1 1.9 -1 4 -1 6.9 -1 4.6 -1-6.3 -1-6 -1-.1 -1-.6 -1-2.2 -1-5.4 -1-4.5 -1-.2 -1 1.1 -1 2.1 -1 9.6 -1 30.6 -1 26.1 -1 6.9 -1 1 -1-1.5 -1-12.9 -1-32.1 -1-23.5 -1 1.1 -1 2.2 -1 .3 -1-2.9 -1-4.6 -1-3.2 -1-2.5 -1 2.8 -1 3.4 -1 1 -1 .6 -1 2.7 -1 2.4 -1 4.5 -1-.1 -1-5.9 -1-2.1 -1 1.7 -1 2.2 -1 2.2 -1 1.9 -1 .8 -1-2.1 -1-9.1 -1-5.7 -1 .7 -1 4.3 -1 1.5 -1-2.4 -1 .8 -1 .7 -1-2.5 -1-.7 -1 2.6 -1 3.2 -1 3 -1-1.2 -1-.6 -1 .7 -1-.2 -1-1.8 -1 1.1 -1 2.5 -1-1.4 -1-1.8 -1 .9 -1-.6 -1 .5 -1 3.6 -1 1.7 -1-2.5 -1-1.5 -1 0 -1-1.8 -1-.9 -1-.9 -1-2.4 -1-.6 -1 1.4 -1 6.1 -1 4.9 -1-1.4 -1-2.9 -1-1.7 -1-.4 -1-.9 -1-1.3 -1-3.3 -1-3.2 -1-1.1 -1-.5 -1 2 -1 .8 -1-3 -1 .7 -1 6.4 -1 3.1 -1-.9 -1-1.8 -1-1.3 -1 2 -1 1.2 -1-.8 -1-2 -1-1.3 -1 .7 -1 .1 -1 2 -1-.3 -1-.3 -1 2.8 -1-2.2 -1-6.3 -1 2.5 -1 4.2 -1 .7 -1-4.2 -1-4.8 -1-3 -1 .9 -1 2.3 -1 4.1 -1 1.3 -1-.4 -1-.9 -1-.4 -1-.6 -1-.3 -1 1 -1 2.6 -1 .6 -1 .7 -1-2.6 -1-4.7 -1-.6 -1 1.8 -1 0 -1-4.5 -1-6.4 -1-1.5 -1 1.3 -1 .8 -1 .5 -1 .6 -1 1.1 -1 .7 -1 1 -1-.8 -1-5.5 -1-3.9 -1 1.7 -1 8.9 -1 6.4 -1 1.9 -1-.7 -1 .2 -1-3.3 -1-8 -1-3.6 -1 1.8 -1 1 -1 .2 -1 4.1 -1 4.6 -1 2.4 -1-2.5 -1-4 -1-5 -1-3.3 -1-.1 -1 2.4 -1 2.5 -1 1.7 -1 2.9 -1 4.6 -1-3.2 -1-6.8 -1-3.5 -1-1 -1 1 -1 1.2 -1-.1 -1-.6 -1-.5 -1 .3 -1 3.2 -1 2.8 -1 2.2 -1-3.3 -1-4.4 -1 .6 -1 2 -1 2.4 -1 .3 -1-4.3 -1-5.1 -1-2.9 -1-.2 -1 1.2 -1 1.3 -1-1.5 -1-3.8 -1-2.2 -1 1.1 -1 1.3 -1 2.6 -1 2.2 -1-3.9 -1-.6 -1-1.5 -1 2.1 -1 5.3 -1 2.3 -1-.3 -1-.9 -1-6.4 -1-3.4 -1 .6 -1 2.9 -1-1.7 -1-3.1 -1-.7 -1 .5 -1 1.2 -1 .8 -1-.1 -1-.6 -1-.2 -1 .4 -1-.7 -1-1.2 -1-1.1 -1-1.1 -1 2.3 -1 1.1 -1-.1 -1 3.3 -1 .4 -1-6.2 -1-5.3 -1 1 -1 1.5 -1 5.5 -1 6.1 -1 3.1 -1 .9 -1-4.5 -1-7.3 -1-6.7 -1 .5 -1 1.4 -1-1 -1-.4 -1-.6 -1 .1 -1 1.4 -1 2.2 -1-.3 -1-3.3 -1 .2 -1 4.2 -1 1 -1-1.8 -1-2 -1 1.8 -1 2.5 -1-3.4 -1-5.2 -1-1 -1 .5 -1 1.7 -1 .6 -1 2.4 -1 1.8 -1 .1 -1-.9 -1-1.4 -1-1.1 -1-1.2 -1-1.9 -1-.9 -1-.6 -1 2.5 -1 1.4 -1-3 -1-3.8 -1 0 -1 1.3 -1 1.6 -1 3.7 -1-1.2 -1-2.5 -1 .4 -1 3.3 -1 1.5 -1-.8 -1-1.8 -1-3.1 -1-3.1 -1 .4 -1 3.1 -1 .8 -1-1.5 -1 0 -1 .2 -1 1.4 -1 3.5 -1 4 -1-3.7 -1-9.9 -1-5.9 -1-.6 -1 1.5 -1-.1 -1 2.2 -1 .7 -1 2.5 -1 6.4 -1-2.3 -1-1.4 -1 2.2 -1 .7 -1-1.3 -1-2.3 -1 2 -1-.9 -1-4.8 -1 1.7 -1 3.4 -1 .9 -1-1.2 -1-.9 -1-1 -1-3.3 -1-3.4 -1-1.5 -1 .6 -1 .4 -1-.6 -1-1.8 -1 1 -1 2.4 -1 1.6 -1 3.5 -1 0 -1-2.7 -1-2.5 -1-3.2 -1 2.6 -1 .1 -1 .1 -1 1.4 -1-1.6 -1-3.2 -1-1.3 -1 1.5 -1 7.7 -1-.9 -1-2.3 -1-2.8 -1-5 -1-.9 -1 1.4 -1-1.4 -1 1.3 -1 1.5 -1 .3 -1 1.6 -1-2.2 -1-2.6 -1-.5 -1 1.1 -1-1 -1-3.2 -1-1.8 -1-1.6 -1 2.8 -1 2.7 -1-.5 -1-.2 -1-.6 -1-.1 -1 1.6 -1 .7 -1-3.4 -1-4.2 -1-.1 -1 2 -1-.3 -1-2.4 -1-4.8 -1-1.5 -1 .7 -1 1.2 -1 2.6 -1 3.3 -1-.8 -1-2 -1-1.3 -1 .7 -1 1.8 -1 1.5 -1 .5 -1 .8 -1 1.2 -1-1.2 -1-1.9 -1-1.7 -1-3.2 -1-4.1 -1 .5 -1 .4 -1 0 -1-.3 -1-.7 -1-4.7 -1-5 -1 2.3 -1 2.9 -1 2.1 -1 3.3 -1 2.5 -1 .9 -1-1.9 -1-6.3 -1-4.9 -1-3.5 -1 4.3 -1 5.5 -1 4.2 -1 1.2 -1-1.6 -1-2.8 -1-3.6 -1 2.1 -1 2.1 -1-1.2 -1-2.6 -1 1.9 -1 .4 -1 .4 -1-4.7 -1-1.2 -1 5.6 -1 .9 -1-.3 -1 .2 -1 0 -1 1.4 -1 1.2 -1-2.3 -1-3.1 -1-1.5 -1-.8 -1 0 -1 1.7 -1-.4 -1-1 -1-1.3 -1-.8 -1 .9 -1 2.1 -1-1 -1 .4 -1 0 -1 .2 -1 .6 -1-.4 -1-.3 -1 .2 -1-.9 -1 1.4 -1-.8 -1-3 -1-.7 -1-2.1 -1-.3 -1 0 -1 1.2 -1 1.4 -1-.8 -1 .5 -1 2 -1 1.2 -1-.1 -1-1.6 -1-.5 -1 .8 -1 .9 -1-.5 -1 0 -1 1.1 -1 .5 -1 1 -1-2 -1-2.5 -1 .4 -1 1.7 -1-3.2 -1-2.7 -1 2.4 -1 3.7 -1 1.2 -1 3.5 -1 1.3 -1-1.2 -1 0 -1 .2 -1-.9 -1-2.2 -1 2.3 -1 .9 -1-1.3 -1-2.2 -1-.9 -1 .5 -1 .1 -1 1.1 -1-.9 -1 .6 -1 .5 -1 .1 -1 1.4 -1 .8 -1-1.6 -1-2 -1 .8 -1 1.9 -1 4.4 -1-2.3 -1-3.5 -1-3.1 -1-2.1 -1 1.5 -1 .5 -1-1.8 -1 .4 -1-.8 -1 .2 -1 .5 -1 .3 -1 .4 -1 2.6 -1 2.4 -1-1.4 -1-5 -1-1.4 -1-1.5 -1-1.5 -1 3 -1 3.1 -1-1.6 -1-5.2 -1-3.5 -1 3.7 -1 6.1 -1 2.8 -1-4.1 -1-4.7 -1-.2 -1 .3 -1-1.2 -1-1.6 -1 .1 -1-.4 -1 .3 -1-1.8 -1-3.4 -1-2.9 -1-4.3 -1-.4 -1 5.7 -1 1 -1-1.8 -1-.5 -1-.9 -1-1.9 -1-.9 -1 .6 -1 3.4 -1 4.8 -1-3.4 -1-5.9 -1-2.8 -1 .4 -1 1.6 -1-1.1 -1-.1 -1 3 -1-.8 -1-3.5 -1-1.8 -1 .2 -1 1 -.5 .5 -.5 .5 -.5-.9 -.5-.9 -.5-1.6 -.5-1.5 -.5-1.2 -.5-1.2 -.5-.5 -.5-.6 -.5 0 -.5-.1 -.5-.5 -.5-.5 -.5-.6 -.5-.6 -.5-.1 -.5-.2 -.5-.7 -.5-.8 -.5-1.6 -.5-1.6 -.5-1.3 -.5-1.3 -.5-.9 -.5-1 -.5-1.4 -.5-1.4 -.5 .1 -.5 0 -.5 1.2 -.5 1.2 -.5-.2 -.5-.2 -.5-1.7 -.5-1.6 -.5-1.9 -.5-1.8 -.5-1.3 -.5-1.3 -.5-1 -.5-1.1 -.5-1 -.5-1.1 -.5-.6 -.5-.8 -.5-.6 -.5-.7 -.5-1.4 -.5-1.5 -.5-1.5 -.5-1.5 -.5-1.5 -.5-1.6 -.5-1.5 -.5-1.7 -.5-2.3 -.5-2.4 -.5-1.9 -.5-1.9 -.5-2.4 -.5-2.3 -.5-2.1 -.5-2 -.5-2.3 -.5-2.3 -.5-2.5 -.5-2.6 -.5-2.4 -.5-2.4 -.5-2.4 -.5-2.4 -.5-2.1 -.5-2.1 -.5-2.3 -.5-2.4 -.5-2.4 -.5-2.4 -.5-2.5 -.5-2.5 -.5-2.5 -.5-2.5 -.5-2.7 -.5-2.7 -.5-2.7 -.5-2.7 -.5-2.7 -.5-2.8 -.5-3.1 -.5-3.3 -.5-3.4 -.5-3.5 -.5-3.6 -.5-3.9 -.5-4 -.5-4.2 -.5-4.2 -.5-4.6 -.5-5 -.5-5.4 -.5-5.7 -.5-6.1 -.5-6.4 -.5-6.8 -.5-6.9 -.5-7.3 -.5-7.4 -.5-7.9 -.5-8.7 -.5-9.7 -.5-10.4 -.5-10.9 -.5-11.2 -.5-11.6 -.5-12.2 -.5-13 -.5-13.6 -.5-14.1 -.5-14.9 -.5-15.8 -.5-16.1 -.5-15.6 -.5-14.9 -.5-14.8 -.5-15.3 -.5-16.4 -.5-17.4 -.5-18.2 -.5-19Z" fill="#8AA3CB" stroke="#8AA3CB" stroke-width="3.6" stroke-linejoin="round"/>
<path d="M206 109.2l.5 18.3 .5 17.4 .5 16.2 .5 14.9 .5 14.5 .5 14.7 .5 15.8 .5 16.5 .5 16.2 .5 15.2 .5 14.2 .5 13.7 .5 12.9 .5 12.2 .5 11.4 .5 10.7 .5 10.3 .5 9.8 .5 9.2 .5 8.5 .5 7.9 .5 7.6 .5 7.4 .5 7.2 .5 7 .5 6.7 .5 6.4 .5 6.1 .5 5.7 .5 5.3 .5 4.8 .5 4.4 .5 4.1 .5 3.9 .5 3.8 .5 3.5 .5 3.4 .5 3.3 .5 3.2 .5 3.1 .5 2.9 .5 2.7 .5 2.7 .5 2.6 .5 2.6 .5 2.5 .5 2.4 .5 2.3 .5 2.4 .5 2.3 .5 2.4 .5 2.3 .5 2.1 .5 2 .5 1.7 .5 1.7 .5 2 .5 2 .5 2.2 .5 2.3 .5 2.1 .5 2.2 .5 2 .5 1.9 .5 1.8 .5 1.8 .5 2.1 .5 2.1 .5 1.9 .5 1.9 .5 2.2 .5 2.1 .5 1.8 .5 1.7 .5 1.3 .5 1.3 .5 1.8 .5 1.8 .5 1.9 .5 1.9 .5 1 .5 1 .5 .8 .5 .8 .5 .9 .5 .8 .5 .5 .5 .3 .5 .6 .5 .6 .5 1 .5 1 .5 1.2 .5 1.2 .5 .8 .5 .7 .5 0 .5-.1 .5 0 .5 .1 .5 1.2 .5 1.2 .5 .8 .5 .8 .5 .8 .5 .8 .5 1.1 .5 1.2 .5 1.2 .5 1.2 .5 .9 .5 .9 .5 .4 .5 .3 .5 .1 .5 .1 .5 .2 .5 .1 .5 1 .5 .9 .5 .6 .5 .6 .5 1.1 .5 1.1 .5-.3 .5-.4 .5 .3 .5 .3 1 1.8 1-.7 1 1.2 1 3.9 1 2.6 1-1.7 1-1 1-.7 1-1.2 1-.8 1 2.4 1 5.9 1 3 1-6.2 1-3.9 1-.6 1-1.8 1 .5 1 1.6 1 1.2 1 2.8 1-1.5 1-6.9 1-.5 1 5.6 1 4.6 1 3 1 1.4 1 1.1 1 .1 1-.8 1 1.5 1 .7 1-1.2 1-1.4 1 2.6 1 3.9 1-.6 1-4.7 1-3.2 1 2.6 1 1.7 1 1.3 1-1.5 1-1.6 1 .2 1-.1 1 2.2 1 4.3 1 1.1 1-3 1-.5 1 2.2 1-.9 1-.8 1 0 1-.2 1-.3 1-1.2 1-2 1-2.6 1-.9 1 5.4 1 5.2 1 1 1-1.3 1-3.2 1-1.9 1 2.8 1 2.2 1-.5 1-1.4 1 .1 1-.8 1-.9 1-.6 1-1.9 1-1.7 1 .5 1 2 1 2 1 .9 1-1.6 1 1 1 .3 1-.2 1 1 1 1.2 1 .6 1-1.9 1-2.5 1-1.1 1-1.8 1-1.5 1 0 1 1.6 1-2.1 1-2.1 1 2.1 1 3.6 1-.3 1-1.9 1-.7 1 2.5 1 2.5 1-1.1 1-.4 1 1.4 1-1.1 1-3 1-.1 1 .4 1-.1 1-.2 1-1.5 1-1.4 1-.4 1 1.9 1 2.8 1-.6 1 1.3 1-1.4 1-3.5 1-1 1-.7 1 .5 1 1.9 1-.4 1-.2 1 .4 1 .8 1 .2 1-1.4 1-.6 1 1 1-.6 1 2.4 1 1.7 1-1.1 1-1.3 1-1.1 1 .4 1 3.1 1 3.6 1 .5 1-1.5 1-1.6 1-1.1 1 1.7 1-.3 1-3.6 1 .2 1 1.8 1 .8 1-1.6 1-2.1 1 2.3 1 2.8 1 0 1-1.2 1 .3 1 2.2 1 2.4 1 .4 1-2.9 1-7.3 1-6.7 1 3.4 1 8 1 5.8 1 1.5 1 .1 1-1.4 1-2.9 1-2.9 1-3.2 1-3 1 4.1 1 5 1-.2 1 0 1-2 1-2 1-.1 1 5.7 1 5 1 .5 1-.5 1 1.5 1 .7 1-1.3 1-1.1 1-2.8 1-1.3 1-1.8 1 1.5 1 3.5 1 1.4 1-2.2 1-1.5 1 1.6 1-.2 1 3.3 1 4.6 1 2.4 1 1.9 1-1.6 1-.3 1 4 1 1.9 1-1 1-1.8 1 .2 1 0 1-1.4 1-1.4 1-1.1 1-.8 1 1.1 1 1.7 1 1.3 1 1.9 1 1.2 1 2 1 3.5 1 .8 1 1.8 1-1.9 1-2.5 1-.3 1 .9 1-.5 1 .7 1 3.2 1 2.5 1 4.2 1 2.9 1-9.7 1-1.9 1 2.3 1-.2 1-.6 1 1.4 1 3 1-.1 1-2.4 1-.8 1 2.5 1 3.9 1 .6 1-.9 1-3 1-1.6 1-.3 1 1.8 1 .7 1-2 1-.8 1 3.2 1 5 1 .8 1-3.9 1-2.9 1 0 1 2.2 1 2.8 1 1.1 1-2.5 1-2.3 1-.2 1-1.1 1 3.2 1 2 1 .2 1 4 1 3.1 1-6.5 1-.7 1-2 1-2.5 1 1.6 1 1.3 1-2.6 1 3.4 1 9.1 1 4.6 1-1.9 1-2.4 1-1 1 0 1-1.3 1-.6 1-1.6 1-1.9 1 .8 1 3.8 1 3.7 1 1.3 1-.8 1-.8 1 .6 1 .1 1-2.6 1-2 1-2.2 1-2.3 1 1.7 1 2.9 1 2.1 1 1.5 1-.7 1-2 1 3 1 2.4 1-1.7 1-.3 1 2.8 1-.1 1 2.3 1 1.9 1-1.6 1-4.2 1 .2 1-.3 1-.1 1 .2 1 2.1 1 2.7 1-2 1-1.8 1 2.1 1 5 1-.4 1-4.1 1-.8 1 .4 1 1.9 1 2.5 1-2.3 1-2.1 1-1.1 1-1.6 1-.4 1-.4 1 .9 1 7.1 1 9.4 1 7.4 1 .3 1-5.7 1-6 1-5 1-.8 1 1.3 1 5.9 1 6.7 1-2.8 1-2.7 1-1 1 .6 1 .2 1-.8 1-.6 1 .2 1 .2 1-1.1 1-1.3 1 .4 1 1.3 1 .8 1-.1 1-1 1 .8 1 3.3 1 2.2 1-1.8 1-.7 1 5.6 1 4.2 1 3.3 1 .8 1-2.3 1-5.7 1-1.7 1 2.3 1 .4 1 2.3 1-4.5 1-2.8 1 .8 1-.4 1 .2 1 3.7 1 2.8 1 .3 1-2.2 1 0 1 1.7 1 3.7 1 1.9 1 0 1-.4 1-2 1 .3 1 3 1 4 1 1 1-1.3 1-2 1-1.3 1 3 1-.8 1 .1 1-.8 1-.9 1-.3 1 1.8 1 7 1 4.9 1-1.7 1-6.6 1-5.8 1-1.1 1 .4 1 1.4 1 1.9 1 2.1 1 3.4 1 1.4 1-2.8 1-1.6 1-1.2 1-.2 1-.7 1-1.4 1 3.1 1 5.9 1 2.8 1-.9 1 2 1 .9 1-7.2 1-8.4 1-2.7 1 2.1 1 3.4 1 .3 1 .7 1 2.4 1-.8 1-1.7 1-1.2 1-1.7 1-1.3 1 1.4 1 6.5 1 3.8 1-.7 1-2.2 1 2 1 4.4 1 4.9 1 2.1 1-3 1-3 1-1.6 1 1.9 1-2.9 1-2.9 1-.2 1 2.7 1 2.5 1-1.3 1-4.1 1-1.6 1 5.5 1 1.7 1 .2 1-1.5 1-2.1 1 .3 1 2.9 1 1.3 1-.2 1 .2 1 .3 1 1.1 1-.7 1-.1 1 1.4 1 1.9 1 1.6 1-2.2 1-2.8 1 1.4 1 1.2 1-1.8 1-2.5 1-6.8 1-.1 1 4.1 1 1 1 .5 1-.3 1-.5 1 .3 1 2.8 1 3.9 1 .2 1-1.8 1 .7 1 1.2 1-.4 1-3.5 1-3.9 1 .3 1 4 1 3.3 1 .5 1 2.1 1 1.8 1-1.3 1-2.8 1 .2 1-1.5 1-.4 1 .8 1-.6 1-1.6 1 1.9 1 1.9 1-4.1 1 .3 1 3.1 1 1.4 1 .7 1 2.4 1-1.3 1-4.4 1-3.6 1-1.7 1 2.5 1 .2 1-3.3 1 .1 1 0 1-.2 1-.5 1-1.2 1 4.9 1 10.3 1 1.5 1-.7 1-.5 1-1.6 1-3 1-2.2 1 1.2 1 3.3 1 1.1 1-2.7 1-2.1 1-3.1 1-1.5 1-.2 1-4.7 1-.9 1 1.3 1 2 1 5.7 1 2.1 1-1.7 1-1.5 1-5.3 1 4.1 1 14.3 1 10.9 1-.7 1-10.4 1-10.6 1-6.1 1-3.7 1-2.2 1 1 1 .4 1 2.3 1 6.6 1 3.1 1 .4 1-2.2 1-.2 1 4.6 1 4.4 1-1 1-5 1-3.8 1-2.5 1-1.2 1 1.1 1 .5 1-4 1-2.3 1 2.1 1-1 1 .7 1 2.6 1 4.4 1 5.2 1 3.2 1 .6 1-1.2 1-2.7 1-3.2 1-2.8 1-3.3 1-1.3 1 1.1 1 3.6 1 2.6 1-.8 1-1.5 1 1.5 1 2.1 1-1.3 1-5.6 1-1.9 1 3.7 1 2.7 1-3.4 1-.4 1 3.6 1 2.8 1-.7 1-2.2 1-1 1 3 1 1.6 1-1.9 1 .6 1 2.4 1-1.1 1-3.7 1-3.5 1-1.2 1 1.8 1 1.7 1-1 1-1.7 1 1.4 1 2.8 1 8.9 1 1.6 1-8 1-4.7 1 1.9 1 2.2 1 3.3 1 1.3 1-4 1-4.7 1-2 1 1.7 1 1.4 1-3.1 1-6.4 1-.7 1 6.2 1 4.6 1 4.1 1 1.6 1-2.9 1-1.8 1 .4 1-2 1-1.1 1 2.4 1 1.4 1 .4 1 1.9 1 .3 1-.8 1-2.6 1-1.2 1 .6 1-2 1-4.3 1-1.4 1 3 1-.7 1-3.3 1 1.3 1 2.1 1 0 1 .6 1 2.1 1 .1 1 1.7 1 .2 1-1.4 1 1 1 .1 1 1.9 1 6.4 1 3.3 1-3.2 1-5.1 1-5.1 1-1.7 1 2.3 1-.6 1 .7 1-.1 1 .7 1 1.2 1-1.8 1-2.1 1 1.1 1 1.9 1 .9 1-1.5 1-3.7 1-5.2 1 .3 1 5.8 1-.4 1-3.4 1-1.4 1 .9 1 .9 1-2.6 1-.4 1 .5 1 .2 1-.7 1 .7 1 4.4 1 4.7 1 .9 1-2.7 1-4.2 1-4.5 1-2.7 1-.9 1-.3 1 3.1 1 4.3 1 .8 1 .5 1 1.2 1-1.8 1-1 1 1.7 1 2.3 1 4.3 1 1.1 1-3.2 1-3.9 1-1.8 1-2 1 1.7 1 3.2 1-.9 1-.9 1 1.1 1 1 1-.5 1 .9 1 .8 1-2 1-1.7 1 2.1 1 1.6 1-.4 1 1.2 1-1.1 1-3.7 1 .9 1 3 1 .7 1 2.2 1 6.5 1 3.9 1-6.6 1-4.5 1 1.9 1 4.2 1-1.1 1-3.1 1-3 1-.8 1 .7 1-1 1-1.4 1-1.1 1-.5 1-.4 1-1.2 1-1.2 1 1.5 1 3.9 1 3.6 1-2.1 1-1.4 1 .6 1 .3 1 2 1 .6 1-.4 1 .5 1 1.1 1-2 1-6.1 1-.9 1 1.7 1 .8 1-.7 1-2.2 1 4 1 5 1 3.9 1 2.5 1 .3 1-4.2 1-4.3 1 .2 1 2 1 1.3 1-.9 1-5.1 1-5.1 1-2.7 1 2.7 1 3.7 1-.6 1 .5 1 2.8 1-2.4 1-2.1 1 2.5 1 4.3 1 2.5 1-.1 1-.7 1 .6 1 1.4 1-.6 1-3.2 1-6.1 1-2.3 1 0 1 1.5 1 3.3 1 1.9 1-1.8 1-3.6 1-2 1 .5 1 1.4 1 2.2 1 2.9 1 1.1 1-1.7 1-1.2 1-.3 1-3.3 1-4.7 1 2 1 2.2 1-1.4 1 2.1 1 5.7 1 4.5 1-1.3L1143 741.8l-1 .1 -1-6.1 -1-7.2 -1 .2 -1 2.1 -1-.2 -1-.6 -1 2.9 -1-.5 -1-1.4 -1 .8 -1 1.8 -1 0 -1-2.8 -1-1.1 -1 .8 -1-.1 -1 1.4 -1 4.4 -1 2.7 -1 0 -1-4.4 -1-6.3 -1 .2 -1 3.4 -1 5.7 -1 3.9 -1-.2 -1-.5 -1-1.2 -1 .1 -1 .9 -1-1 -1-2.9 -1-3.2 -1 1.4 -1 2.6 -1-3.3 -1-.3 -1 2.1 -1-1.6 -1-4.3 -1-.2 -1 4.1 -1 3.9 -1 2.8 -1-1.5 -1-4.8 -1 1 -1 6.4 -1 5.2 -1-1.7 -1-4.3 -1-2.5 -1-4.7 -1-4.2 -1 1.8 -1 .8 -1-1 -1-1.7 -1 3.1 -1 4.1 -1 4.2 -1-.2 -1-1.6 -1-1.9 -1-1.8 -1-3.2 -1 .4 -1 4.1 -1 4.5 -1 .7 -1-.6 -1-3.3 -1-3.6 -1-.9 -1 .4 -1-.3 -1-2.3 -1 1.2 -1 2.4 -1 .2 -1-2.3 -1 .2 -1 4 -1 3.5 -1-.4 -1-2.5 -1 .2 -1 4.6 -1 7 -1-2.4 -1-8.6 -1-5.1 -1-.9 -1-.5 -1 .3 -1 1.1 -1 1.3 -1 1.2 -1 1.2 -1-1.7 -1-5 -1 1.7 -1 5.6 -1 .2 -1-4.1 -1 .1 -1-.2 -1-1.5 -1 1.6 -1-.1 -1-2.9 -1-4.4 -1-.4 -1 3 -1 5.9 -1 5.5 -1-.2 -1-4.2 -1-2.4 -1 .4 -1 .4 -1-1.7 -1-2.8 -1-1.1 -1-1.2 -1-4 -1-2.4 -1 2 -1 2.2 -1 3.6 -1 3.3 -1 1.3 -1 1 -1 .5 -1-4 -1-5.2 -1-2.1 -1 3.4 -1-.5 -1-1 -1 1.3 -1 2.3 -1-.4 -1-.9 -1-.6 -1 2.7 -1 1.5 -1-1.9 -1 .4 -1 1.8 -1 1.1 -1 3.3 -1-1 -1-5.1 -1 1 -1 1.5 -1 2.2 -1-.8 -1 .4 -1-.2 -1-1.8 -1-.7 -1 1.3 -1 1.9 -1 6.5 -1 3.2 -1 2.9 -1-3 -1-6.5 -1-1.7 -1 0 -1-.5 -1 .4 -1 .8 -1-.2 -1-2.2 -1-2.1 -1-2.1 -1-.4 -1-1.1 -1-.2 -1 5.6 -1 2.7 -1-3.7 -1 .5 -1 4.2 -1 1.9 -1 .9 -1 .2 -1 0 -1-1.2 -1-.1 -1-2.2 -1 3.8 -1 .9 -1-2.5 -1-.6 -1-1.2 -1 .7 -1 3.4 -1 1.7 -1-2 -1-3.7 -1-6.4 -1-3.1 -1 1.8 -1 4.4 -1 3 -1-1.2 -1-.8 -1 3.3 -1 5 -1 1.7 -1-.9 -1-2.5 -1-3.3 -1-1.9 -1 4.1 -1 7.6 -1-3.1 -1-10.4 -1-3.8 -1 0 -1 .1 -1 3.8 -1 2.3 -1 .8 -1 .6 -1 2.4 -1 2.5 -1 2.2 -1-2.7 -1-3.8 -1-1.5 -1-.9 -1-1 -1 1.6 -1 1.9 -1-.4 -1-3.2 -1-1.3 -1-.9 -1 3.2 -1-.3 -1-4.9 -1 .5 -1 6 -1 .9 -1-3.3 -1-1.4 -1 .8 -1 2.5 -1 .1 -1-3.9 -1-2.3 -1 2 -1 2.3 -1 2.6 -1 5.6 -1 2.8 -1 .5 -1-.2 -1-4.7 -1-7.6 -1-3.5 -1 .7 -1 1.2 -1 .4 -1-.9 -1 1.2 -1 .6 -1-2.9 -1 1.8 -1 1.8 -1 1.8 -1 3.9 -1 6.7 -1 4.5 -1-6.5 -1-6 -1 .1 -1-.3 -1-1.8 -1-5.3 -1-4.5 -1-.5 -1 .9 -1 2 -1 9.8 -1 31.1 -1 26.6 -1 7.3 -1 1 -1-1.9 -1-13.3 -1-32.5 -1-23.7 -1 1.1 -1 2.3 -1 .4 -1-2.8 -1-4.5 -1-3.1 -1-2.3 -1 3 -1 3.7 -1 1.2 -1 .9 -1 2.8 -1 2.6 -1 4.7 -1-.2 -1-6.2 -1-2.4 -1 1.3 -1 1.9 -1 2 -1 1.8 -1 .8 -1-2 -1-9.1 -1-5.8 -1 .7 -1 4.2 -1 1.6 -1-2.2 -1 1.1 -1 .8 -1-2.4 -1-.7 -1 2.6 -1 3.1 -1 2.9 -1-1.3 -1-.8 -1 .7 -1-.3 -1-1.9 -1 1 -1 2.4 -1-1.4 -1-2 -1 .8 -1-.7 -1 .4 -1 3.5 -1 1.6 -1-2.6 -1-1.4 -1 .2 -1-1.6 -1-.9 -1-.9 -1-2.3 -1-.5 -1 1.4 -1 6.3 -1 4.9 -1-1.1 -1-2.7 -1-1.3 -1-.4 -1-1 -1-1.5 -1-3.5 -1-3.4 -1-1.1 -1-.6 -1 1.7 -1 .4 -1-3.2 -1 .5 -1 6.4 -1 3.3 -1-.6 -1-1.5 -1-1.1 -1 2.1 -1 1.1 -1-.7 -1-2 -1-1.2 -1 .8 -1 .2 -1 1.9 -1-.5 -1-.6 -1 2.6 -1-2.3 -1-6.2 -1 2.7 -1 4.6 -1 1 -1-3.9 -1-4.8 -1-2.9 -1 .6 -1 2.1 -1 3.6 -1 1 -1-.7 -1-1.1 -1-.3 -1-.4 -1 .1 -1 1.5 -1 2.9 -1 .5 -1 .3 -1-3.2 -1-5.1 -1-.9 -1 1.8 -1 .2 -1-4.3 -1-6 -1-1.3 -1 1.4 -1 .9 -1 .4 -1 .4 -1 1.2 -1 .7 -1 1.2 -1-.6 -1-5.5 -1-4.1 -1 1.2 -1 8.4 -1 5.9 -1 1.6 -1-1 -1 .1 -1-3.3 -1-7.9 -1-3.6 -1 1.6 -1 .8 -1 0 -1 4.1 -1 4.6 -1 2.6 -1-2.1 -1-3.7 -1-4.8 -1-3.2 -1-.1 -1 2.3 -1 2.7 -1 2 -1 3.1 -1 4.6 -1-3.2 -1-6.9 -1-3.5 -1-.9 -1 .9 -1 1.1 -1-.4 -1-.8 -1-.6 -1 .3 -1 3.1 -1 2.8 -1 2.2 -1-3.1 -1-4.2 -1 .6 -1 1.8 -1 2.1 -1-.1 -1-4.4 -1-5.1 -1-3.1 -1-.7 -1 .7 -1 .7 -1-1.8 -1-3.7 -1-1.9 -1 1.4 -1 1.5 -1 2.7 -1 2.3 -1-3.9 -1-.4 -1-1.6 -1 2 -1 5.1 -1 2.1 -1-.5 -1-1.1 -1-6.6 -1-3.9 -1 .3 -1 2.6 -1-1.6 -1-3 -1-.7 -1 .6 -1 1 -1 .9 -1 .1 -1-.4 -1 0 -1 .5 -1-.6 -1-1.2 -1-1 -1-1 -1 2.3 -1 1.2 -1-.1 -1 3.2 -1 .2 -1-6.5 -1-5.5 -1 .7 -1 1.4 -1 5.5 -1 6.3 -1 3.3 -1 .7 -1-4.7 -1-7.8 -1-7.1 -1 .1 -1 1 -1-1.2 -1-.5 -1-.5 -1 .4 -1 1.7 -1 2.3 -1-.6 -1-3.8 -1-.6 -1 3.4 -1 .2 -1-2.3 -1-2.4 -1 1.6 -1 2.6 -1-3.2 -1-5 -1-.9 -1 .5 -1 1.7 -1 .5 -1 2.3 -1 1.5 -1-.2 -1-1.1 -1-1.5 -1-1.2 -1-1.1 -1-1.9 -1-1.2 -1-1.1 -1 1.8 -1 .8 -1-3.4 -1-4 -1-.1 -1 1.7 -1 2.2 -1 4.3 -1-1 -1-2.7 -1-.1 -1 2.8 -1 1.4 -1-.6 -1-1.6 -1-2.8 -1-3.1 -1 .4 -1 3 -1 .7 -1-1.7 -1-.1 -1 0 -1 1.4 -1 3.5 -1 4.2 -1-3.6 -1-9.7 -1-6 -1-.8 -1 1.3 -1 0 -1 2.4 -1 .8 -1 2.7 -1 6.3 -1-2.3 -1-1.4 -1 2 -1 .5 -1-1.5 -1-2.4 -1 2.1 -1-.6 -1-4.6 -1 1.7 -1 3.4 -1 .8 -1-1.4 -1-.9 -1-1.2 -1-3.2 -1-3.5 -1-1.6 -1 .7 -1 .4 -1-.5 -1-1.8 -1 .7 -1 1.9 -1 1 -1 2.9 -1-.3 -1-2.7 -1-2.3 -1-2.9 -1 2.8 -1 .2 -1 .2 -1 1.5 -1-1.7 -1-3.3 -1-1.5 -1 1.6 -1 7.8 -1-.9 -1-2.4 -1-3.1 -1-5.3 -1-1.2 -1 1.2 -1-1.7 -1 1.1 -1 1.1 -1 0 -1 1.1 -1-2.7 -1-3 -1-.8 -1 .9 -1-1.1 -1-3 -1-1.6 -1-1.4 -1 2.7 -1 2.6 -1-.7 -1-.4 -1-.8 -1 0 -1 1.7 -1 .8 -1-3.2 -1-4.1 -1-.1 -1 1.8 -1-.7 -1-3 -1-5.4 -1-2.3 -1 .2 -1 .9 -1 2.6 -1 3.4 -1-.7 -1-2.3 -1-1.6 -1 .2 -1 1.6 -1 1.4 -1 .8 -1 1 -1 1.5 -1-1 -1-1.7 -1-1.6 -1-3.4 -1-4.6 -1 .1 -1 .2 -1-.1 -1-.2 -1-.6 -1-4.4 -1-4.7 -1 2.5 -1 3.1 -1 2.2 -1 3.4 -1 2.7 -1 .9 -1-2 -1-6.6 -1-5 -1-3.6 -1 4.2 -1 5.4 -1 4.2 -1 1.1 -1-1.6 -1-2.8 -1-3.5 -1 2.2 -1 2.2 -1-.9 -1-2.5 -1 1.9 -1 .1 -1 .2 -1-4.9 -1-1.1 -1 5.7 -1 1 -1-.3 -1 .3 -1 0 -1 1.5 -1 1.2 -1-2.2 -1-2.9 -1-1.1 -1-.5 -1 0 -1 1.6 -1-.6 -1-1.3 -1-1.6 -1-.9 -1 .9 -1 2.3 -1-.8 -1 .7 -1 .1 -1 .4 -1 .8 -1-.3 -1-.4 -1-.1 -1-1 -1 1.5 -1-.3 -1-2.2 -1 .1 -1-1.6 -1-.1 -1 .3 -1 1.6 -1 1.7 -1-.7 -1 .2 -1 1.7 -1 1 -1 0 -1-1.5 -1-.2 -1 1 -1 1 -1-.7 -1-.4 -1 .5 -1-.1 -1 .5 -1-2.4 -1-2.7 -1 .6 -1 2.3 -1-2.4 -1-2.3 -1 2.6 -1 3.7 -1 1.3 -1 3.6 -1 1.6 -1-1 -1 .2 -1 .2 -1-1.1 -1-2.6 -1 2.1 -1 .9 -1-1.3 -1-2.1 -1-.8 -1 .5 -1 .1 -1 1 -1-.9 -1 .6 -1 .6 -1 .3 -1 1.7 -1 1 -1-1.6 -1-2 -1 .8 -1 2.1 -1 4.6 -1-2 -1-3.1 -1-2.8 -1-1.6 -1 1.9 -1 1.1 -1-1.3 -1 .7 -1-.5 -1 .5 -1 .7 -1 .5 -1 .7 -1 3 -1 2.8 -1-1 -1-4.7 -1-1.3 -1-1.5 -1-1.3 -1 3.2 -1 3.3 -1-1.6 -1-5.4 -1-4 -1 3.2 -1 5.9 -1 2.9 -1-3.9 -1-4.3 -1-.1 -1 .2 -1-1.2 -1-1.6 -1 .3 -1-.1 -1 .4 -1-1.6 -1-3.3 -1-2.9 -1-4.5 -1-.7 -1 5.5 -1 1.1 -1-1.6 -1-.2 -1-.7 -1-1.8 -1-.8 -1 1 -1 4.1 -1 5.5 -1-2.8 -1-5.6 -1-2.7 -1 .4 -1 1.7 -1-1 -1 .1 -1 3 -1-1.2 -1-3.9 -1-2.1 -1 .1 -1 1.1 -.5 .5 -.5 .5 -.5-.9 -.5-.9 -.5-1.6 -.5-1.6 -.5-1.2 -.5-1.3 -.5-.6 -.5-.7 -.5-.1 -.5-.2 -.5-.7 -.5-.6 -.5-.7 -.5-.7 -.5-.2 -.5-.2 -.5-.7 -.5-.7 -.5-1.6 -.5-1.5 -.5-1.3 -.5-1.3 -.5-1 -.5-1 -.5-1.4 -.5-1.4 -.5 0 -.5 .1 -.5 1.3 -.5 1.2 -.5-.1 -.5-.1 -.5-1.6 -.5-1.6 -.5-1.8 -.5-1.8 -.5-1.4 -.5-1.4 -.5-1.1 -.5-1.2 -.5-1.2 -.5-1.3 -.5-.8 -.5-.8 -.5-.6 -.5-.8 -.5-1.4 -.5-1.5 -.5-1.3 -.5-1.5 -.5-1.6 -.5-1.6 -.5-1.6 -.5-1.7 -.5-2.5 -.5-2.5 -.5-2 -.5-2 -.5-2.3 -.5-2.2 -.5-1.9 -.5-1.9 -.5-2.1 -.5-2.1 -.5-2.4 -.5-2.3 -.5-2.2 -.5-2.2 -.5-2.1 -.5-2.2 -.5-1.9 -.5-1.9 -.5-2.2 -.5-2.3 -.5-2.3 -.5-2.4 -.5-2.6 -.5-2.5 -.5-2.6 -.5-2.6 -.5-2.7 -.5-2.8 -.5-2.8 -.5-2.8 -.5-2.8 -.5-2.9 -.5-3.3 -.5-3.3 -.5-3.4 -.5-3.6 -.5-3.7 -.5-3.8 -.5-4.1 -.5-4.2 -.5-4.4 -.5-4.8 -.5-5.3 -.5-5.7 -.5-6.1 -.5-6.4 -.5-6.7 -.5-7 -.5-7.2 -.5-7.4 -.5-7.6 -.5-7.9 -.5-8.5 -.5-9.2 -.5-9.8 -.5-10.3 -.5-10.7 -.5-11.4 -.5-12.2 -.5-12.9 -.5-13.7 -.5-14.2 -.5-15.2 -.5-16.2 -.5-16.5 -.5-15.8 -.5-14.7 -.5-14.5 -.5-14.9 -.5-16.2 -.5-17.4 -.5-18.3Z" fill="#CD8C8B" stroke="#CD8C8B" stroke-width="3.6" stroke-linejoin="round"/>
<path d="M206 108.4l.5 18.3 .5 17.5 .5 16.1 .5 14.9 .5 14.5 .5 14.8 .5 15.8 .5 16.5 .5 16.2 .5 15.3 .5 14.2 .5 13.6 .5 13 .5 12.2 .5 11.4 .5 10.7 .5 10.2 .5 9.8 .5 9.1 .5 8.5 .5 7.9 .5 7.6 .5 7.4 .5 7.3 .5 7 .5 6.8 .5 6.4 .5 6.1 .5 5.7 .5 5.3 .5 4.8 .5 4.4 .5 4.2 .5 3.9 .5 3.8 .5 3.5 .5 3.5 .5 3.3 .5 3.2 .5 3.1 .5 2.9 .5 2.7 .5 2.7 .5 2.6 .5 2.5 .5 2.6 .5 2.4 .5 2.3 .5 2.4 .5 2.3 .5 2.4 .5 2.3 .5 2.1 .5 2 .5 1.8 .5 1.6 .5 2 .5 2 .5 2.3 .5 2.3 .5 2.2 .5 2.2 .5 2 .5 2 .5 1.8 .5 1.8 .5 2 .5 2 .5 1.9 .5 1.9 .5 2.1 .5 2.1 .5 1.8 .5 1.7 .5 1.4 .5 1.3 .5 2 .5 1.8 .5 2 .5 1.9 .5 1 .5 1 .5 .8 .5 .7 .5 .8 .5 .8 .5 .3 .5 .3 .5 .6 .5 .5 .5 1 .5 1 .5 1.2 .5 1.3 .5 .8 .5 .8 .5 0 .5 0 .5 0 .5 .1 .5 1.2 .5 1.2 .5 .8 .5 .8 .5 .8 .5 .9 .5 1.2 .5 1.2 .5 1.3 .5 1.2 .5 .9 .5 .9 .5 .2 .5 .3 .5 0 .5 0 .5 .1 .5 .1 .5 .8 .5 .9 .5 .6 .5 .6 .5 1.2 .5 1.1 .5-.3 .5-.3 .5 .4 .5 .3 1 2 1-.6 1 1.1 1 3.8 1 2.5 1-1.7 1-1 1-.6 1-1.1 1-.7 1 2.3 1 5.8 1 3 1-6.3 1-3.8 1-.6 1-1.7 1 .6 1 1.6 1 1.3 1 2.7 1-1.7 1-7 1-.6 1 5.5 1 4.7 1 3 1 1.4 1 1.2 1 .2 1-.7 1 1.6 1 .7 1-1.2 1-1.4 1 2.7 1 3.9 1-.5 1-4.7 1-3.3 1 2.5 1 1.6 1 1.3 1-1.7 1-1.8 1 .1 1-.3 1 2.2 1 4.4 1 1.3 1-2.8 1-.2 1 2.2 1-.9 1-.8 1 0 1-.3 1-.3 1-1.3 1-2 1-2.6 1-1 1 5.3 1 5.1 1 1 1-1.2 1-3.1 1-1.9 1 2.8 1 2.2 1-.5 1-1.3 1 .1 1-.9 1-1 1-.6 1-2 1-1.7 1 .6 1 2 1 2 1 1 1-1.7 1 .9 1 .2 1-.2 1 1.1 1 1.4 1 .7 1-2.1 1-2.7 1-1.4 1-1.9 1-1.5 1 .1 1 1.7 1-2 1-1.9 1 2.1 1 3.7 1-.4 1-1.8 1-.7 1 2.6 1 2.5 1-1.1 1-.4 1 1.4 1-1.1 1-2.9 1 0 1 .4 1 0 1-.1 1-1.5 1-1.3 1-.4 1 1.8 1 2.8 1-.7 1 1.1 1-1.5 1-3.6 1-1 1-.8 1 .3 1 1.8 1-.4 1-.1 1 .5 1 .9 1 .3 1-1.4 1-.5 1 1 1-.6 1 2.4 1 1.6 1-1.1 1-1.2 1-1 1 .4 1 3.1 1 3.4 1 .4 1-1.5 1-1.4 1-.8 1 1.9 1-.2 1-3.7 1 .1 1 1.6 1 .7 1-1.7 1-2.1 1 2.2 1 2.8 1-.2 1-1.4 1 .2 1 2.1 1 2.4 1 .5 1-2.9 1-7.3 1-6.9 1 3.3 1 8.1 1 5.8 1 1.6 1 .2 1-1.1 1-2.7 1-2.5 1-3.1 1-3 1 4 1 4.8 1-.2 1 0 1-2.1 1-2.1 1-.3 1 5.5 1 4.9 1 .5 1-.4 1 1.7 1 .8 1-1.3 1-1.2 1-2.8 1-1.4 1-1.8 1 1.4 1 3.5 1 1.4 1-2.2 1-1.4 1 1.6 1-.1 1 3.3 1 4.6 1 2.5 1 2 1-1.5 1-.3 1 4.1 1 1.9 1-1 1-1.8 1 .1 1-.2 1-1.6 1-1.5 1-1.1 1-.7 1 1 1 1.7 1 1.4 1 1.9 1 1.1 1 2.1 1 3.6 1 .8 1 2 1-1.8 1-2.4 1-.2 1 1 1-.4 1 .6 1 3.1 1 2.3 1 4.1 1 2.7 1-9.8 1-1.9 1 2.4 1-.1 1-.6 1 1.5 1 2.9 1-.2 1-2.5 1-.9 1 2.4 1 3.8 1 .6 1-.8 1-2.8 1-1.4 1-.1 1 1.9 1 .8 1-2 1-.8 1 3.1 1 5.1 1 .6 1-4 1-3 1-.2 1 2.3 1 2.8 1 1.2 1-2.4 1-2.2 1-.2 1-1.1 1 3 1 2 1 .2 1 4.1 1 3.1 1-6.5 1-.6 1-1.9 1-2.5 1 1.5 1 1.1 1-2.8 1 3.5 1 9.2 1 4.7 1-1.7 1-2.5 1-1 1 0 1-1.3 1-.6 1-1.7 1-1.9 1 .8 1 3.8 1 3.7 1 1.3 1-.8 1-.7 1 .7 1 .2 1-2.6 1-2 1-2.1 1-2.2 1 1.8 1 3.1 1 2.1 1 1.5 1-1 1-2 1 2.9 1 2.4 1-1.7 1-.3 1 2.8 1-.2 1 2.1 1 1.9 1-1.7 1-4.2 1 .3 1-.1 1-.1 1 .3 1 2.1 1 2.6 1-2.1 1-1.9 1 2.1 1 5 1-.3 1-4.1 1-.9 1 .4 1 2 1 2.5 1-2.2 1-2.2 1-1 1-1.7 1-.5 1-.3 1 1 1 7.3 1 9.6 1 7.3 1 .3 1-5.9 1-6.1 1-5.1 1-.8 1 1.2 1 6 1 6.7 1-2.7 1-2.7 1-1.1 1 .7 1 .2 1-.6 1-.7 1 .2 1 .1 1-1.3 1-1.4 1 .2 1 1.4 1 .8 1-.1 1-.7 1 1 1 3.6 1 2.3 1-1.7 1-.9 1 5.4 1 4 1 3.3 1 .9 1-2.3 1-5.7 1-1.6 1 2.3 1 .4 1 2.2 1-4.7 1-2.9 1 .7 1-.4 1 .3 1 3.6 1 2.7 1 .2 1-2.2 1 .1 1 1.9 1 3.8 1 1.8 1-.1 1-.5 1-2.1 1 .5 1 3.1 1 4.1 1 1 1-1.4 1-2.1 1-1.4 1 3.1 1-.6 1 .1 1-.7 1-.8 1-.4 1 2 1 6.9 1 4.8 1-1.8 1-6.7 1-5.7 1-1.1 1 .4 1 1.4 1 1.9 1 2 1 3.4 1 1.5 1-2.6 1-1.5 1-1.2 1-.2 1-.8 1-1.4 1 2.9 1 5.8 1 2.6 1-1 1 2 1 .9 1-7.3 1-8.5 1-2.8 1 2.1 1 3.4 1 .3 1 .7 1 2.2 1-1 1-1.9 1-1.3 1-1.7 1-1.4 1 1.4 1 6.6 1 3.9 1-.7 1-2.1 1 2 1 4.3 1 4.6 1 1.9 1-3.4 1-3.4 1-1.7 1 1.8 1-2.6 1-2.7 1-.1 1 2.7 1 2.4 1-1.5 1-4.1 1-1.6 1 5.5 1 1.8 1 .2 1-1.5 1-2.2 1 .3 1 2.9 1 1.5 1-.1 1 .3 1 .4 1 1.1 1-.7 1-.2 1 1.4 1 1.9 1 1.6 1-2.2 1-2.8 1 1.5 1 1.3 1-1.8 1-2.5 1-6.9 1-.3 1 3.8 1 .8 1 .3 1-.4 1-.5 1 .3 1 2.9 1 4 1 .3 1-1.6 1 .9 1 1.2 1-.4 1-3.6 1-4 1 .3 1 4 1 3.5 1 .5 1 2 1 1.7 1-1.5 1-2.9 1 .2 1-1.3 1-.2 1 1 1-.4 1-1.6 1 1.8 1 1.6 1-4.3 1 .2 1 3.2 1 1.4 1 .8 1 2.4 1-1.3 1-4.3 1-3.5 1-1.8 1 2.5 1 .1 1-3.3 1 .2 1 .2 1-.1 1-.5 1-1.2 1 5 1 10.4 1 1.5 1-.8 1-.6 1-1.8 1-3.1 1-2.2 1 1.3 1 3.2 1 1.1 1-2.8 1-2.1 1-3.2 1-1.4 1 0 1-4.6 1-.7 1 1.4 1 2.1 1 5.7 1 1.9 1-1.8 1-1.6 1-5.3 1 4.2 1 14.2 1 10.7 1-.8 1-10.5 1-10.5 1-5.8 1-3.6 1-2 1 1.1 1 .4 1 2.2 1 6.6 1 3.2 1 .3 1-2.2 1-.3 1 4.5 1 4.4 1-.9 1-4.9 1-3.6 1-2.4 1-1.2 1 .9 1 .2 1-4 1-2.3 1 2.2 1-.9 1 .8 1 2.6 1 4.2 1 5.2 1 3.1 1 .5 1-1.3 1-2.7 1-3.3 1-2.9 1-3.2 1-1.3 1 1 1 3.6 1 2.7 1-.7 1-1.4 1 1.6 1 2.1 1-1.4 1-5.6 1-2 1 3.6 1 2.6 1-3.5 1-.6 1 3.4 1 2.7 1-.6 1-2.1 1-.9 1 3.1 1 1.6 1-1.9 1 .7 1 2.5 1-.9 1-3.6 1-3.6 1-1.2 1 1.7 1 1.6 1-1 1-1.7 1 1.4 1 2.9 1 9 1 1.7 1-8 1-4.6 1 1.8 1 2 1 3.2 1 1.2 1-4.1 1-4.8 1-2.1 1 1.8 1 1.4 1-2.9 1-6.3 1-.6 1 6.3 1 4.6 1 4.1 1 1.5 1-3.1 1-1.8 1 .5 1-1.8 1-.8 1 2.4 1 1.4 1 .2 1 1.7 1 .1 1-.9 1-2.5 1-1.1 1 .6 1-1.9 1-4.4 1-1.4 1 3 1-.8 1-3.3 1 1.3 1 2.2 1 .1 1 .6 1 2.1 1 .2 1 1.8 1 .3 1-1.4 1 .9 1 0 1 1.9 1 6.5 1 3.2 1-3.2 1-5.1 1-5.2 1-1.7 1 2.2 1-.7 1 .8 1 0 1 .8 1 1.3 1-1.8 1-2 1 1 1 1.8 1 .9 1-1.5 1-3.8 1-5.1 1 .3 1 5.8 1-.4 1-3.5 1-1.3 1 1 1 .9 1-2.5 1-.5 1 .5 1 0 1-.6 1 .7 1 4.4 1 4.8 1 .8 1-2.7 1-4.1 1-4.4 1-2.6 1-.9 1-.3 1 3.1 1 4.2 1 .9 1 .5 1 1.1 1-1.9 1-1.1 1 1.6 1 2.1 1 4.2 1 .9 1-3.1 1-3.8 1-1.6 1-1.8 1 1.9 1 3.3 1-.7 1-.9 1 1.1 1 .8 1-.6 1 .7 1 .6 1-2.2 1-1.8 1 1.9 1 1.5 1-.2 1 1.4 1-.8 1-3.5 1 1 1 3.1 1 .7 1 2 1 6.4 1 3.8 1-6.6 1-4.5 1 1.8 1 4.1 1-1.2 1-3.1 1-3 1-.7 1 .7 1-1 1-1.4 1-1 1-.5 1-.3 1-1.1 1-1.1 1 1.6 1 4 1 3.7 1-2.1 1-1.5 1 .5 1 .2 1 1.8 1 .5 1-.4 1 .6 1 1.3 1-2 1-6.2 1-1 1 1.5 1 .7 1-.7 1-2.2 1 3.8 1 5 1 3.8 1 2.5 1 .3 1-3.9 1-4.2 1 .4 1 2.2 1 1.3 1-.8 1-5 1-5.1 1-2.6 1 2.7 1 3.6 1-.9 1 .4 1 2.8 1-2.5 1-2 1 2.4 1 4.3 1 2.5 1-.1 1-.8 1 .7 1 1.4 1-.5 1-3.1 1-5.9 1-2.3 1-.1 1 1.5 1 3.1 1 1.8 1-1.8 1-3.5 1-1.9 1 .5 1 1.5 1 2.2 1 2.9 1 1.1 1-1.7 1-1.3 1-.3 1-3.4 1-4.8 1 2 1 2.2 1-1.5 1 2 1 5.6 1 4.5 1-1.2L1143 738.8l-1 .1 -1-6.1 -1-7.1 -1 .3 -1 2.1 -1-.1 -1-.5 -1 2.9 -1-.4 -1-1.3 -1 .8 -1 1.8 -1 0 -1-2.9 -1-1.1 -1 .9 -1-.2 -1 1.3 -1 4.2 -1 2.7 -1 .2 -1-4.3 -1-6.2 -1 .3 -1 3.4 -1 5.5 -1 3.8 -1-.3 -1-.6 -1-1.2 -1 .2 -1 .9 -1-.9 -1-3 -1-3.1 -1 1.3 -1 2.6 -1-3.2 -1-.2 -1 2.3 -1-1.5 -1-4.2 -1-.3 -1 4 -1 3.9 -1 2.7 -1-1.5 -1-5 -1 .8 -1 6.2 -1 5 -1-1.7 -1-4.3 -1-2.4 -1-4.6 -1-4.2 -1 1.9 -1 .8 -1-.8 -1-1.7 -1 3.4 -1 4.1 -1 4.2 -1-.4 -1-1.7 -1-1.9 -1-1.7 -1-3 -1 .4 -1 4.3 -1 4.6 -1 .7 -1-.7 -1-3.4 -1-3.7 -1-1 -1 .2 -1-.3 -1-2.4 -1 1.3 -1 2.4 -1 .1 -1-2.3 -1 .1 -1 4 -1 3.5 -1-.3 -1-2.4 -1 .3 -1 4.6 -1 7 -1-2.3 -1-8.5 -1-5 -1-.8 -1-.5 -1 .1 -1 .8 -1 1.1 -1 1 -1 1.1 -1-1.7 -1-4.9 -1 1.9 -1 5.8 -1 .4 -1-3.9 -1 .3 -1-.1 -1-1.4 -1 1.5 -1-.2 -1-3.1 -1-4.6 -1-.6 -1 2.8 -1 5.8 -1 5.4 -1 0 -1-4.1 -1-2.2 -1 .5 -1 .5 -1-1.6 -1-2.7 -1-1.1 -1-1.2 -1-4 -1-2.4 -1 2 -1 2.2 -1 3.5 -1 3.2 -1 1.2 -1 1 -1 .5 -1-3.9 -1-5.2 -1-2.2 -1 3.4 -1-.5 -1-1 -1 1.4 -1 2.3 -1-.4 -1-1 -1-.7 -1 2.8 -1 1.6 -1-1.9 -1 .3 -1 1.7 -1 1.1 -1 3.3 -1-.9 -1-5.1 -1 1.2 -1 1.4 -1 2.2 -1-.9 -1 .3 -1-.3 -1-1.8 -1-.7 -1 1.3 -1 2 -1 6.6 -1 3.2 -1 3 -1-3.1 -1-6.5 -1-1.7 -1 .1 -1-.4 -1 .4 -1 .7 -1-.3 -1-2.2 -1-2.2 -1-2.1 -1-.5 -1-1.2 -1-.2 -1 5.6 -1 2.8 -1-3.7 -1 .6 -1 4.2 -1 1.8 -1 .8 -1 .2 -1 0 -1-1.2 -1 .1 -1-2 -1 4 -1 .9 -1-2.5 -1-.9 -1-1.4 -1 .7 -1 3.3 -1 1.8 -1-1.9 -1-3.6 -1-6.4 -1-3.2 -1 1.7 -1 4.3 -1 2.8 -1-1.2 -1-.8 -1 3.3 -1 5.1 -1 1.8 -1-.8 -1-2.3 -1-3.2 -1-1.9 -1 4.1 -1 7.6 -1-3.2 -1-10.5 -1-3.9 -1 0 -1 .1 -1 3.8 -1 2.4 -1 .8 -1 .7 -1 2.5 -1 2.4 -1 2.1 -1-2.9 -1-3.9 -1-1.5 -1-.9 -1-1.1 -1 1.6 -1 1.7 -1-.4 -1-3.2 -1-1.1 -1-.7 -1 3.3 -1-.2 -1-4.8 -1 .6 -1 6 -1 1 -1-3.3 -1-1.5 -1 .7 -1 2.4 -1 0 -1-3.9 -1-2.2 -1 2 -1 2.2 -1 2.6 -1 5.7 -1 2.9 -1 .7 -1-.3 -1-4.5 -1-7.6 -1-3.4 -1 .8 -1 1.1 -1 .3 -1-1 -1 1.1 -1 .7 -1-2.7 -1 2 -1 1.8 -1 1.8 -1 3.7 -1 6.6 -1 4.4 -1-6.5 -1-5.9 -1 .2 -1-.2 -1-1.9 -1-5.2 -1-4.6 -1-.4 -1 .9 -1 1.9 -1 9.7 -1 30.8 -1 26.4 -1 7.3 -1 1 -1-1.7 -1-13.3 -1-32.4 -1-23.7 -1 1.1 -1 2.4 -1 .5 -1-2.6 -1-4.5 -1-3.2 -1-2.4 -1 2.8 -1 3.5 -1 1.1 -1 .8 -1 2.9 -1 2.6 -1 4.7 -1-.1 -1-6.1 -1-2.5 -1 1.3 -1 2 -1 2.2 -1 1.9 -1 .9 -1-2.1 -1-9.1 -1-5.8 -1 .6 -1 4.2 -1 1.5 -1-2.3 -1 1 -1 .8 -1-2.4 -1-.6 -1 2.5 -1 3.1 -1 2.8 -1-1.3 -1-.8 -1 .7 -1-.4 -1-2 -1 1.2 -1 2.5 -1-1.2 -1-1.8 -1 .8 -1-.9 -1 .2 -1 3.3 -1 1.5 -1-2.7 -1-1.3 -1 .4 -1-1.5 -1-.8 -1-1 -1-2.4 -1-.5 -1 1.4 -1 6.3 -1 5 -1-1 -1-2.7 -1-1.5 -1-.6 -1-1.1 -1-1.6 -1-3.6 -1-3.3 -1-1.1 -1-.6 -1 1.9 -1 .6 -1-3 -1 .8 -1 6.5 -1 3.3 -1-.6 -1-1.6 -1-1.2 -1 2 -1 1.2 -1-.7 -1-1.9 -1-1.2 -1 .8 -1 .2 -1 1.9 -1-.6 -1-.7 -1 2.5 -1-2.4 -1-6.4 -1 2.8 -1 4.6 -1 1.1 -1-4 -1-4.8 -1-3 -1 .7 -1 2.2 -1 3.7 -1 1.1 -1-.7 -1-1.2 -1-.6 -1-.5 -1 .1 -1 1.6 -1 3.3 -1 .8 -1 .6 -1-2.9 -1-5.1 -1-.8 -1 1.7 -1 .1 -1-4.3 -1-6.1 -1-1.3 -1 1.4 -1 .9 -1 .5 -1 .7 -1 1.4 -1 .9 -1 1.2 -1-.6 -1-5.5 -1-4 -1 1.3 -1 8.5 -1 5.9 -1 1.6 -1-1 -1 .2 -1-3.1 -1-7.8 -1-3.5 -1 1.7 -1 .9 -1 .1 -1 4 -1 4.5 -1 2.5 -1-2.3 -1-3.7 -1-4.8 -1-3.1 -1-.1 -1 2.3 -1 2.7 -1 1.9 -1 3.1 -1 4.8 -1-3.1 -1-6.9 -1-3.5 -1-1 -1 .9 -1 1 -1-.5 -1-.9 -1-.6 -1 .2 -1 3.3 -1 2.9 -1 2.2 -1-3.2 -1-4.4 -1 .5 -1 1.9 -1 2.2 -1 0 -1-4.4 -1-5.2 -1-3.2 -1-.8 -1 .7 -1 .8 -1-1.7 -1-3.7 -1-1.9 -1 1.5 -1 1.5 -1 2.8 -1 2.4 -1-3.7 -1-.4 -1-1.6 -1 2 -1 5 -1 2.1 -1-.6 -1-1.1 -1-6.5 -1-3.6 -1 .4 -1 2.7 -1-1.8 -1-3.3 -1-.9 -1 .3 -1 1 -1 .8 -1 .1 -1-.2 -1 .1 -1 .7 -1-.5 -1-1.2 -1-1 -1-1.1 -1 2.2 -1 1.2 -1-.1 -1 3.2 -1 .3 -1-6.6 -1-5.6 -1 .8 -1 1.4 -1 5.6 -1 6.4 -1 3.4 -1 .8 -1-4.6 -1-7.9 -1-7.3 -1-.1 -1 1 -1-1.3 -1-.4 -1-.4 -1 .3 -1 1.7 -1 2.2 -1-.6 -1-3.8 -1-.5 -1 3.4 -1 .2 -1-2.4 -1-2.4 -1 1.7 -1 2.7 -1-3 -1-5.1 -1-1 -1 .4 -1 1.6 -1 .5 -1 2.2 -1 1.6 -1-.2 -1-.9 -1-1.4 -1-1.2 -1-1.1 -1-2 -1-1.2 -1-1 -1 2 -1 .9 -1-3.3 -1-4.1 -1-.1 -1 1.4 -1 2.1 -1 4.3 -1-1 -1-2.7 -1-.2 -1 2.7 -1 1.3 -1-.7 -1-1.5 -1-2.8 -1-3.1 -1 .4 -1 3.1 -1 .7 -1-1.6 -1-.2 -1 .1 -1 1.3 -1 3.5 -1 4.1 -1-3.7 -1-9.9 -1-5.9 -1-.7 -1 1.5 -1 .1 -1 2.4 -1 .7 -1 2.6 -1 6.3 -1-2.4 -1-1.4 -1 2 -1 .6 -1-1.5 -1-2.3 -1 2.1 -1-.7 -1-4.7 -1 1.7 -1 3.3 -1 .8 -1-1.3 -1-.8 -1-1 -1-3.2 -1-3.4 -1-1.6 -1 .6 -1 .5 -1-.6 -1-1.9 -1 .6 -1 1.6 -1 .8 -1 2.8 -1-.3 -1-2.6 -1-2.2 -1-2.9 -1 3 -1 .3 -1 .3 -1 1.5 -1-1.8 -1-3.5 -1-1.4 -1 1.6 -1 7.8 -1-.7 -1-2.3 -1-2.9 -1-5.2 -1-1.1 -1 1.1 -1-1.8 -1 1 -1 1.1 -1-.3 -1 1.1 -1-2.8 -1-3.1 -1-.9 -1 .9 -1-1 -1-3 -1-1.6 -1-1.5 -1 2.7 -1 2.6 -1-.6 -1-.2 -1-.7 -1 .1 -1 1.8 -1 .9 -1-3.3 -1-4.2 -1-.2 -1 1.7 -1-.7 -1-3 -1-5.5 -1-2.3 -1 .1 -1 .8 -1 2.6 -1 3.4 -1-.7 -1-2.2 -1-1.6 -1 .3 -1 1.6 -1 1.5 -1 .7 -1 1 -1 1.4 -1-1.1 -1-1.8 -1-1.6 -1-3.4 -1-4.3 -1 .3 -1 .3 -1 0 -1-.2 -1-.5 -1-4.3 -1-4.6 -1 2.5 -1 2.9 -1 2 -1 3.1 -1 2.5 -1 .7 -1-2.1 -1-6.6 -1-5.1 -1-3.5 -1 4.3 -1 5.5 -1 4.2 -1 1 -1-1.6 -1-2.7 -1-3.3 -1 2.3 -1 2.4 -1-.9 -1-2.4 -1 1.8 -1 .3 -1 .3 -1-4.8 -1-.9 -1 5.7 -1 1 -1-.5 -1 .1 -1-.2 -1 1.5 -1 1.3 -1-2.1 -1-2.9 -1-1.1 -1-.6 -1 0 -1 1.5 -1-.6 -1-1.2 -1-1.5 -1-1 -1 .9 -1 2.1 -1-.8 -1 .5 -1 .1 -1 .4 -1 .8 -1-.3 -1-.3 -1 0 -1-.9 -1 1.6 -1-.2 -1-2 -1 .2 -1-1.5 -1-.1 -1 .3 -1 1.6 -1 1.5 -1-.7 -1 .1 -1 1.7 -1 .9 -1-.1 -1-1.6 -1-.1 -1 1 -1 .9 -1-.7 -1-.4 -1 .5 -1-.1 -1 .4 -1-2.4 -1-2.7 -1 .5 -1 2.1 -1-2.6 -1-2.3 -1 2.6 -1 3.8 -1 1.6 -1 3.9 -1 1.7 -1-1.1 -1 0 -1 .1 -1-1.1 -1-2.5 -1 2.3 -1 .9 -1-1.3 -1-2.2 -1-.9 -1 .5 -1 .1 -1 1 -1-.9 -1 .7 -1 .7 -1 .3 -1 1.8 -1 .9 -1-1.6 -1-2 -1 .7 -1 2.1 -1 4.5 -1-1.9 -1-3.1 -1-2.7 -1-1.6 -1 2 -1 1.1 -1-1.2 -1 .8 -1-.5 -1 .5 -1 .8 -1 .4 -1 .6 -1 2.9 -1 2.6 -1-1.3 -1-4.8 -1-1.3 -1-1.3 -1-1.2 -1 3.4 -1 3.4 -1-1.4 -1-5.4 -1-3.9 -1 3.3 -1 5.9 -1 2.8 -1-3.9 -1-4.4 -1-.1 -1 .2 -1-1.3 -1-1.5 -1 .1 -1-.3 -1 .4 -1-1.6 -1-3.3 -1-3 -1-4.4 -1-.6 -1 5.6 -1 1.2 -1-1.4 -1-.3 -1-.7 -1-1.9 -1-.9 -1 1 -1 4 -1 5.6 -1-2.7 -1-5.5 -1-2.8 -1 .4 -1 1.7 -1-1.1 -1 0 -1 3 -1-1.1 -1-3.8 -1-2 -1 0 -1 1 -.5 .4 -.5 .4 -.5-.9 -.5-1 -.5-1.6 -.5-1.7 -.5-1.2 -.5-1.2 -.5-.6 -.5-.6 -.5-.1 -.5-.1 -.5-.6 -.5-.5 -.5-.6 -.5-.6 -.5-.2 -.5-.2 -.5-.7 -.5-.8 -.5-1.6 -.5-1.6 -.5-1.4 -.5-1.3 -.5-1 -.5-1.1 -.5-1.4 -.5-1.3 -.5 0 -.5 0 -.5 1.3 -.5 1.2 -.5-.1 -.5-.2 -.5-1.6 -.5-1.7 -.5-1.8 -.5-1.8 -.5-1.4 -.5-1.3 -.5-1.1 -.5-1.1 -.5-1.1 -.5-1.2 -.5-.7 -.5-.8 -.5-.7 -.5-.7 -.5-1.4 -.5-1.6 -.5-1.4 -.5-1.6 -.5-1.5 -.5-1.7 -.5-1.7 -.5-1.7 -.5-2.4 -.5-2.5 -.5-1.9 -.5-2 -.5-2.3 -.5-2.2 -.5-1.9 -.5-1.9 -.5-2.1 -.5-2.1 -.5-2.4 -.5-2.4 -.5-2.2 -.5-2.2 -.5-2.2 -.5-2.2 -.5-1.9 -.5-1.9 -.5-2.2 -.5-2.3 -.5-2.3 -.5-2.4 -.5-2.6 -.5-2.5 -.5-2.6 -.5-2.6 -.5-2.8 -.5-2.8 -.5-2.7 -.5-2.8 -.5-2.8 -.5-3 -.5-3.2 -.5-3.4 -.5-3.4 -.5-3.6 -.5-3.7 -.5-3.8 -.5-4.1 -.5-4.3 -.5-4.4 -.5-4.8 -.5-5.3 -.5-5.7 -.5-6.1 -.5-6.4 -.5-6.8 -.5-7 -.5-7.3 -.5-7.4 -.5-7.6 -.5-7.9 -.5-8.5 -.5-9.1 -.5-9.8 -.5-10.2 -.5-10.7 -.5-11.4 -.5-12.2 -.5-13 -.5-13.6 -.5-14.2 -.5-15.3 -.5-16.2 -.5-16.5 -.5-15.8 -.5-14.8 -.5-14.5 -.5-14.9 -.5-16.1 -.5-17.5 -.5-18.3Z" fill="#B3C98F" stroke="#B3C98F" stroke-width="3.6" stroke-linejoin="round"/>
<path d="M206 107.6l.5 18.3 .5 17.5 .5 16.2 .5 14.9 .5 14.5 .5 14.9 .5 15.8 .5 16.6 .5 16.3 .5 15.3 .5 14.3 .5 13.7 .5 13 .5 12.3 .5 11.4 .5 10.7 .5 10.3 .5 9.8 .5 9.2 .5 8.5 .5 8 .5 7.6 .5 7.5 .5 7.3 .5 7.1 .5 6.8 .5 6.4 .5 6.1 .5 5.8 .5 5.3 .5 4.8 .5 4.5 .5 4.2 .5 4 .5 3.9 .5 3.6 .5 3.5 .5 3.4 .5 3.3 .5 3.2 .5 3 .5 2.8 .5 2.7 .5 2.7 .5 2.6 .5 2.6 .5 2.4 .5 2.4 .5 2.4 .5 2.4 .5 2.4 .5 2.4 .5 2.2 .5 2.1 .5 1.9 .5 1.8 .5 2.1 .5 2.1 .5 2.4 .5 2.3 .5 2.2 .5 2.3 .5 1.9 .5 2 .5 1.8 .5 1.8 .5 2.1 .5 2 .5 1.9 .5 1.8 .5 2.1 .5 2.2 .5 1.7 .5 1.8 .5 1.3 .5 1.3 .5 1.8 .5 1.8 .5 1.9 .5 1.8 .5 .9 .5 .8 .5 .7 .5 .7 .5 .8 .5 .7 .5 .4 .5 .4 .5 .6 .5 .6 .5 1.1 .5 1 .5 1.4 .5 1.3 .5 1 .5 .9 .5 .1 .5 .1 .5 .1 .5 .1 .5 1.1 .5 1.2 .5 .6 .5 .6 .5 .7 .5 .6 .5 1 .5 1.1 .5 1.1 .5 1.1 .5 .8 .5 .9 .5 .3 .5 .2 .5 .1 .5 .1 .5 .2 .5 .1 .5 .9 .5 .9 .5 .7 .5 .6 .5 1.1 .5 1.1 .5-.3 .5-.4 .5 .4 .5 .2 1 2 1-.6 1 1.2 1 3.8 1 2.3 1-2.1 1-1.4 1-.9 1-1.3 1-.7 1 2.3 1 6.1 1 3.3 1-5.9 1-3.5 1-.3 1-1.8 1 .7 1 1.7 1 1.5 1 3 1-1.3 1-6.9 1-.5 1 5.4 1 4.4 1 2.8 1 1.3 1 1.2 1 .5 1-.4 1 1.9 1 1 1-1 1-1.3 1 2.7 1 3.7 1-.7 1-5 1-3.7 1 2.1 1 1.4 1 1.2 1-1.5 1-1.5 1 .2 1-.1 1 2.4 1 4.7 1 1.8 1-2.4 1 .1 1 2.6 1-.7 1-.8 1-.2 1-.5 1-.4 1-1.2 1-1.9 1-2.8 1-1.3 1 4.9 1 4.9 1 1 1-.9 1-2.5 1-1.3 1 3.4 1 2.4 1-.5 1-1.5 1-.2 1-1.2 1-1.6 1-1.1 1-2.4 1-1.9 1 .6 1 2.2 1 2.2 1 1.2 1-1.5 1 1.1 1 .2 1-.1 1 1.1 1 1.5 1 .8 1-1.8 1-2.6 1-1.2 1-1.9 1-1.6 1 .1 1 1.9 1-1.9 1-1.8 1 2.1 1 3.7 1-.4 1-1.9 1-.9 1 2.3 1 2.3 1-1.2 1-.4 1 1.5 1-.8 1-2.6 1 .2 1 .2 1-.5 1-.7 1-2 1-1.6 1-.5 1 2 1 3.1 1-.5 1 1.4 1-1.3 1-3.5 1-1.1 1-.6 1 .6 1 2.1 1-.3 1-.2 1 .4 1 .7 1 .1 1-1.5 1-.8 1 .9 1-.4 1 2.6 1 2 1-1 1-1.5 1-1.3 1 .2 1 3 1 3.6 1 .7 1-1.3 1-1.1 1-.5 1 2.2 1-.1 1-3.8 1-.3 1 1.3 1 .5 1-1.8 1-2.2 1 2.3 1 2.7 1 0 1-1.3 1 .4 1 2.2 1 2.7 1 .8 1-2.5 1-7 1-6.5 1 3.4 1 7.8 1 5.4 1 1.1 1-.2 1-1.4 1-2.6 1-2.3 1-2.5 1-2.4 1 4.5 1 5 1-.5 1-.4 1-2.5 1-2.7 1-.7 1 5.2 1 5 1 .8 1 0 1 2 1 .7 1-1.4 1-1.1 1-2.7 1-1 1-1.8 1 1.1 1 3.1 1 1.2 1-2.1 1-.9 1 2.3 1 .4 1 3.5 1 4.3 1 1.9 1 1.2 1-2 1-.5 1 4.1 1 1.9 1-.9 1-1.7 1 .2 1 0 1-1.6 1-1.7 1-1.4 1-1 1 1.1 1 2 1 1.7 1 2.2 1 1.2 1 2 1 3.2 1 .4 1 1.6 1-1.9 1-2.6 1-.2 1 .7 1-.7 1 .2 1 3 1 2.2 1 4.1 1 2.8 1-9.7 1-1.8 1 2.2 1-.3 1-.6 1 1.7 1 3.6 1 .3 1-2.1 1-.6 1 2.5 1 3.9 1 .7 1-.9 1-3.1 1-1.8 1-.3 1 1.9 1 .8 1-2 1-1 1 3 1 4.9 1 .6 1-3.8 1-2.9 1 .1 1 2.4 1 2.9 1 1.4 1-2.3 1-2.1 1 0 1-1 1 3 1 1.6 1-.2 1 3.7 1 3 1-6.3 1-.4 1-1.8 1-2.6 1 1.4 1 1.2 1-2.6 1 3.8 1 9.5 1 4.9 1-1.6 1-2.6 1-1.4 1-.3 1-1.7 1-.7 1-1.9 1-1.9 1 1 1 4 1 3.8 1 1.1 1-1.2 1-1.2 1 .3 1 0 1-2.5 1-1.8 1-1.9 1-2 1 1.9 1 3.1 1 2.2 1 1.6 1-.8 1-2.2 1 2.6 1 2.2 1-1.8 1-.3 1 2.9 1-.1 1 2.2 1 1.9 1-1.6 1-4.2 1 .2 1-.2 1-.2 1-.1 1 1.6 1 1.9 1-2.6 1-1.8 1 2.6 1 5.6 1 .2 1-4.1 1-1.1 1 .3 1 1.8 1 2.5 1-2.2 1-2 1-1 1-1.8 1-.6 1-.6 1 .6 1 6.9 1 9.2 1 7.1 1 .1 1-5.8 1-6.2 1-5.1 1-.9 1 1.3 1 6.3 1 7 1-2.5 1-2.8 1-1.4 1 .2 1-.2 1-.8 1-.6 1 .4 1 .3 1-1.2 1-1.2 1 .5 1 1.5 1 1.1 1 .2 1-.5 1 1.1 1 3.3 1 2 1-2 1-1 1 5.5 1 4.1 1 3.4 1 .8 1-2.4 1-5.8 1-1.8 1 2.1 1 .2 1 2 1-4.9 1-3 1 .8 1-.2 1 .5 1 3.8 1 3 1 .3 1-2.3 1-.3 1 1.3 1 3.2 1 1.4 1-.2 1-.3 1-1.7 1 1 1 3.6 1 4.4 1 1.1 1-1.5 1-2.4 1-1.6 1 3 1-.5 1 .3 1-.4 1-.6 1 0 1 2.2 1 7.1 1 4.8 1-2.1 1-7.3 1-6.5 1-1.7 1 .1 1 1.4 1 2.4 1 2.7 1 4.1 1 1.9 1-2.7 1-2.1 1-1.9 1-.8 1-1 1-1.1 1 3.4 1 6.2 1 2.9 1-.9 1 2.1 1 .8 1-7.3 1-8.7 1-2.8 1 2.3 1 3.6 1 .8 1 1.2 1 2.6 1-.7 1-1.9 1-1.4 1-1.7 1-1.4 1 1.5 1 6.6 1 3.9 1-.7 1-2.2 1 2 1 4.4 1 4.8 1 2.2 1-3.1 1-2.9 1-1.4 1 2.1 1-2.7 1-2.7 1-.1 1 2.8 1 2.4 1-1.5 1-4.2 1-1.7 1 5.4 1 1.6 1 .1 1-1.6 1-2.3 1 .2 1 2.7 1 1.4 1-.1 1 .4 1 .6 1 1.2 1-.7 1-.2 1 1.3 1 1.8 1 1.7 1-2.2 1-2.8 1 1.3 1 1.1 1-1.8 1-2.6 1-6.9 1-.2 1 4 1 1.1 1 .6 1-.2 1-.5 1 .3 1 2.7 1 3.8 1 .3 1-1.6 1 1 1 1.3 1-.4 1-3.5 1-4 1 .3 1 4.1 1 3.7 1 .9 1 2.3 1 1.9 1-1.4 1-3.1 1-.1 1-1.7 1-.6 1 .8 1-.6 1-1.8 1 1.5 1 1.1 1-4.8 1 0 1 3.2 1 1.5 1 .9 1 2.5 1-1 1-4.1 1-3.2 1-1.6 1 2.6 1 .1 1-3.3 1 .2 1 .1 1-.2 1-.6 1-1.4 1 4.9 1 10.3 1 1.6 1-.7 1-.5 1-1.6 1-2.8 1-2 1 1.4 1 3.4 1 1.2 1-2.5 1-2.1 1-3.2 1-1.6 1-.2 1-4.7 1-.7 1 1.4 1 1.9 1 5.6 1 1.7 1-2 1-1.7 1-5.2 1 4.5 1 14.5 1 10.9 1-1 1-11 1-11.1 1-6.3 1-3.6 1-1.8 1 1.4 1 .7 1 2.3 1 6.5 1 2.9 1 .1 1-2.2 1 0 1 4.9 1 4.4 1-1 1-5.4 1-3.9 1-2.3 1-.8 1 1.4 1 .8 1-3.7 1-2.1 1 2 1-1.1 1 .5 1 2.5 1 4.3 1 5.5 1 3.4 1 .9 1-1.1 1-2.7 1-3.5 1-3.3 1-3.7 1-1.8 1 .8 1 3.7 1 2.8 1-.5 1-1.5 1 1.4 1 1.9 1-1.3 1-5.4 1-1.7 1 4 1 2.8 1-3.3 1-.5 1 3.3 1 2.6 1-.9 1-2.4 1-1.1 1 3 1 1.8 1-1.7 1 1 1 2.7 1-1.1 1-3.9 1-3.8 1-1.3 1 1.8 1 1.9 1-.8 1-1.6 1 1.5 1 2.8 1 8.7 1 1.4 1-8.3 1-4.8 1 1.8 1 2.1 1 3.1 1 1.1 1-3.9 1-4.5 1-1.5 1 2.2 1 1.6 1-2.9 1-6.6 1-.9 1 6 1 4.4 1 3.9 1 1.4 1-3.2 1-1.9 1 .4 1-1.8 1-1 1 2.2 1 1.2 1 .2 1 2 1 .4 1-.6 1-2.4 1-1 1 .9 1-1.8 1-4.4 1-1.7 1 2.5 1-1.1 1-3.1 1 1.8 1 2.5 1 .1 1 .4 1 2 1 .3 1 1.8 1 .1 1-1.9 1 .2 1-.4 1 1.9 1 7 1 4 1-2.6 1-4.7 1-4.9 1-1.6 1 2.5 1-.5 1 .9 1-.1 1 .5 1 .9 1-2 1-2.2 1 1 1 2 1 .9 1-1.7 1-4 1-5.3 1 .4 1 5.8 1-.5 1-3.8 1-1.7 1 .5 1 .7 1-2.6 1-.3 1 .9 1 .7 1-.1 1 1.1 1 4.4 1 4.8 1 .9 1-2.7 1-4 1-4.5 1-2.6 1-1 1-.4 1 3 1 4.1 1 .7 1 .2 1 .9 1-1.9 1-.9 1 1.7 1 2.5 1 4.2 1 .8 1-3.3 1-4 1-1.7 1-1.9 1 1.8 1 3.3 1-.9 1-.7 1 1.3 1 1.1 1-.6 1 .5 1 .3 1-2.4 1-1.8 1 2.1 1 1.9 1 .1 1 1.7 1-.7 1-3.3 1 1.2 1 3.1 1 .6 1 1.9 1 6.3 1 3.5 1-7 1-4.9 1 1.8 1 4.2 1-.9 1-2.9 1-2.9 1-.7 1 .6 1-1 1-1.6 1-1.4 1-.8 1-.6 1-.9 1-.7 1 2 1 4.1 1 3.7 1-2.1 1-1.3 1 .7 1 .5 1 2 1 .5 1-.5 1 .3 1 1 1-2.3 1-6.3 1-1.1 1 1.7 1 1 1-.5 1-2 1 3.9 1 4.9 1 3.7 1 2.4 1 .1 1-4.2 1-4.4 1 .3 1 2 1 1.1 1-1.1 1-5.2 1-5 1-2.4 1 3.1 1 4 1-.4 1 .6 1 3 1-2.5 1-2.4 1 2 1 4 1 2.5 1 .4 1-.2 1 1 1 1.4 1-.9 1-3.8 1-6.4 1-2.6 1-.2 1 1.6 1 3.4 1 2.3 1-1.2 1-3.1 1-1.7 1 .6 1 1.4 1 2.2 1 2.8 1 1 1-1.9 1-1.5 1-.6 1-3.6 1-5.1 1 1.6 1 2.1 1-1.3 1 2.3 1 5.8 1 4.7 1-1.1L1143 743.2l-1 0 -1-6.2 -1-7.4 -1 .1 -1 1.9 -1 0 -1-.3 -1 3.3 -1-.1 -1-1.1 -1 1 -1 2 -1 .1 -1-2.8 -1-1.1 -1 .9 -1-.2 -1 1.1 -1 3.8 -1 2.2 -1-.4 -1-4.6 -1-6.3 -1 .4 -1 3.7 -1 6.1 -1 4.3 -1 .2 -1-.5 -1-1.6 -1-.4 -1 .4 -1-1 -1-2.6 -1-2.7 -1 1.7 -1 2.6 -1-3.3 -1-.5 -1 1.9 -1-2 -1-4.6 -1-.5 -1 4 -1 4 -1 3 -1-1.3 -1-4.8 -1 .9 -1 6.5 -1 5.2 -1-1.5 -1-4.2 -1-2.2 -1-4.7 -1-4.2 -1 1.7 -1 .6 -1-1.1 -1-1.8 -1 3.3 -1 4.3 -1 4.5 -1-.1 -1-1.4 -1-1.8 -1-1.7 -1-3.2 -1 .2 -1 3.9 -1 4.5 -1 .7 -1-.7 -1-3.6 -1-4.1 -1-1.3 -1 .1 -1-.2 -1-2 -1 1.6 -1 2.6 -1 .2 -1-2.2 -1 .1 -1 3.9 -1 3.3 -1-.6 -1-2.5 -1 .4 -1 4.9 -1 7.3 -1-2 -1-8.2 -1-4.9 -1-.8 -1-.6 -1 0 -1 .7 -1 .9 -1 .7 -1 .8 -1-2 -1-5.2 -1 1.9 -1 6 -1 .7 -1-3.7 -1 .2 -1-.3 -1-1.7 -1 1.5 -1-.2 -1-2.9 -1-4.6 -1-.6 -1 3 -1 6 -1 5.6 -1 .1 -1-4.2 -1-2.4 -1 .2 -1 .4 -1-1.6 -1-2.5 -1-.9 -1-1 -1-3.8 -1-2.3 -1 2.1 -1 2.3 -1 3.6 -1 3.2 -1 1.2 -1 .9 -1 .5 -1-4 -1-5.3 -1-2.5 -1 2.9 -1-1.1 -1-1.4 -1 1.2 -1 2.3 -1-.1 -1-.7 -1-.2 -1 3 -1 1.7 -1-1.9 -1 .4 -1 1.8 -1 1.4 -1 3.4 -1-.9 -1-5.2 -1 1.1 -1 1.6 -1 2.4 -1-.5 -1 .6 -1-.2 -1-1.9 -1-.9 -1 1.1 -1 1.8 -1 6.3 -1 2.8 -1 2.3 -1-3.8 -1-6.9 -1-1.8 -1 .6 -1 .2 -1 .9 -1 .9 -1-.4 -1-2.2 -1-2 -1-2 -1-.5 -1-1.5 -1-.7 -1 5.5 -1 3 -1-3.2 -1 .8 -1 4.3 -1 1.7 -1 .6 -1 0 -1-.1 -1-1.5 -1-.2 -1-2.2 -1 3.9 -1 1.1 -1-2.3 -1-.7 -1-1.4 -1 .7 -1 3.5 -1 2 -1-1.8 -1-3.5 -1-6.2 -1-2.9 -1 2 -1 4.6 -1 2.9 -1-1.5 -1-1.2 -1 2.7 -1 4.8 -1 1.7 -1-.8 -1-2.3 -1-3.2 -1-1.9 -1 4.2 -1 8 -1-3 -1-10.1 -1-3.8 -1-.1 -1 0 -1 3.6 -1 2.1 -1 .7 -1 .8 -1 2.7 -1 2.7 -1 2.2 -1-3 -1-4.2 -1-1.8 -1-1 -1-1 -1 1.8 -1 2 -1-.2 -1-3 -1-1 -1-.8 -1 3.2 -1-.6 -1-5.1 -1 .3 -1 5.9 -1 .8 -1-3.1 -1-1.3 -1 .8 -1 2.3 -1-.2 -1-4 -1-2 -1 2.5 -1 2.7 -1 3.1 -1 5.8 -1 2.9 -1 .4 -1-.5 -1-5 -1-7.8 -1-3.5 -1 .9 -1 1.4 -1 .6 -1-.9 -1 1 -1 .4 -1-3.3 -1 1.4 -1 1.4 -1 1.7 -1 4 -1 7 -1 4.6 -1-6.6 -1-6.2 -1 0 -1-.3 -1-1.7 -1-4.9 -1-4.5 -1-.5 -1 .6 -1 1.6 -1 9.4 -1 31 -1 26.8 -1 7.9 -1 1.5 -1-1.5 -1-13.4 -1-32.8 -1-24 -1 1 -1 2.5 -1 .7 -1-2.4 -1-4.4 -1-3 -1-2.5 -1 2.9 -1 3.6 -1 1.3 -1 1 -1 3 -1 2.5 -1 4.5 -1-.3 -1-6.3 -1-2.6 -1 1.1 -1 1.7 -1 2 -1 1.8 -1 .8 -1-2.2 -1-9 -1-5.8 -1 .8 -1 4.3 -1 1.6 -1-2.2 -1 1 -1 .9 -1-2.4 -1-.7 -1 2.3 -1 2.8 -1 2.6 -1-1.6 -1-.9 -1 .5 -1-.5 -1-1.9 -1 1.4 -1 3.1 -1-.8 -1-1.5 -1 .9 -1-.7 -1 .5 -1 3.7 -1 1.8 -1-2.3 -1-1.2 -1 .4 -1-1.7 -1-1.1 -1-1.3 -1-2.6 -1-.7 -1 1.4 -1 6.3 -1 5 -1-1.1 -1-2.8 -1-1.6 -1-.7 -1-1 -1-1.5 -1-3.3 -1-3.3 -1-1.2 -1-.7 -1 1.6 -1 .4 -1-3.2 -1 .6 -1 6.5 -1 3.3 -1-.5 -1-1.4 -1-1.1 -1 2.1 -1 1.2 -1-.8 -1-1.9 -1-1.1 -1 1 -1 .1 -1 1.8 -1-.7 -1-.9 -1 2.5 -1-2.3 -1-6.2 -1 2.9 -1 4.7 -1 1.2 -1-3.8 -1-4.7 -1-2.8 -1 .7 -1 2.2 -1 3.8 -1 1.1 -1-.8 -1-1.2 -1-.5 -1-.6 -1-.1 -1 1.3 -1 2.8 -1 .5 -1 .3 -1-3.1 -1-5.2 -1-.8 -1 1.8 -1 .1 -1-4.3 -1-6.1 -1-1.4 -1 1.4 -1 1 -1 .6 -1 .6 -1 1.1 -1 .5 -1 .7 -1-1.1 -1-5.8 -1-4.1 -1 1.3 -1 8.6 -1 6 -1 1.6 -1-.9 -1 0 -1-3.4 -1-8.2 -1-4 -1 1.5 -1 1 -1 .7 -1 4.7 -1 5.1 -1 2.5 -1-2.6 -1-4.3 -1-5.5 -1-3.7 -1-.1 -1 2.6 -1 3.3 -1 2.7 -1 3.7 -1 5.1 -1-3.1 -1-7.1 -1-3.8 -1-1.2 -1 .6 -1 .8 -1-.7 -1-1.1 -1-.6 -1 .6 -1 3.5 -1 3 -1 2.1 -1-3.5 -1-4.9 -1 .1 -1 1.4 -1 2 -1 .1 -1-3.9 -1-4.6 -1-2.7 -1-.3 -1 .7 -1 .7 -1-1.9 -1-3.9 -1-2.2 -1 1.2 -1 1.5 -1 2.9 -1 2.6 -1-3.5 -1-.2 -1-1.4 -1 2.2 -1 5.2 -1 2.1 -1-.5 -1-1.2 -1-6.6 -1-3.7 -1 .5 -1 3 -1-1.5 -1-3 -1-1 -1 .1 -1 .7 -1 .6 -1-.2 -1-.4 -1 0 -1 .5 -1-.7 -1-1.3 -1-1.2 -1-.9 -1 2.6 -1 1.7 -1 .3 -1 3.3 -1-.1 -1-6.8 -1-5.9 -1 .7 -1 1.5 -1 5.7 -1 6.4 -1 3.4 -1 1 -1-4.5 -1-7.5 -1-6.9 -1 .3 -1 1.2 -1-1 -1-.4 -1-.4 -1 .2 -1 1.6 -1 2.2 -1-.5 -1-3.5 -1-.4 -1 3.4 -1-.3 -1-3.1 -1-2.8 -1 1.7 -1 3.1 -1-2.4 -1-4.5 -1-.7 -1 .6 -1 1.8 -1 .4 -1 2.3 -1 1.5 -1-.2 -1-1 -1-1.5 -1-1.2 -1-1.3 -1-1.8 -1-.9 -1-.8 -1 2.1 -1 .9 -1-3.5 -1-4.2 -1-.2 -1 1.5 -1 1.9 -1 4 -1-1.2 -1-2.8 -1 .1 -1 3 -1 1.8 -1-.3 -1-1.3 -1-2.9 -1-3.3 -1 .3 -1 3 -1 .8 -1-1.4 -1 .2 -1 .4 -1 1.7 -1 3.6 -1 4 -1-3.9 -1-10.2 -1-6.2 -1-.9 -1 1.5 -1 .1 -1 2.5 -1 .6 -1 2.3 -1 6.2 -1-2.2 -1-1.1 -1 2.5 -1 .8 -1-1.4 -1-2.4 -1 1.9 -1-.8 -1-4.8 -1 1.5 -1 3.2 -1 .6 -1-1.5 -1-1 -1-1.1 -1-3.1 -1-3.4 -1-1.4 -1 .8 -1 .5 -1-.6 -1-1.9 -1 .8 -1 2 -1 1.1 -1 2.9 -1-.4 -1-2.7 -1-2.4 -1-3.1 -1 2.6 -1-.3 -1-.3 -1 1.3 -1-1.8 -1-3.2 -1-1.3 -1 1.5 -1 7.7 -1-.8 -1-2.3 -1-2.9 -1-5 -1-.7 -1 1.4 -1-1.5 -1 1.1 -1 1.1 -1 0 -1 1.4 -1-2.4 -1-2.7 -1-.8 -1 .8 -1-1.3 -1-3.3 -1-1.9 -1-1.5 -1 2.8 -1 3 -1-.3 -1-.3 -1-.8 -1-.1 -1 1.7 -1 .8 -1-3.4 -1-4.1 -1 .1 -1 2.2 -1 0 -1-2.4 -1-5.2 -1-2.5 -1-.4 -1 .2 -1 2 -1 3.2 -1-.4 -1-1.8 -1-1.3 -1 .2 -1 1.4 -1 1.2 -1 .8 -1 1.1 -1 1.4 -1-1.3 -1-2.3 -1-2 -1-3.3 -1-4.1 -1 .7 -1 .8 -1 .6 -1 .1 -1-.3 -1-4.4 -1-5.1 -1 1.9 -1 2.4 -1 1.7 -1 3 -1 2.7 -1 1.2 -1-1.6 -1-6.2 -1-4.8 -1-3.7 -1 4.1 -1 5.1 -1 3.8 -1 .7 -1-1.8 -1-2.9 -1-3.5 -1 2.2 -1 2.3 -1-1 -1-2.4 -1 1.9 -1 .4 -1 .4 -1-4.3 -1-.7 -1 5.9 -1 .9 -1-.8 -1-.2 -1-.5 -1 1.2 -1 1.1 -1-2.3 -1-2.8 -1-.9 -1-.2 -1 .1 -1 1.4 -1-.8 -1-1.5 -1-1.7 -1-.9 -1 1.1 -1 2.4 -1-.7 -1 .7 -1 .2 -1 .4 -1 .7 -1-.5 -1-.6 -1-.1 -1-.9 -1 1.5 -1-.4 -1-2.3 -1-.1 -1-1.7 -1-.2 -1 .3 -1 1.8 -1 2.1 -1-.1 -1 .7 -1 1.8 -1 .7 -1-.4 -1-1.8 -1-.3 -1 1 -1 1.1 -1-.5 -1-.2 -1 .7 -1 0 -1 .4 -1-2.4 -1-2.7 -1 .4 -1 2 -1-2.7 -1-2.4 -1 2.7 -1 3.8 -1 1.4 -1 3.7 -1 1.5 -1-1.2 -1-.1 -1 0 -1-1.1 -1-2.6 -1 2.2 -1 .7 -1-1.5 -1-2.4 -1-1.1 -1 .5 -1 .3 -1 1.4 -1-.3 -1 1.2 -1 1 -1 .7 -1 1.9 -1 .9 -1-1.9 -1-2.5 -1 .1 -1 1.5 -1 4.2 -1-1.9 -1-2.9 -1-2.3 -1-1.2 -1 2.1 -1 1 -1-1.3 -1 .8 -1-.2 -1 .6 -1 .8 -1 .3 -1 .3 -1 2.4 -1 2.2 -1-1.6 -1-5.2 -1-1.5 -1-1.5 -1-1.4 -1 3.2 -1 3.3 -1-1.5 -1-5.1 -1-3.5 -1 3.7 -1 6.2 -1 3 -1-3.8 -1-4.3 -1-.2 -1 0 -1-1.6 -1-1.8 -1-.2 -1-.5 -1 .3 -1-1.6 -1-3.1 -1-2.6 -1-4.3 -1-.6 -1 5.4 -1 .9 -1-1.8 -1-.5 -1-.8 -1-1.9 -1-1 -1 .8 -1 3.7 -1 5.1 -1-3 -1-5.7 -1-2.8 -1 .5 -1 1.7 -1-.8 -1 .5 -1 3.4 -1-.9 -1-3.8 -1-2.2 -1 0 -1 1.1 -.5 .5 -.5 .4 -.5-.9 -.5-.9 -.5-1.6 -.5-1.6 -.5-1.3 -.5-1.2 -.5-.6 -.5-.7 -.5-.1 -.5-.2 -.5-.7 -.5-.6 -.5-.6 -.5-.6 -.5-.2 -.5-.1 -.5-.6 -.5-.7 -.5-1.4 -.5-1.4 -.5-1.2 -.5-1.1 -.5-.8 -.5-.9 -.5-1.3 -.5-1.3 -.5 0 -.5 0 -.5 1.1 -.5 1.2 -.5-.3 -.5-.3 -.5-1.8 -.5-1.7 -.5-1.9 -.5-1.9 -.5-1.4 -.5-1.4 -.5-1.1 -.5-1.2 -.5-1.1 -.5-1.2 -.5-.7 -.5-.7 -.5-.5 -.5-.6 -.5-1.4 -.5-1.4 -.5-1.3 -.5-1.5 -.5-1.6 -.5-1.6 -.5-1.6 -.5-1.8 -.5-2.4 -.5-2.5 -.5-1.9 -.5-1.9 -.5-2.3 -.5-2.3 -.5-1.8 -.5-1.9 -.5-2.1 -.5-2.2 -.5-2.4 -.5-2.4 -.5-2.3 -.5-2.3 -.5-2.2 -.5-2.3 -.5-2 -.5-2.1 -.5-2.3 -.5-2.4 -.5-2.4 -.5-2.5 -.5-2.6 -.5-2.6 -.5-2.5 -.5-2.7 -.5-2.8 -.5-2.8 -.5-2.9 -.5-2.8 -.5-2.9 -.5-3 -.5-3.4 -.5-3.4 -.5-3.5 -.5-3.7 -.5-3.8 -.5-3.9 -.5-4.2 -.5-4.3 -.5-4.5 -.5-4.8 -.5-5.3 -.5-5.8 -.5-6.1 -.5-6.4 -.5-6.8 -.5-7.1 -.5-7.3 -.5-7.5 -.5-7.6 -.5-8 -.5-8.5 -.5-9.2 -.5-9.8 -.5-10.3 -.5-10.7 -.5-11.4 -.5-12.3 -.5-13 -.5-13.7 -.5-14.3 -.5-15.3 -.5-16.3 -.5-16.6 -.5-15.8 -.5-14.9 -.5-14.5 -.5-14.9 -.5-16.2 -.5-17.5 -.5-18.3Z" fill="#A594B9" stroke="#A594B9" stroke-width="3.6" stroke-linejoin="round"/>
<path d="M206 97.9l.5 18.5 .5 17.6 .5 16 .5 14.5 .5 14.2 .5 14.7 .5 16.1 .5 17.1 .5 16.8 .5 15.6 .5 14.4 .5 13.9 .5 13 .5 12.2 .5 11.2 .5 10.3 .5 9.6 .5 9.2 .5 8.6 .5 8.3 .5 8 .5 7.9 .5 7.7 .5 7.6 .5 7.4 .5 7.1 .5 6.9 .5 6.5 .5 6 .5 5.6 .5 5.1 .5 4.7 .5 4.4 .5 4.2 .5 4 .5 3.7 .5 3.7 .5 3.5 .5 3.4 .5 3.3 .5 3.1 .5 2.9 .5 2.9 .5 2.7 .5 2.8 .5 2.7 .5 2.5 .5 2.4 .5 2.5 .5 2.4 .5 2.4 .5 2.4 .5 2.1 .5 2.1 .5 1.8 .5 1.7 .5 2.1 .5 2 .5 2.3 .5 2.3 .5 2.3 .5 2.2 .5 2.1 .5 2 .5 1.9 .5 1.8 .5 2.1 .5 2.1 .5 1.9 .5 1.9 .5 2 .5 2.1 .5 1.7 .5 1.7 .5 1.3 .5 1.3 .5 1.9 .5 1.8 .5 1.9 .5 2 .5 .9 .5 .9 .5 .8 .5 .7 .5 .7 .5 .7 .5 .3 .5 .3 .5 .6 .5 .6 .5 1.1 .5 1.1 .5 1.4 .5 1.3 .5 .8 .5 .9 .5-.1 .5 0 .5 0 .5-.1 .5 1.2 .5 1.2 .5 .8 .5 .8 .5 .9 .5 .9 .5 1.2 .5 1.3 .5 1.3 .5 1.4 .5 1 .5 1.1 .5 .4 .5 .4 .5 .2 .5 .1 .5 .2 .5 .2 .5 1 .5 .9 .5 .8 .5 .7 .5 1.2 .5 1.2 .5-.2 .5-.2 .5 .4 .5 .4 1 1.9 1-.7 1 .9 1 3.7 1 2.5 1-1.6 1-.9 1-.7 1-1.4 1-1.2 1 1.8 1 5.4 1 2.8 1-6.1 1-3.4 1-.2 1-1.7 1 .4 1 1 1 .6 1 2.3 1-1.8 1-7 1-.4 1 5.7 1 4.8 1 3 1 1.4 1 1.2 1 .2 1-.6 1 1.6 1 .6 1-1.3 1-1.5 1 2.4 1 3.8 1-.3 1-4.4 1-2.9 1 2.6 1 1.6 1 1.2 1-1.7 1-1.6 1 .2 1-.2 1 2.2 1 4.3 1 1.1 1-3 1-.7 1 1.7 1-1.4 1-1.2 1-.4 1-.4 1-.2 1-1 1-1.3 1-2.2 1-.9 1 5 1 4.8 1 .8 1-1.2 1-2.9 1-1.7 1 2.9 1 2.1 1-.8 1-1.7 1-.2 1-.9 1-.8 1-.4 1-1.9 1-1.6 1 .6 1 2 1 2 1 1 1-1.5 1 1.2 1 .3 1-.3 1 .9 1 1 1 .4 1-2.1 1-2.7 1-1.2 1-1.7 1-1.7 1-.2 1 1.5 1-2.1 1-1.9 1 2.3 1 3.9 1-.1 1-1.5 1-.4 1 2.8 1 2.7 1-1.1 1-.5 1 1.1 1-1.4 1-3.2 1-.4 1 0 1-.3 1-.3 1-1.4 1-1.2 1-.4 1 1.9 1 2.7 1-.9 1 .9 1-1.6 1-3.4 1-.8 1-.3 1 .6 1 1.8 1-.7 1-.4 1 .2 1 .9 1 .5 1-1.1 1-.5 1 1.1 1-.7 1 2.1 1 1.1 1-1.7 1-1.8 1-1.2 1 .7 1 3.6 1 4.1 1 .9 1-1 1-1.1 1-.6 1 1.8 1-.5 1-4.3 1-.6 1 1.2 1 .5 1-1.8 1-2.1 1 2.5 1 3 1 .2 1-1 1 .5 1 2.3 1 2.5 1 .2 1-3.5 1-7.9 1-7.3 1 2.9 1 7.8 1 5.7 1 1.6 1 .3 1-.9 1-2.4 1-2.3 1-2.8 1-2.8 1 4.1 1 5 1 .1 1 .3 1-1.8 1-2.1 1-.4 1 5.1 1 4.5 1 .1 1-.7 1 1.7 1 .9 1-1 1-.9 1-2.5 1-1.2 1-1.7 1 1.3 1 3.2 1 1.2 1-2.2 1-1.2 1 1.8 1 0 1 3.5 1 4.6 1 2.6 1 2.1 1-1.4 1-.3 1 3.9 1 1.7 1-.8 1-1.5 1 .6 1 .2 1-1.7 1-1.9 1-1.6 1-1.1 1 1.3 1 2.2 1 2 1 2.3 1 1.5 1 2.2 1 3.6 1 .6 1 1.5 1-2.4 1-3 1-.7 1 .7 1-.4 1 .9 1 3.3 1 2.5 1 4.1 1 2.8 1-9.7 1-1.7 1 2.6 1 .1 1-.3 1 1.5 1 3.2 1-.1 1-2.3 1-.9 1 2.3 1 3.5 1 .4 1-.8 1-2.6 1-1.2 1 .2 1 2.1 1 .9 1-1.9 1-.8 1 3 1 4.8 1 .4 1-4.1 1-3 1 0 1 2.4 1 2.9 1 1.3 1-2.6 1-2.5 1-.5 1-1.5 1 3.1 1 2.3 1 .6 1 4.3 1 3.2 1-6.5 1-.5 1-1.7 1-2.2 1 1.7 1 1.5 1-2.5 1 3.5 1 9.1 1 4.3 1-2.3 1-3.1 1-1.5 1-.2 1-1.4 1-.5 1-1.7 1-1.9 1 .8 1 3.9 1 3.8 1 1.3 1-.9 1-1 1 .6 1 .3 1-2.2 1-1.5 1-1.7 1-1.9 1 1.9 1 3 1 2.1 1 1.3 1-1.1 1-2.3 1 2.7 1 2.2 1-1.9 1-.4 1 2.7 1-.1 1 2.3 1 2.1 1-1.5 1-4.1 1 .5 1 .2 1 .1 1 .3 1 1.8 1 2.2 1-2.5 1-2.2 1 1.9 1 5.2 1 .3 1-3.5 1-.3 1 .6 1 1.8 1 2.4 1-2.5 1-2.2 1-1.1 1-1.6 1-.1 1 0 1 1.2 1 7.4 1 9.4 1 7.1 1-.1 1-6.1 1-6.3 1-5 1-.5 1 1.5 1 6.3 1 6.9 1-2.5 1-2.4 1-.9 1 .8 1 .1 1-.9 1-.8 1 .1 1 .2 1-1.4 1-1.4 1 .1 1 1.2 1 .7 1-.3 1-1 1 .9 1 3.8 1 2.8 1-1.1 1-.4 1 5.8 1 4.1 1 3.3 1 .8 1-2.4 1-6 1-2 1 1.9 1 .3 1 2.3 1-4.4 1-2.6 1 1.1 1-.4 1 .2 1 3.4 1 2.5 1 .1 1-2.1 1 .4 1 2.3 1 4.3 1 2.1 1-.1 1-.6 1-2.2 1 .2 1 3 1 3.9 1 1 1-1.4 1-2.2 1-1.4 1 3.1 1-.5 1 .3 1-.8 1-1.4 1-.8 1 1.6 1 7 1 5.4 1-1.1 1-6.4 1-5.7 1-1.4 1 .1 1 1 1 1.9 1 2.1 1 3.6 1 1.5 1-2.6 1-1.5 1-1.1 1 0 1-.6 1-1.1 1 3.1 1 5.8 1 2.4 1-1.4 1 1.7 1 .7 1-7.2 1-8.1 1-2.4 1 2.4 1 3.6 1 .3 1 .5 1 2 1-1.2 1-2.1 1-1.6 1-1.8 1-1.3 1 1.8 1 7.2 1 4.5 1-.3 1-2.1 1 1.8 1 4 1 4.3 1 1.7 1-3.4 1-3.3 1-1.8 1 1.6 1-3.2 1-3.1 1-.2 1 3.1 1 3 1-.7 1-3.5 1-1.3 1 5.7 1 1.8 1 .2 1-1.6 1-2.1 1 .3 1 2.8 1 .9 1-.7 1-.2 1 .2 1 1.2 1-.4 1 .2 1 1.6 1 2 1 1.8 1-2.2 1-2.8 1 1.5 1 1.3 1-1.6 1-2.2 1-6.6 1 0 1 4.2 1 1.1 1 .7 1-.4 1-.9 1-.4 1 2.1 1 3.5 1 .2 1-1.4 1 1.3 1 1.5 1-.5 1-3.6 1-4.1 1 .4 1 4.2 1 3.4 1 .5 1 1.8 1 1.5 1-1.7 1-3 1 .2 1-1.3 1-.4 1 .9 1-.5 1-1.3 1 2.1 1 2.1 1-4.1 1 .2 1 3 1 1.2 1 .7 1 2.2 1-1.4 1-4.5 1-3.7 1-1.7 1 2.6 1 .3 1-3 1 .4 1 .1 1-.3 1-.6 1-1.4 1 4.9 1 10.2 1 1.3 1-.8 1-.5 1-1.4 1-2.7 1-1.8 1 1.5 1 3.3 1 1.1 1-2.8 1-2.2 1-3.4 1-1.9 1-.4 1-4.8 1-.8 1 1.5 1 2 1 5.5 1 1.8 1-1.9 1-1.3 1-5 1 4.5 1 14.3 1 10.8 1-.7 1-10.4 1-10.5 1-6.2 1-6 1-7.8 1 .7 1 6.2 1 4.8 1 6.7 1 2.8 1 .3 1-2.1 1 .1 1 4.9 1 4.6 1-1 1-5.4 1-3.9 1-2.7 1-1.1 1 1 1 .3 1-4.1 1-2.5 1 2 1-.9 1 .9 1 2.6 1 4.3 1 5.2 1 3 1 .5 1-1.4 1-3 1-3.4 1-2.9 1-3.1 1-1.3 1 1.2 1 3.6 1 2.6 1-.9 1-1.5 1 1.4 1 2 1-1.2 1-5.3 1-1.5 1 4.2 1 3.2 1-2.9 1-.2 1 3.5 1 2.5 1-.9 1-2.4 1-1 1 2.9 1 1.5 1-2.1 1 .3 1 2.2 1-1 1-3.6 1-3.3 1-1.1 1 1.8 1 1.8 1-.7 1-1.2 1 1.9 1 3.2 1 8.6 1 1.2 1-8.7 1-5 1 1.8 1 2.4 1 3.7 1 1.8 1-3.6 1-4.7 1-2.2 1 1.3 1 1 1-3.4 1-6.7 1-.9 1 6 1 4.2 1 3.8 1 1.6 1-2.9 1-1.4 1 1 1-1.3 1-.5 1 2.7 1 1.5 1 .1 1 1.7 1-.1 1-.9 1-2.5 1-.9 1 .7 1-1.9 1-4.5 1-1.7 1 2.6 1-1.1 1-3.1 1 1.6 1 2.4 1 .1 1 .2 1 1.6 1-.1 1 1.5 1 .4 1-1 1 1.3 1 .5 1 2.2 1 6.6 1 3.4 1-3.1 1-4.9 1-5 1-1.7 1 2.1 1-1 1 .1 1-.6 1 .3 1 1.2 1-1.7 1-2 1 1.1 1 1.9 1 1.1 1-1.1 1-3.4 1-4.9 1 .5 1 5.8 1-.3 1-3.6 1-1.5 1 .5 1 .6 1-2.8 1-.4 1 .6 1 .2 1-.9 1 .3 1 4 1 4.7 1 1 1-2.6 1-3.9 1-4.6 1-2.7 1-.8 1 .1 1 3.5 1 4.6 1 1.1 1 .4 1 1.1 1-1.9 1-.9 1 1.8 1 2.5 1 4.3 1 .9 1-3.3 1-3.9 1-1.8 1-2.1 1 1.7 1 3.2 1-.7 1-.8 1 1.3 1 1 1-.7 1 .5 1 .5 1-2.3 1-1.7 1 2.2 1 1.6 1-.2 1 1.3 1-1.2 1-3.7 1 1 1 3.1 1 .7 1 2 1 6.2 1 3.5 1-6.9 1-4.7 1 2.1 1 4.5 1-.7 1-2.8 1-3 1-.7 1 .8 1-.9 1-1.3 1-1.1 1-.5 1-.6 1-1.2 1-1.1 1 1.7 1 4.2 1 3.9 1-2 1-1.4 1 .5 1 .2 1 1.8 1 .5 1-.6 1 .3 1 1 1-2.3 1-6.6 1-1.2 1 1.6 1 1.1 1-.3 1-1.8 1 4 1 4.9 1 3.7 1 2.4 1 .4 1-4.1 1-4.4 1 .3 1 2 1 1.3 1-.8 1-5.1 1-5.1 1-2.7 1 2.6 1 3.5 1-.8 1 .4 1 3 1-2.1 1-1.7 1 2.7 1 4.3 1 2.5 1 .1 1-.7 1 .7 1 1.3 1-.8 1-3.6 1-6.4 1-2.6 1-.2 1 1.3 1 3 1 1.6 1-1.9 1-3.4 1-1.6 1 .9 1 1.7 1 2.3 1 2.7 1 .8 1-2 1-1.4 1-.2 1-2.9 1-4.2 1 2.4 1 2.6 1-1.1 1 2.1 1 5.5 1 4.2 1-1.6L1143 740.5l-1 .4 -1-5.8 -1-7.1 -1 .3 -1 1.8 -1-.5 -1-1.1 -1 2.4 -1-.8 -1-1.5 -1 .9 -1 2.1 -1 .3 -1-2.7 -1-1.2 -1 .6 -1-.5 -1 1.1 -1 4.1 -1 2.8 -1 .3 -1-4.1 -1-6 -1 .4 -1 3.7 -1 5.9 -1 4.2 -1 .1 -1-.4 -1-1.2 -1 0 -1 .8 -1-1 -1-3 -1-3.3 -1 1 -1 2.2 -1-3.5 -1-.2 -1 2.4 -1-1.5 -1-4.1 -1-.2 -1 4.1 -1 3.8 -1 2.8 -1-1.5 -1-4.9 -1 1 -1 6.4 -1 5.1 -1-1.7 -1-4.2 -1-2.3 -1-4.6 -1-4.3 -1 1.5 -1 .4 -1-1.3 -1-1.7 -1 3.6 -1 4.4 -1 4.6 -1-.1 -1-1.4 -1-1.8 -1-1.6 -1-3 -1 .5 -1 4.2 -1 4.5 -1 .6 -1-.9 -1-3.6 -1-3.9 -1-.9 -1 .4 -1-.1 -1-2.3 -1 1.2 -1 2.4 -1 0 -1-2.3 -1 .1 -1 3.9 -1 3.3 -1-.9 -1-2.8 -1 .1 -1 4.7 -1 7.3 -1-2 -1-8.2 -1-5 -1-.9 -1-.5 -1 .2 -1 1.1 -1 1.3 -1 1.1 -1 1.2 -1-1.8 -1-5.2 -1 1.8 -1 5.8 -1 .6 -1-3.7 -1 .3 -1-.3 -1-1.6 -1 1.5 -1-.2 -1-3 -1-4.4 -1-.4 -1 3 -1 6 -1 5.5 -1 0 -1-4.2 -1-2.4 -1 .1 -1 .4 -1-1.6 -1-2.7 -1-1.1 -1-1.4 -1-4.3 -1-2.9 -1 1.7 -1 2.2 -1 3.6 -1 3.2 -1 1.2 -1 .8 -1 .4 -1-3.9 -1-4.8 -1-1.9 -1 3.7 -1-.5 -1-1.1 -1 1.3 -1 2.5 -1 0 -1-.7 -1-.3 -1 2.8 -1 1.5 -1-1.9 -1 .2 -1 1.4 -1 .8 -1 2.9 -1-1.1 -1-5.2 -1 1.1 -1 1.3 -1 2.1 -1-.7 -1 .7 -1 .4 -1-1.3 -1-.3 -1 1.5 -1 2 -1 6.3 -1 3.1 -1 2.7 -1-3.2 -1-6.5 -1-2 -1-.4 -1-.9 -1 .1 -1 .6 -1-.1 -1-1.8 -1-1.7 -1-1.8 -1-.4 -1-1.4 -1-.6 -1 5.6 -1 3 -1-3.3 -1 .8 -1 4.4 -1 1.8 -1 .7 -1 .1 -1-.1 -1-1.2 -1 .2 -1-1.9 -1 4 -1 .9 -1-2.7 -1-1.3 -1-1.9 -1 .1 -1 3 -1 1.6 -1-1.9 -1-3.4 -1-6.1 -1-2.8 -1 2.1 -1 4.6 -1 3.3 -1-.7 -1-.4 -1 3.4 -1 5 -1 1.3 -1-1.4 -1-2.9 -1-3.5 -1-1.9 -1 4.5 -1 8.3 -1-2.7 -1-10.1 -1-4.1 -1-.6 -1-.4 -1 3.5 -1 2.3 -1 .7 -1 .6 -1 2.2 -1 2.3 -1 2.2 -1-2.5 -1-3.7 -1-1.2 -1-.7 -1-1 -1 1.7 -1 2.1 -1-.1 -1-3 -1-1.2 -1-1.2 -1 2.8 -1-.9 -1-5.3 -1 .1 -1 5.7 -1 .8 -1-3.3 -1-1.3 -1 .9 -1 2.6 -1 .1 -1-3.9 -1-2.4 -1 1.9 -1 2.2 -1 2.7 -1 5.8 -1 3 -1 .8 -1-.1 -1-4.5 -1-7.6 -1-3.4 -1 .7 -1 1 -1 .3 -1-.8 -1 1.3 -1 .9 -1-2.8 -1 1.9 -1 1.7 -1 2 -1 4.1 -1 7 -1 4.5 -1-6.7 -1-6.3 -1-.2 -1-.4 -1-1.7 -1-4.9 -1-4.3 -1-.3 -1 .9 -1 1.9 -1 9.6 -1 30.9 -1 26.5 -1 7.3 -1 .9 -1-1.8 -1-13.3 -1-32.6 -1-23.9 -1 .7 -1 2.2 -1 .5 -1-2.4 -1-4.4 -1-3.1 -1-2.5 -1 2.9 -1 3.8 -1 1.5 -1 1.2 -1 3.2 -1 2.7 -1 4.7 -1-.1 -1-6.2 -1-2.7 -1 .9 -1 1.6 -1 1.8 -1 1.8 -1 .9 -1-1.9 -1-9 -1-5.6 -1 .7 -1 4.4 -1 1.7 -1-2.3 -1 .8 -1 .6 -1-2.7 -1-.7 -1 2.6 -1 3.2 -1 3 -1-1.2 -1-.6 -1 .8 -1-.3 -1-1.8 -1 1.3 -1 2.4 -1-1.7 -1-2.3 -1 .6 -1-.8 -1 .4 -1 3.4 -1 1.4 -1-2.6 -1-1.2 -1 .5 -1-1.2 -1-.6 -1-.9 -1-2.4 -1-.7 -1 1.4 -1 6.4 -1 5 -1-1 -1-3 -1-1.8 -1-.9 -1-1 -1-1.1 -1-2.8 -1-2.6 -1-.7 -1-.6 -1 1.6 -1 .3 -1-3.3 -1 .3 -1 6.2 -1 3.1 -1-.8 -1-1.7 -1-1.1 -1 2 -1 1.2 -1-.9 -1-2.1 -1-1.4 -1 .5 -1-.1 -1 1.8 -1-.4 -1-.2 -1 3.1 -1-1.9 -1-6.2 -1 2.8 -1 4.5 -1 1.2 -1-3.9 -1-4.8 -1-3.3 -1 .3 -1 1.6 -1 3.1 -1 .4 -1-1.1 -1-1 -1-.1 -1 0 -1 .4 -1 1.8 -1 3.2 -1 1 -1 .8 -1-2.5 -1-4.7 -1-.6 -1 1.7 -1-.2 -1-4.9 -1-6.7 -1-1.6 -1 1.4 -1 1.1 -1 .9 -1 .9 -1 1.7 -1 1.1 -1 1.4 -1-.5 -1-5.7 -1-4.2 -1 .9 -1 8.2 -1 5.9 -1 1.8 -1-.5 -1 .6 -1-2.9 -1-7.7 -1-3.6 -1 1.5 -1 .7 -1 0 -1 3.9 -1 4.6 -1 2.5 -1-2.3 -1-3.8 -1-5 -1-3.1 -1 .2 -1 2.7 -1 3 -1 1.9 -1 2.8 -1 4.1 -1-3.6 -1-7.1 -1-3.2 -1-.4 -1 1.4 -1 1.1 -1-.6 -1-1.2 -1-.6 -1 .4 -1 3.3 -1 2.8 -1 2.3 -1-3 -1-4.2 -1 .7 -1 2 -1 2.4 -1 0 -1-4.7 -1-5.7 -1-3.7 -1-1.1 -1 .6 -1 .9 -1-1.5 -1-3.4 -1-1.9 -1 1.4 -1 1.2 -1 2.5 -1 2.1 -1-3.8 -1-.3 -1-1.2 -1 2.4 -1 5.3 -1 2.2 -1-.5 -1-1.1 -1-6.6 -1-4 -1-.1 -1 2.1 -1-2.3 -1-3.5 -1-.8 -1 .6 -1 1.2 -1 1 -1 .2 -1-.1 -1 .2 -1 .6 -1-.5 -1-1.1 -1-.8 -1-.9 -1 2.3 -1 1.1 -1-.3 -1 3 -1 0 -1-6.8 -1-5.9 -1 .5 -1 1.1 -1 5.5 -1 6.6 -1 3.6 -1 1.2 -1-4.4 -1-7.7 -1-7.4 -1-.3 -1 .6 -1-1.5 -1-.6 -1-.4 -1 .5 -1 1.8 -1 2.5 -1-.5 -1-4 -1-1.1 -1 2.7 -1-.3 -1-2.6 -1-2.2 -1 2 -1 3.1 -1-2.7 -1-4.8 -1-.9 -1 .2 -1 1.4 -1 .1 -1 2.1 -1 1.5 -1-.4 -1-1.2 -1-1.5 -1-1 -1-1 -1-1.7 -1-1.1 -1-.7 -1 2.1 -1 1.2 -1-3.3 -1-3.9 -1-.1 -1 1.3 -1 1.8 -1 3.9 -1-1.5 -1-3.1 -1-.3 -1 2.9 -1 1.5 -1-.6 -1-1.6 -1-2.9 -1-3.1 -1 .5 -1 3 -1 .7 -1-1.7 -1-.2 -1 .4 -1 1.8 -1 4.1 -1 4.7 -1-3.3 -1-9.7 -1-6.1 -1-.9 -1 1.2 -1-.3 -1 2.2 -1 .5 -1 2.5 -1 6.2 -1-2.4 -1-1.6 -1 1.6 -1 .3 -1-1.5 -1-2.1 -1 2.5 -1-.4 -1-4.5 -1 1.6 -1 3.2 -1 .7 -1-1.5 -1-.9 -1-.8 -1-2.9 -1-3.3 -1-1.4 -1 .6 -1 .4 -1-.7 -1-2.1 -1 .3 -1 1.4 -1 .6 -1 2.8 -1-.1 -1-2.3 -1-2.1 -1-2.9 -1 2.8 -1 .2 -1 0 -1 1.4 -1-2 -1-3.7 -1-1.7 -1 1.5 -1 7.8 -1-.9 -1-2.3 -1-3.1 -1-5.4 -1-1.4 -1 1.1 -1-1.5 -1 1.5 -1 1.7 -1 .4 -1 1.5 -1-2.6 -1-3.1 -1-1 -1 .6 -1-1.5 -1-3.7 -1-2.1 -1-1.6 -1 3 -1 3.1 -1-.1 -1-.3 -1-.9 -1-.4 -1 1.4 -1 .7 -1-3.1 -1-4.1 -1-.1 -1 1.6 -1-.8 -1-3.1 -1-5.6 -1-2.4 -1 0 -1 .6 -1 2.4 -1 3.4 -1-.5 -1-2 -1-1.4 -1 .2 -1 1.4 -1 1.2 -1 .4 -1 .7 -1 1.3 -1-1.1 -1-1.5 -1-1.3 -1-2.8 -1-4 -1 .4 -1 .3 -1-.3 -1-.5 -1-.8 -1-4.5 -1-4.7 -1 2.3 -1 2.7 -1 1.7 -1 2.8 -1 2.2 -1 .7 -1-2.1 -1-6.5 -1-4.8 -1-3.2 -1 4.9 -1 6.1 -1 4.7 -1 1.3 -1-1.6 -1-3 -1-3.7 -1 2 -1 2.1 -1-1.2 -1-2.7 -1 1.8 -1 .4 -1 .5 -1-4.3 -1-.3 -1 6.3 -1 1.4 -1-.4 -1-.2 -1-.5 -1 1 -1 .7 -1-2.7 -1-3.3 -1-1.5 -1-.4 -1 .5 -1 2.2 -1 0 -1-1 -1-1.5 -1-.9 -1 .7 -1 1.9 -1-1 -1 .6 -1 .3 -1 .7 -1 1 -1-.3 -1-.5 -1-.4 -1-1.3 -1 1.5 -1-.1 -1-1.8 -1 .4 -1-1.5 -1-.1 -1 .3 -1 1.4 -1 1.6 -1-.6 -1 .5 -1 2 -1 1.3 -1 .2 -1-1.2 -1 0 -1 1.1 -1 1 -1-.8 -1-.7 -1 .2 -1-.5 -1 .2 -1-2.6 -1-2.8 -1 .4 -1 2.2 -1-2.3 -1-2.1 -1 2.7 -1 3.8 -1 1.3 -1 3.8 -1 1.8 -1-.8 -1 .4 -1 .3 -1-1 -1-2.6 -1 2 -1 .7 -1-1.3 -1-2.2 -1-.8 -1 .4 -1 0 -1 .9 -1-1 -1 .5 -1 .6 -1 .6 -1 2.2 -1 1.2 -1-1.5 -1-2.1 -1 .6 -1 1.8 -1 4.5 -1-1.8 -1-2.7 -1-2.4 -1-1.7 -1 1.6 -1 .5 -1-1.7 -1 .7 -1-.3 -1 .8 -1 1.2 -1 1.1 -1 1.1 -1 3.2 -1 2.9 -1-1.1 -1-4.7 -1-1.3 -1-1.4 -1-1.4 -1 3.3 -1 3.4 -1-1.4 -1-5.3 -1-4.1 -1 3 -1 5.6 -1 2.7 -1-3.9 -1-4.2 -1 .1 -1 .3 -1-1.2 -1-1.6 -1 .2 -1-.3 -1 .3 -1-1.7 -1-3.4 -1-3.1 -1-4.7 -1-.8 -1 5.5 -1 1.3 -1-1 -1 .3 -1-.1 -1-1.7 -1-1 -1 .6 -1 3.6 -1 5.3 -1-2.6 -1-5.2 -1-2.2 -1 .8 -1 1.9 -1-1 -1-.1 -1 2.8 -1-1.1 -1-3.7 -1-1.9 -1 .1 -1 1 -.5 .4 -.5 .3 -.5-1 -.5-1.1 -.5-1.8 -.5-1.7 -.5-1.4 -.5-1.3 -.5-.7 -.5-.8 -.5-.2 -.5-.2 -.5-.7 -.5-.7 -.5-.8 -.5-.8 -.5-.4 -.5-.4 -.5-.9 -.5-.9 -.5-1.7 -.5-1.7 -.5-1.4 -.5-1.4 -.5-1 -.5-1 -.5-1.4 -.5-1.4 -.5 0 -.5 .1 -.5 1.3 -.5 1.2 -.5-.2 -.5-.3 -.5-1.7 -.5-1.8 -.5-1.9 -.5-2 -.5-1.4 -.5-1.4 -.5-1.1 -.5-1.2 -.5-1.1 -.5-1.1 -.5-.7 -.5-.8 -.5-.6 -.5-.8 -.5-1.5 -.5-1.5 -.5-1.4 -.5-1.6 -.5-1.5 -.5-1.7 -.5-1.6 -.5-1.7 -.5-2.4 -.5-2.5 -.5-1.9 -.5-2 -.5-2.4 -.5-2.3 -.5-1.9 -.5-2 -.5-2.2 -.5-2.2 -.5-2.4 -.5-2.5 -.5-2.3 -.5-2.3 -.5-2.2 -.5-2.2 -.5-2 -.5-2 -.5-2.2 -.5-2.4 -.5-2.4 -.5-2.5 -.5-2.6 -.5-2.7 -.5-2.6 -.5-2.8 -.5-2.9 -.5-3 -.5-2.9 -.5-3 -.5-3 -.5-3.2 -.5-3.4 -.5-3.6 -.5-3.7 -.5-3.8 -.5-3.9 -.5-4.1 -.5-4.4 -.5-4.5 -.5-4.7 -.5-5.1 -.5-5.6 -.5-6 -.5-6.5 -.5-6.9 -.5-7.1 -.5-7.4 -.5-7.6 -.5-7.7 -.5-7.9 -.5-8 -.5-8.3 -.5-8.6 -.5-9.2 -.5-9.6 -.5-10.3 -.5-11.2 -.5-12.2 -.5-13 -.5-13.9 -.5-14.4 -.5-15.6 -.5-16.8 -.5-17.1 -.5-16.1 -.5-14.7 -.5-14.2 -.5-14.5 -.5-16 -.5-17.6 -.5-18.5Z" fill="#8BBFD3" stroke="#8BBFD3" stroke-width="3.6" stroke-linejoin="round"/></g>
<defs><clipPath id="plotclip"><rect x="114" y="133" width="1031" height="627"/></clipPath></defs>
</svg></body></html>
